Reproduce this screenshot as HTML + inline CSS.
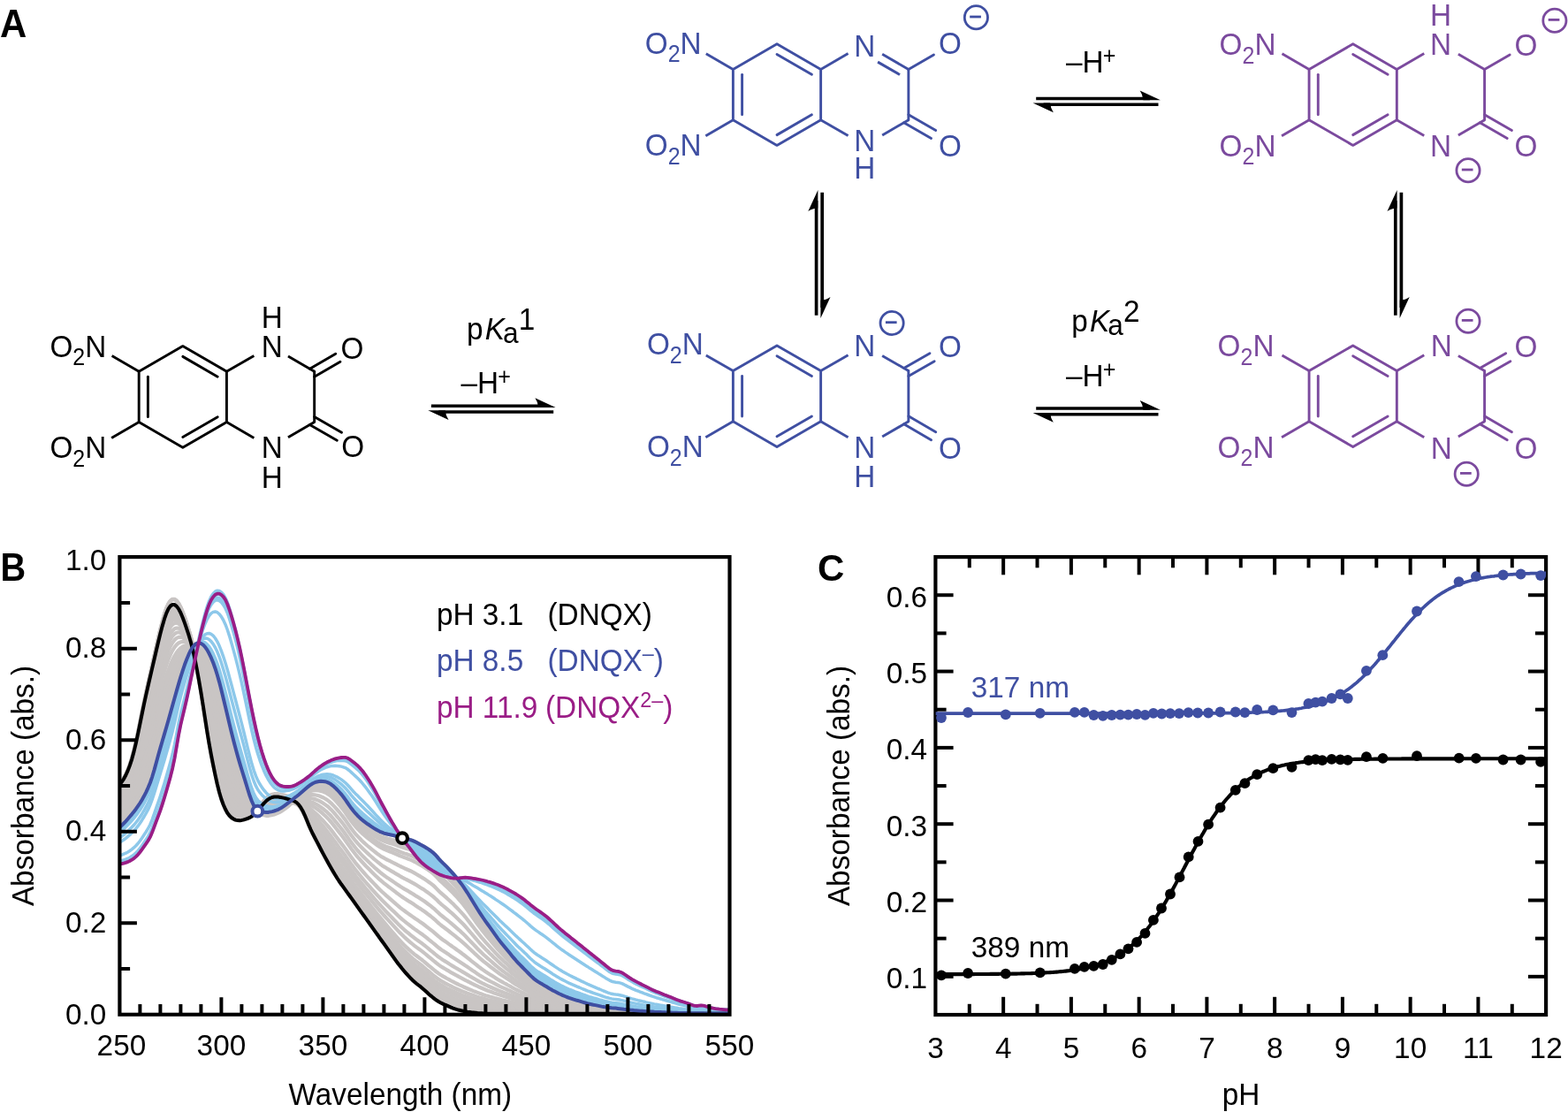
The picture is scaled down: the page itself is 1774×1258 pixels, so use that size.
<!DOCTYPE html>
<html lang="en"><head><meta charset="utf-8"><title>DNQX acid-base equilibria</title>
<style>
html,body{margin:0;padding:0;background:#fff;}
body{width:1774px;height:1258px;overflow:hidden;}
svg{display:block;font-family:"Liberation Sans",Arial,Helvetica,sans-serif;}
</style></head><body>
<svg width="1774" height="1258" viewBox="0 0 1774 1258">
<rect width="1774" height="1258" fill="#fff"/>
<g>
<polygon points="206.80,391.60 256.42,420.25 256.42,477.55 206.80,506.20 157.18,477.55 157.18,420.25" fill="none" stroke="#000000" stroke-width="2.9" stroke-linejoin="round"/>
<line x1="167.38" y1="426.14" x2="167.38" y2="471.66" stroke="#000000" stroke-width="2.9" stroke-linecap="round"/>
<line x1="206.80" y1="403.38" x2="246.22" y2="426.14" stroke="#000000" stroke-width="2.9" stroke-linecap="round"/>
<line x1="246.22" y1="471.66" x2="206.80" y2="494.42" stroke="#000000" stroke-width="2.9" stroke-linecap="round"/>
<line x1="157.18" y1="420.25" x2="126.61" y2="402.60" stroke="#000000" stroke-width="2.9" stroke-linecap="butt"/>
<line x1="157.18" y1="477.55" x2="126.17" y2="495.45" stroke="#000000" stroke-width="2.9" stroke-linecap="butt"/>
<text transform="translate(120.29,403.87) scale(1,1.07)" font-size="33.33" fill="#000000" text-anchor="end">O<tspan font-size="25.00" dy="8.97">2</tspan><tspan dy="-8.97">N</tspan></text>
<text transform="translate(120.29,518.47) scale(1,1.07)" font-size="33.33" fill="#000000" text-anchor="end">O<tspan font-size="25.00" dy="8.97">2</tspan><tspan dy="-8.97">N</tspan></text>
<line x1="256.42" y1="420.25" x2="287.34" y2="402.40" stroke="#000000" stroke-width="2.9" stroke-linecap="butt"/>
<line x1="256.42" y1="477.55" x2="287.34" y2="495.40" stroke="#000000" stroke-width="2.9" stroke-linecap="butt"/>
<line x1="325.97" y1="403.10" x2="355.67" y2="420.25" stroke="#000000" stroke-width="2.9" stroke-linecap="butt"/>
<line x1="325.97" y1="494.70" x2="355.67" y2="477.55" stroke="#000000" stroke-width="2.9" stroke-linecap="butt"/>
<line x1="355.67" y1="420.25" x2="355.67" y2="477.55" stroke="#000000" stroke-width="2.9" stroke-linecap="round"/>
<line x1="350.47" y1="417.25" x2="379.74" y2="400.35" stroke="#000000" stroke-width="2.9" stroke-linecap="round"/>
<line x1="355.67" y1="426.25" x2="384.94" y2="409.35" stroke="#000000" stroke-width="2.9" stroke-linecap="round"/>
<line x1="350.47" y1="480.55" x2="381.30" y2="498.35" stroke="#000000" stroke-width="2.9" stroke-linecap="round"/>
<line x1="355.67" y1="471.55" x2="386.50" y2="489.35" stroke="#000000" stroke-width="2.9" stroke-linecap="round"/>
<text transform="translate(398.50,405.57) scale(1,1.07)" font-size="33.33" fill="#000000" text-anchor="middle">O</text>
<text transform="translate(399.30,517.37) scale(1,1.07)" font-size="33.33" fill="#000000" text-anchor="middle">O</text>
<text transform="translate(307.85,403.87) scale(1,1.07)" font-size="33.33" fill="#000000" text-anchor="middle">N</text>
<text transform="translate(307.85,518.47) scale(1,1.07)" font-size="33.33" fill="#000000" text-anchor="middle">N</text>
<text transform="translate(307.85,370.87) scale(1,1.07)" font-size="33.33" fill="#000000" text-anchor="middle">H</text>
<text transform="translate(307.85,552.27) scale(1,1.07)" font-size="33.33" fill="#000000" text-anchor="middle">H</text>
</g>
<g>
<polygon points="879.00,49.80 928.62,78.45 928.62,135.75 879.00,164.40 829.38,135.75 829.38,78.45" fill="none" stroke="#3f4fa2" stroke-width="2.9" stroke-linejoin="round"/>
<line x1="839.58" y1="84.34" x2="839.58" y2="129.86" stroke="#3f4fa2" stroke-width="2.9" stroke-linecap="round"/>
<line x1="879.00" y1="61.58" x2="918.42" y2="84.34" stroke="#3f4fa2" stroke-width="2.9" stroke-linecap="round"/>
<line x1="918.42" y1="129.86" x2="879.00" y2="152.62" stroke="#3f4fa2" stroke-width="2.9" stroke-linecap="round"/>
<line x1="829.38" y1="78.45" x2="798.81" y2="60.80" stroke="#3f4fa2" stroke-width="2.9" stroke-linecap="butt"/>
<line x1="829.38" y1="135.75" x2="798.37" y2="153.65" stroke="#3f4fa2" stroke-width="2.9" stroke-linecap="butt"/>
<text transform="translate(793.59,60.67) scale(1,1.07)" font-size="33.33" fill="#3f4fa2" text-anchor="end">O<tspan font-size="25.00" dy="8.97">2</tspan><tspan dy="-8.97">N</tspan></text>
<text transform="translate(793.59,175.97) scale(1,1.07)" font-size="33.33" fill="#3f4fa2" text-anchor="end">O<tspan font-size="25.00" dy="8.97">2</tspan><tspan dy="-8.97">N</tspan></text>
<line x1="928.62" y1="78.45" x2="959.54" y2="60.60" stroke="#3f4fa2" stroke-width="2.9" stroke-linecap="butt"/>
<line x1="928.62" y1="135.75" x2="959.54" y2="153.60" stroke="#3f4fa2" stroke-width="2.9" stroke-linecap="butt"/>
<line x1="998.17" y1="61.30" x2="1027.87" y2="78.45" stroke="#3f4fa2" stroke-width="2.9" stroke-linecap="butt"/>
<line x1="998.17" y1="152.90" x2="1027.87" y2="135.75" stroke="#3f4fa2" stroke-width="2.9" stroke-linecap="butt"/>
<line x1="1027.87" y1="78.45" x2="1027.87" y2="135.75" stroke="#3f4fa2" stroke-width="2.9" stroke-linecap="round"/>
<line x1="993.07" y1="70.13" x2="1018.01" y2="84.53" stroke="#3f4fa2" stroke-width="2.9" stroke-linecap="butt"/>
<line x1="1027.87" y1="78.45" x2="1056.45" y2="61.95" stroke="#3f4fa2" stroke-width="2.9" stroke-linecap="round"/>
<line x1="1022.67" y1="138.75" x2="1053.50" y2="156.55" stroke="#3f4fa2" stroke-width="2.9" stroke-linecap="round"/>
<line x1="1027.87" y1="129.75" x2="1058.70" y2="147.55" stroke="#3f4fa2" stroke-width="2.9" stroke-linecap="round"/>
<text transform="translate(1075.00,61.37) scale(1,1.07)" font-size="33.33" fill="#3f4fa2" text-anchor="middle">O</text>
<text transform="translate(1075.00,176.87) scale(1,1.07)" font-size="33.33" fill="#3f4fa2" text-anchor="middle">O</text>
<text transform="translate(978.25,63.87) scale(1,1.07)" font-size="33.33" fill="#3f4fa2" text-anchor="middle">N</text>
<text transform="translate(978.25,171.27) scale(1,1.07)" font-size="33.33" fill="#3f4fa2" text-anchor="middle">N</text>
<text transform="translate(978.25,202.17) scale(1,1.07)" font-size="33.33" fill="#3f4fa2" text-anchor="middle">H</text>
<circle cx="1104.40" cy="19.80" r="13.1" fill="none" stroke="#3f4fa2" stroke-width="2.8"/>
<line x1="1097.20" y1="19.00" x2="1109.90" y2="19.00" stroke="#3f4fa2" stroke-width="2.8" stroke-linecap="butt"/>
</g>
<g>
<polygon points="879.00,390.90 928.62,419.55 928.62,476.85 879.00,505.50 829.38,476.85 829.38,419.55" fill="none" stroke="#3f4fa2" stroke-width="2.9" stroke-linejoin="round"/>
<line x1="839.58" y1="425.44" x2="839.58" y2="470.96" stroke="#3f4fa2" stroke-width="2.9" stroke-linecap="round"/>
<line x1="879.00" y1="402.68" x2="918.42" y2="425.44" stroke="#3f4fa2" stroke-width="2.9" stroke-linecap="round"/>
<line x1="918.42" y1="470.96" x2="879.00" y2="493.72" stroke="#3f4fa2" stroke-width="2.9" stroke-linecap="round"/>
<line x1="829.38" y1="419.55" x2="798.81" y2="401.90" stroke="#3f4fa2" stroke-width="2.9" stroke-linecap="butt"/>
<line x1="829.38" y1="476.85" x2="798.37" y2="494.75" stroke="#3f4fa2" stroke-width="2.9" stroke-linecap="butt"/>
<text transform="translate(795.79,401.17) scale(1,1.07)" font-size="33.33" fill="#3f4fa2" text-anchor="end">O<tspan font-size="25.00" dy="8.97">2</tspan><tspan dy="-8.97">N</tspan></text>
<text transform="translate(795.79,517.07) scale(1,1.07)" font-size="33.33" fill="#3f4fa2" text-anchor="end">O<tspan font-size="25.00" dy="8.97">2</tspan><tspan dy="-8.97">N</tspan></text>
<line x1="928.62" y1="419.55" x2="959.54" y2="401.70" stroke="#3f4fa2" stroke-width="2.9" stroke-linecap="butt"/>
<line x1="928.62" y1="476.85" x2="959.54" y2="494.70" stroke="#3f4fa2" stroke-width="2.9" stroke-linecap="butt"/>
<line x1="998.17" y1="402.40" x2="1027.87" y2="419.55" stroke="#3f4fa2" stroke-width="2.9" stroke-linecap="butt"/>
<line x1="998.17" y1="494.00" x2="1027.87" y2="476.85" stroke="#3f4fa2" stroke-width="2.9" stroke-linecap="butt"/>
<line x1="1027.87" y1="419.55" x2="1027.87" y2="476.85" stroke="#3f4fa2" stroke-width="2.9" stroke-linecap="round"/>
<line x1="1022.67" y1="416.55" x2="1051.94" y2="399.65" stroke="#3f4fa2" stroke-width="2.9" stroke-linecap="round"/>
<line x1="1027.87" y1="425.55" x2="1057.14" y2="408.65" stroke="#3f4fa2" stroke-width="2.9" stroke-linecap="round"/>
<line x1="1022.67" y1="479.85" x2="1053.50" y2="497.65" stroke="#3f4fa2" stroke-width="2.9" stroke-linecap="round"/>
<line x1="1027.87" y1="470.85" x2="1058.70" y2="488.65" stroke="#3f4fa2" stroke-width="2.9" stroke-linecap="round"/>
<text transform="translate(1075.00,404.17) scale(1,1.07)" font-size="33.33" fill="#3f4fa2" text-anchor="middle">O</text>
<text transform="translate(1075.00,518.77) scale(1,1.07)" font-size="33.33" fill="#3f4fa2" text-anchor="middle">O</text>
<text transform="translate(978.25,403.17) scale(1,1.07)" font-size="33.33" fill="#3f4fa2" text-anchor="middle">N</text>
<text transform="translate(978.25,517.77) scale(1,1.07)" font-size="33.33" fill="#3f4fa2" text-anchor="middle">N</text>
<text transform="translate(978.25,551.27) scale(1,1.07)" font-size="33.33" fill="#3f4fa2" text-anchor="middle">H</text>
<circle cx="1009.10" cy="365.50" r="13.1" fill="none" stroke="#3f4fa2" stroke-width="2.8"/>
<line x1="1001.90" y1="364.70" x2="1014.60" y2="364.70" stroke="#3f4fa2" stroke-width="2.8" stroke-linecap="butt"/>
</g>
<g>
<polygon points="1530.70,49.80 1580.32,78.45 1580.32,135.75 1530.70,164.40 1481.08,135.75 1481.08,78.45" fill="none" stroke="#7b4a9e" stroke-width="2.9" stroke-linejoin="round"/>
<line x1="1491.28" y1="84.34" x2="1491.28" y2="129.86" stroke="#7b4a9e" stroke-width="2.9" stroke-linecap="round"/>
<line x1="1530.70" y1="61.58" x2="1570.12" y2="84.34" stroke="#7b4a9e" stroke-width="2.9" stroke-linecap="round"/>
<line x1="1570.12" y1="129.86" x2="1530.70" y2="152.62" stroke="#7b4a9e" stroke-width="2.9" stroke-linecap="round"/>
<line x1="1481.08" y1="78.45" x2="1450.51" y2="60.80" stroke="#7b4a9e" stroke-width="2.9" stroke-linecap="butt"/>
<line x1="1481.08" y1="135.75" x2="1450.07" y2="153.65" stroke="#7b4a9e" stroke-width="2.9" stroke-linecap="butt"/>
<text transform="translate(1443.49,62.07) scale(1,1.07)" font-size="33.33" fill="#7b4a9e" text-anchor="end">O<tspan font-size="25.00" dy="8.97">2</tspan><tspan dy="-8.97">N</tspan></text>
<text transform="translate(1443.49,176.67) scale(1,1.07)" font-size="33.33" fill="#7b4a9e" text-anchor="end">O<tspan font-size="25.00" dy="8.97">2</tspan><tspan dy="-8.97">N</tspan></text>
<line x1="1580.32" y1="78.45" x2="1611.24" y2="60.60" stroke="#7b4a9e" stroke-width="2.9" stroke-linecap="butt"/>
<line x1="1580.32" y1="135.75" x2="1611.24" y2="153.60" stroke="#7b4a9e" stroke-width="2.9" stroke-linecap="butt"/>
<line x1="1649.87" y1="61.30" x2="1679.57" y2="78.45" stroke="#7b4a9e" stroke-width="2.9" stroke-linecap="butt"/>
<line x1="1649.87" y1="152.90" x2="1679.57" y2="135.75" stroke="#7b4a9e" stroke-width="2.9" stroke-linecap="butt"/>
<line x1="1679.57" y1="78.45" x2="1679.57" y2="135.75" stroke="#7b4a9e" stroke-width="2.9" stroke-linecap="round"/>
<line x1="1679.57" y1="78.45" x2="1708.15" y2="61.95" stroke="#7b4a9e" stroke-width="2.9" stroke-linecap="round"/>
<line x1="1674.37" y1="138.75" x2="1705.20" y2="156.55" stroke="#7b4a9e" stroke-width="2.9" stroke-linecap="round"/>
<line x1="1679.57" y1="129.75" x2="1710.40" y2="147.55" stroke="#7b4a9e" stroke-width="2.9" stroke-linecap="round"/>
<text transform="translate(1726.40,62.57) scale(1,1.07)" font-size="33.33" fill="#7b4a9e" text-anchor="middle">O</text>
<text transform="translate(1726.40,177.37) scale(1,1.07)" font-size="33.33" fill="#7b4a9e" text-anchor="middle">O</text>
<text transform="translate(1629.95,62.07) scale(1,1.07)" font-size="33.33" fill="#7b4a9e" text-anchor="middle">N</text>
<text transform="translate(1629.95,176.67) scale(1,1.07)" font-size="33.33" fill="#7b4a9e" text-anchor="middle">N</text>
<text transform="translate(1629.95,29.07) scale(1,1.07)" font-size="33.33" fill="#7b4a9e" text-anchor="middle">H</text>
<circle cx="1661.00" cy="192.80" r="13.1" fill="none" stroke="#7b4a9e" stroke-width="2.8"/>
<line x1="1653.80" y1="192.00" x2="1666.50" y2="192.00" stroke="#7b4a9e" stroke-width="2.8" stroke-linecap="butt"/>
<circle cx="1758.90" cy="23.20" r="13.1" fill="none" stroke="#7b4a9e" stroke-width="2.8"/>
<line x1="1751.70" y1="22.40" x2="1764.40" y2="22.40" stroke="#7b4a9e" stroke-width="2.8" stroke-linecap="butt"/>
</g>
<g>
<polygon points="1530.70,390.90 1580.32,419.55 1580.32,476.85 1530.70,505.50 1481.08,476.85 1481.08,419.55" fill="none" stroke="#7b4a9e" stroke-width="2.9" stroke-linejoin="round"/>
<line x1="1491.28" y1="425.44" x2="1491.28" y2="470.96" stroke="#7b4a9e" stroke-width="2.9" stroke-linecap="round"/>
<line x1="1530.70" y1="402.68" x2="1570.12" y2="425.44" stroke="#7b4a9e" stroke-width="2.9" stroke-linecap="round"/>
<line x1="1570.12" y1="470.96" x2="1530.70" y2="493.72" stroke="#7b4a9e" stroke-width="2.9" stroke-linecap="round"/>
<line x1="1481.08" y1="419.55" x2="1450.51" y2="401.90" stroke="#7b4a9e" stroke-width="2.9" stroke-linecap="butt"/>
<line x1="1481.08" y1="476.85" x2="1450.07" y2="494.75" stroke="#7b4a9e" stroke-width="2.9" stroke-linecap="butt"/>
<text transform="translate(1441.49,403.17) scale(1,1.07)" font-size="33.33" fill="#7b4a9e" text-anchor="end">O<tspan font-size="25.00" dy="8.97">2</tspan><tspan dy="-8.97">N</tspan></text>
<text transform="translate(1441.49,517.77) scale(1,1.07)" font-size="33.33" fill="#7b4a9e" text-anchor="end">O<tspan font-size="25.00" dy="8.97">2</tspan><tspan dy="-8.97">N</tspan></text>
<line x1="1580.32" y1="419.55" x2="1611.24" y2="401.70" stroke="#7b4a9e" stroke-width="2.9" stroke-linecap="butt"/>
<line x1="1580.32" y1="476.85" x2="1611.24" y2="494.70" stroke="#7b4a9e" stroke-width="2.9" stroke-linecap="butt"/>
<line x1="1649.87" y1="402.40" x2="1679.57" y2="419.55" stroke="#7b4a9e" stroke-width="2.9" stroke-linecap="butt"/>
<line x1="1649.87" y1="494.00" x2="1679.57" y2="476.85" stroke="#7b4a9e" stroke-width="2.9" stroke-linecap="butt"/>
<line x1="1679.57" y1="419.55" x2="1679.57" y2="476.85" stroke="#7b4a9e" stroke-width="2.9" stroke-linecap="round"/>
<line x1="1674.37" y1="416.55" x2="1703.64" y2="399.65" stroke="#7b4a9e" stroke-width="2.9" stroke-linecap="round"/>
<line x1="1679.57" y1="425.55" x2="1708.84" y2="408.65" stroke="#7b4a9e" stroke-width="2.9" stroke-linecap="round"/>
<line x1="1674.37" y1="479.85" x2="1705.20" y2="497.65" stroke="#7b4a9e" stroke-width="2.9" stroke-linecap="round"/>
<line x1="1679.57" y1="470.85" x2="1710.40" y2="488.65" stroke="#7b4a9e" stroke-width="2.9" stroke-linecap="round"/>
<text transform="translate(1726.40,403.67) scale(1,1.07)" font-size="33.33" fill="#7b4a9e" text-anchor="middle">O</text>
<text transform="translate(1726.40,519.27) scale(1,1.07)" font-size="33.33" fill="#7b4a9e" text-anchor="middle">O</text>
<text transform="translate(1630.85,403.17) scale(1,1.07)" font-size="33.33" fill="#7b4a9e" text-anchor="middle">N</text>
<text transform="translate(1630.75,518.77) scale(1,1.07)" font-size="33.33" fill="#7b4a9e" text-anchor="middle">N</text>
<circle cx="1661.00" cy="363.20" r="13.1" fill="none" stroke="#7b4a9e" stroke-width="2.8"/>
<line x1="1653.80" y1="362.40" x2="1666.50" y2="362.40" stroke="#7b4a9e" stroke-width="2.8" stroke-linecap="butt"/>
<circle cx="1659.20" cy="536.20" r="13.1" fill="none" stroke="#7b4a9e" stroke-width="2.8"/>
<line x1="1652.00" y1="535.40" x2="1664.70" y2="535.40" stroke="#7b4a9e" stroke-width="2.8" stroke-linecap="butt"/>
</g>
<path d="M487.90,459.25 L616.60,459.25" stroke="#000000" stroke-width="3.6" fill="none"/>
<path d="M628.60,461.05 L605.40,450.25 Q608.60,454.75 609.10,460.90 Z" fill="#000000"/>
<path d="M626.20,465.95 L496.30,465.95" stroke="#000000" stroke-width="3.6" fill="none"/>
<path d="M484.30,464.15 L507.50,474.95 Q504.30,470.45 503.80,464.30 Z" fill="#000000"/>
<path d="M1172.20,111.55 L1300.90,111.55" stroke="#000000" stroke-width="3.6" fill="none"/>
<path d="M1312.90,113.35 L1289.70,102.55 Q1292.90,107.05 1293.40,113.20 Z" fill="#000000"/>
<path d="M1310.50,118.25 L1180.60,118.25" stroke="#000000" stroke-width="3.6" fill="none"/>
<path d="M1168.60,116.45 L1191.80,127.25 Q1188.60,122.75 1188.10,116.60 Z" fill="#000000"/>
<path d="M1172.20,462.05 L1300.90,462.05" stroke="#000000" stroke-width="3.6" fill="none"/>
<path d="M1312.90,463.85 L1289.70,453.05 Q1292.90,457.55 1293.40,463.70 Z" fill="#000000"/>
<path d="M1310.50,468.75 L1180.60,468.75" stroke="#000000" stroke-width="3.6" fill="none"/>
<path d="M1168.60,466.95 L1191.80,477.75 Q1188.60,473.25 1188.10,467.10 Z" fill="#000000"/>
<path d="M923.60,356.70 L923.60,226.90" stroke="#000000" stroke-width="3.7" fill="none"/>
<path d="M925.40,214.90 L914.30,238.90 Q919.10,235.40 925.25,235.40 Z" fill="#000000"/>
<path d="M930.20,217.80 L930.20,348.10" stroke="#000000" stroke-width="3.7" fill="none"/>
<path d="M928.40,360.10 L939.50,336.10 Q934.70,339.60 928.55,339.60 Z" fill="#000000"/>
<path d="M1578.80,356.70 L1578.80,226.90" stroke="#000000" stroke-width="3.7" fill="none"/>
<path d="M1580.60,214.90 L1569.50,238.90 Q1574.30,235.40 1580.45,235.40 Z" fill="#000000"/>
<path d="M1585.40,217.80 L1585.40,348.10" stroke="#000000" stroke-width="3.7" fill="none"/>
<path d="M1583.60,360.10 L1594.70,336.10 Q1589.90,339.60 1583.75,339.60 Z" fill="#000000"/>
<text transform="translate(528.00,384.00) scale(1,1.07)" font-size="33.33" fill="#000">p<tspan font-style="italic" dx="2.3">K</tspan><tspan dy="3.55" dx="-2.0" font-size="31.66">a</tspan><tspan dy="-14.21" dx="0">1</tspan></text>
<text transform="translate(521.50,444.70) scale(1,1.07)" font-size="33.33" fill="#000">–H<tspan font-size="25.00" dy="-9.35" dx="-0.8">+</tspan></text>
<text transform="translate(1206.00,81.60) scale(1,1.07)" font-size="33.33" fill="#000">–H<tspan font-size="25.00" dy="-9.35" dx="-0.8">+</tspan></text>
<text transform="translate(1212.30,375.30) scale(1,1.07)" font-size="33.33" fill="#000">p<tspan font-style="italic" dx="2.3">K</tspan><tspan dy="3.55" dx="-2.0" font-size="31.66">a</tspan><tspan dy="-14.21" dx="0">2</tspan></text>
<text transform="translate(1206.00,436.50) scale(1,1.07)" font-size="33.33" fill="#000">–H<tspan font-size="25.00" dy="-9.35" dx="-0.8">+</tspan></text>
<text transform="translate(0.00,41.80) scale(1.005,1.078)" font-size="41.67" fill="#000" font-weight="bold">A</text>
<text transform="translate(0.55,656.60) scale(0.952,1.053)" font-size="41.67" fill="#000" font-weight="bold">B</text>
<text transform="translate(925.00,656.60) scale(1.009,1.034)" font-size="41.67" fill="#000" font-weight="bold">C</text>
<clipPath id="clipB"><rect x="135.4" y="630.1" width="690.1" height="517.65"/></clipPath>
<g clip-path="url(#clipB)" fill="none" stroke-linejoin="round" stroke-linecap="round">
<path d="M135.4,887.7L137.7,884.8L140.0,881.4L142.3,877.1L144.6,872.1L146.9,866.1L149.2,859.0L151.5,850.6L153.8,841.0L156.1,830.4L158.4,819.2L160.7,807.8L163.0,796.7L165.3,786.2L167.6,776.1L169.9,766.2L172.2,756.3L174.5,746.4L176.8,736.4L179.1,726.6L181.4,717.2L183.7,708.5L186.0,700.6L188.3,694.0L190.6,689.0L192.9,685.9L195.2,684.3L197.5,684.5L199.8,686.1L202.1,689.2L204.4,693.5L206.7,698.9L209.0,705.1L211.3,711.7L213.6,718.8L215.9,726.6L218.2,735.4L220.5,745.7L222.8,757.2L225.1,769.8L227.4,783.3L229.7,797.5L232.0,812.3L234.3,827.1L236.6,840.9L238.9,853.5L241.2,865.1L243.5,876.3L245.8,886.7L248.1,895.9L250.4,903.6L252.7,910.0L255.0,915.2L257.3,919.3L259.6,922.5L261.9,924.7L264.2,926.3L266.5,927.3L268.8,927.9L271.1,928.0L273.4,927.7L275.7,927.2L278.0,926.6L280.3,925.8L282.6,924.8L284.9,923.5L287.2,921.7L289.5,919.5L291.8,916.9L294.1,914.1L296.4,911.3L298.7,908.7L301.0,906.3L303.3,904.4L305.6,903.0L307.9,902.1L310.2,901.6L312.5,901.5L314.8,901.6L317.1,902.0L319.4,902.4L321.7,903.0L324.0,903.6L326.3,904.1L328.6,904.8L330.9,905.5L333.2,906.5L335.5,907.9L337.8,910.1L340.1,913.1L342.4,917.2L344.7,922.0L347.0,927.5L349.3,933.1L351.6,938.4L353.9,943.1L356.2,947.5L358.5,951.9L360.8,956.3L363.1,960.8L365.4,965.1L367.7,969.4L370.0,973.5L372.3,977.6L374.6,981.7L376.9,985.6L379.2,989.5L381.5,993.2L383.8,996.7L386.1,999.9L388.4,1003.1L390.7,1006.3L393.0,1009.4L395.3,1012.7L397.6,1015.9L399.9,1019.1L402.2,1022.3L404.5,1025.5L406.8,1028.7L409.1,1032.0L411.4,1035.2L413.7,1038.4L416.0,1041.6L418.3,1044.8L420.6,1048.0L422.9,1051.3L425.2,1054.5L427.5,1057.7L429.8,1060.9L432.1,1064.1L434.4,1067.3L436.7,1070.5L439.0,1073.8L441.3,1077.0L443.6,1080.2L445.9,1083.5L448.2,1086.7L450.5,1089.7L452.8,1092.7L455.1,1095.5L457.4,1098.2L459.7,1100.9L462.0,1103.4L464.3,1105.9L466.6,1108.2L468.9,1110.3L471.2,1112.2L473.5,1114.0L475.8,1115.7L478.1,1117.7L480.4,1119.7L482.7,1121.8L485.0,1123.9L487.3,1125.9L489.6,1127.8L491.9,1129.6L494.2,1131.3L496.5,1132.7L498.8,1134.0L501.1,1135.1L503.4,1136.2L505.7,1137.3L508.0,1138.3L510.3,1139.2L512.6,1140.1L514.9,1140.9L517.2,1141.6L519.5,1142.3L521.8,1142.9L524.1,1143.4L526.4,1143.9L528.7,1144.2L531.0,1144.6L533.3,1144.9L535.6,1145.1L537.9,1145.4L540.2,1145.6L542.5,1145.8L544.8,1146.0L547.1,1146.2L549.4,1146.3L551.7,1146.4L554.0,1146.4L556.3,1146.4L558.6,1146.4L560.9,1146.4L563.2,1146.5L565.5,1146.5L567.8,1146.5L570.1,1146.5L572.4,1146.5L574.7,1146.5L577.0,1146.5L579.3,1146.5L581.6,1146.5L583.9,1146.5L586.2,1146.5L588.5,1146.5L590.8,1146.6L593.1,1146.6L595.4,1146.6L597.7,1146.6L600.0,1146.6L602.3,1146.6L604.6,1146.6L606.9,1146.6L609.2,1146.6L611.5,1146.6L613.8,1146.6L616.1,1146.6L618.4,1146.6L620.7,1146.6L623.0,1146.6L625.3,1146.6L627.6,1146.6L629.9,1146.6L632.2,1146.6L634.5,1146.6L636.8,1146.7L639.1,1146.7L641.4,1146.7L643.7,1146.7L646.0,1146.7L648.3,1146.7L650.6,1146.7L652.9,1146.7L655.2,1146.7L657.5,1146.7L659.8,1146.7L662.1,1146.7L664.4,1146.7L666.7,1146.7L669.0,1146.7L671.3,1146.7L673.6,1146.7L675.9,1146.7L678.2,1146.7L680.5,1146.7L682.8,1146.7L685.1,1146.7L687.4,1146.7L689.7,1146.7L692.0,1146.7L694.3,1146.7L696.6,1146.7L698.9,1146.7L701.2,1146.7L703.5,1146.7L705.8,1146.7L708.1,1146.7L710.4,1146.7L712.7,1146.7L715.0,1146.7L717.3,1146.7L719.6,1146.7L721.9,1146.7L724.2,1146.7L726.5,1146.7L728.8,1146.7L731.1,1146.7L733.4,1146.7L735.7,1146.7L738.0,1146.7L740.3,1146.7L742.6,1146.7L744.9,1146.7L747.2,1146.7L749.5,1146.7L751.8,1146.7L754.1,1146.7L756.4,1146.7L758.7,1146.7L761.0,1146.7L763.3,1146.7L765.6,1146.7L767.9,1146.7L770.2,1146.7L772.5,1146.7L774.8,1146.7L777.1,1146.7L779.4,1146.7L781.7,1146.7L784.0,1146.7L786.3,1146.7L788.6,1146.7L790.9,1146.7L793.2,1146.7L795.5,1146.7L797.8,1146.7L800.1,1146.7L802.4,1146.7L804.7,1146.7L807.0,1146.7L809.3,1146.7L811.6,1146.7L813.9,1146.7L816.2,1146.7L818.5,1146.7L820.8,1146.7L823.1,1146.7L825.4,1146.7" stroke="#c9c5c4" stroke-width="4.2"/>
<path d="M135.4,887.1L137.7,884.2L140.0,880.6L142.3,876.3L144.6,871.0L146.9,864.9L149.2,857.6L151.5,849.1L153.8,839.3L156.1,828.5L158.4,817.1L160.7,805.4L163.0,794.2L165.3,783.4L167.6,773.0L169.9,762.7L172.2,752.6L174.5,742.3L176.8,732.0L179.1,721.9L181.4,712.2L183.7,703.2L186.0,695.1L188.3,688.2L190.6,683.1L192.9,679.7L195.2,678.1L197.5,678.1L199.8,679.7L202.1,682.7L204.4,687.0L206.7,692.5L209.0,698.8L211.3,705.5L213.6,712.8L215.9,720.7L218.2,729.8L220.5,740.2L222.8,752.0L225.1,764.8L227.4,778.5L229.7,793.0L232.0,808.1L234.3,823.1L236.6,837.1L238.9,849.9L241.2,861.8L243.5,873.1L245.8,883.7L248.1,893.1L250.4,901.0L252.7,907.6L255.0,912.9L257.3,917.3L259.6,920.6L261.9,923.0L264.2,924.7L266.5,925.9L268.8,926.6L271.1,926.9L273.4,926.7L275.7,926.4L278.0,925.9L280.3,925.2L282.6,924.3L284.9,923.1L287.2,921.4L289.5,919.3L291.8,916.7L294.1,914.0L296.4,911.3L298.7,908.7L301.0,906.4L303.3,904.5L305.6,903.1L307.9,902.2L310.2,901.7L312.5,901.6L314.8,901.7L317.1,902.1L319.4,902.5L321.7,903.0L324.0,903.6L326.3,904.2L328.6,904.8L330.9,905.5L333.2,906.4L335.5,907.8L337.8,910.0L340.1,913.0L342.4,916.9L344.7,921.7L347.0,927.1L349.3,932.7L351.6,937.9L353.9,942.6L356.2,946.9L358.5,951.2L360.8,955.6L363.1,960.0L365.4,964.3L367.7,968.5L370.0,972.6L372.3,976.7L374.6,980.7L376.9,984.7L379.2,988.6L381.5,992.3L383.8,995.7L386.1,999.0L388.4,1002.1L390.7,1005.3L393.0,1008.4L395.3,1011.7L397.6,1014.9L399.9,1018.1L402.2,1021.3L404.5,1024.5L406.8,1027.7L409.1,1030.9L411.4,1034.1L413.7,1037.3L416.0,1040.5L418.3,1043.7L420.6,1046.9L422.9,1050.1L425.2,1053.3L427.5,1056.5L429.8,1059.7L432.1,1062.9L434.4,1066.1L436.7,1069.3L439.0,1072.5L441.3,1075.7L443.6,1078.9L445.9,1082.1L448.2,1085.3L450.5,1088.3L452.8,1091.2L455.1,1094.1L457.4,1096.8L459.7,1099.4L462.0,1101.9L464.3,1104.3L466.6,1106.6L468.9,1108.7L471.2,1110.6L473.5,1112.4L475.8,1114.2L478.1,1116.1L480.4,1118.1L482.7,1120.2L485.0,1122.3L487.3,1124.3L489.6,1126.2L491.9,1128.0L494.2,1129.7L496.5,1131.1L498.8,1132.4L501.1,1133.6L503.4,1134.7L505.7,1135.7L508.0,1136.7L510.3,1137.7L512.6,1138.6L514.9,1139.4L517.2,1140.2L519.5,1140.9L521.8,1141.5L524.1,1142.0L526.4,1142.5L528.7,1142.9L531.0,1143.3L533.3,1143.6L535.6,1143.9L537.9,1144.2L540.2,1144.4L542.5,1144.7L544.8,1144.9L547.1,1145.1L549.4,1145.3L551.7,1145.4L554.0,1145.5L556.3,1145.5L558.6,1145.5L560.9,1145.6L563.2,1145.6L565.5,1145.7L567.8,1145.7L570.1,1145.7L572.4,1145.8L574.7,1145.8L577.0,1145.8L579.3,1145.9L581.6,1145.9L583.9,1145.9L586.2,1146.0L588.5,1146.0L590.8,1146.0L593.1,1146.1L595.4,1146.1L597.7,1146.1L600.0,1146.2L602.3,1146.2L604.6,1146.2L606.9,1146.2L609.2,1146.3L611.5,1146.3L613.8,1146.3L616.1,1146.3L618.4,1146.3L620.7,1146.3L623.0,1146.4L625.3,1146.4L627.6,1146.4L629.9,1146.4L632.2,1146.4L634.5,1146.4L636.8,1146.5L639.1,1146.5L641.4,1146.5L643.7,1146.5L646.0,1146.5L648.3,1146.5L650.6,1146.5L652.9,1146.5L655.2,1146.5L657.5,1146.5L659.8,1146.6L662.1,1146.6L664.4,1146.6L666.7,1146.6L669.0,1146.6L671.3,1146.6L673.6,1146.6L675.9,1146.6L678.2,1146.6L680.5,1146.6L682.8,1146.6L685.1,1146.6L687.4,1146.6L689.7,1146.6L692.0,1146.6L694.3,1146.6L696.6,1146.6L698.9,1146.6L701.2,1146.6L703.5,1146.6L705.8,1146.7L708.1,1146.7L710.4,1146.7L712.7,1146.7L715.0,1146.7L717.3,1146.7L719.6,1146.7L721.9,1146.7L724.2,1146.7L726.5,1146.7L728.8,1146.7L731.1,1146.7L733.4,1146.7L735.7,1146.7L738.0,1146.7L740.3,1146.7L742.6,1146.7L744.9,1146.7L747.2,1146.7L749.5,1146.7L751.8,1146.7L754.1,1146.7L756.4,1146.7L758.7,1146.7L761.0,1146.7L763.3,1146.7L765.6,1146.7L767.9,1146.7L770.2,1146.7L772.5,1146.7L774.8,1146.7L777.1,1146.7L779.4,1146.7L781.7,1146.7L784.0,1146.7L786.3,1146.7L788.6,1146.7L790.9,1146.7L793.2,1146.7L795.5,1146.7L797.8,1146.7L800.1,1146.7L802.4,1146.7L804.7,1146.7L807.0,1146.7L809.3,1146.7L811.6,1146.7L813.9,1146.7L816.2,1146.7L818.5,1146.7L820.8,1146.7L823.1,1146.7L825.4,1146.7" stroke="#c9c5c4" stroke-width="4.2"/>
<path d="M135.4,887.0L137.7,884.1L140.0,880.5L142.3,876.1L144.6,870.9L146.9,864.8L149.2,857.5L151.5,848.9L153.8,839.1L156.1,828.3L158.4,816.8L160.7,805.2L163.0,793.9L165.3,783.1L167.6,772.7L169.9,762.5L172.2,752.3L174.5,742.0L176.8,731.7L179.1,721.6L181.4,711.9L183.7,702.9L186.0,694.7L188.3,687.9L190.6,682.8L192.9,679.4L195.2,677.8L197.5,677.8L199.8,679.5L202.1,682.5L204.4,686.9L206.7,692.4L209.0,698.7L211.3,705.5L213.6,712.7L215.9,720.7L218.2,729.8L220.5,740.3L222.8,752.1L225.1,764.9L227.4,778.7L229.7,793.2L232.0,808.3L234.3,823.3L236.6,837.4L238.9,850.2L241.2,862.0L243.5,873.4L245.8,884.0L248.1,893.4L250.4,901.3L252.7,907.9L255.0,913.2L257.3,917.5L259.6,920.8L261.9,923.2L264.2,924.9L266.5,926.1L268.8,926.8L271.1,927.0L273.4,926.9L275.7,926.5L278.0,926.0L280.3,925.3L282.6,924.4L284.9,923.1L287.2,921.5L289.5,919.3L291.8,916.7L294.1,914.0L296.4,911.2L298.7,908.6L301.0,906.3L303.3,904.5L305.6,903.1L307.9,902.2L310.2,901.7L312.5,901.6L314.8,901.7L317.1,902.0L319.4,902.5L321.7,903.0L324.0,903.6L326.3,904.2L328.6,904.8L330.9,905.5L333.2,906.4L335.5,907.9L337.8,910.0L340.1,913.0L342.4,917.0L344.7,921.8L347.0,927.2L349.3,932.8L351.6,938.0L353.9,942.7L356.2,947.1L358.5,951.4L360.8,955.8L363.1,960.2L365.4,964.5L367.7,968.7L370.0,972.9L372.3,976.9L374.6,981.0L376.9,984.9L379.2,988.8L381.5,992.5L383.8,996.0L386.1,999.2L388.4,1002.4L390.7,1005.5L393.0,1008.7L395.3,1011.9L397.6,1015.1L399.9,1018.3L402.2,1021.6L404.5,1024.8L406.8,1028.0L409.1,1031.2L411.4,1034.4L413.7,1037.6L416.0,1040.8L418.3,1044.0L420.6,1047.2L422.9,1050.4L425.2,1053.6L427.5,1056.8L429.8,1060.0L432.1,1063.2L434.4,1066.4L436.7,1069.6L439.0,1072.8L441.3,1076.0L443.6,1079.2L445.9,1082.5L448.2,1085.6L450.5,1088.7L452.8,1091.6L455.1,1094.4L457.4,1097.1L459.7,1099.8L462.0,1102.3L464.3,1104.7L466.6,1107.0L468.9,1109.1L471.2,1111.0L473.5,1112.8L475.8,1114.6L478.1,1116.5L480.4,1118.5L482.7,1120.6L485.0,1122.7L487.3,1124.7L489.6,1126.6L491.9,1128.4L494.2,1130.1L496.5,1131.5L498.8,1132.8L501.1,1134.0L503.4,1135.1L505.7,1136.1L508.0,1137.1L510.3,1138.1L512.6,1139.0L514.9,1139.8L517.2,1140.6L519.5,1141.2L521.8,1141.8L524.1,1142.4L526.4,1142.8L528.7,1143.3L531.0,1143.6L533.3,1143.9L535.6,1144.2L537.9,1144.5L540.2,1144.7L542.5,1145.0L544.8,1145.2L547.1,1145.4L549.4,1145.5L551.7,1145.7L554.0,1145.7L556.3,1145.7L558.6,1145.8L560.9,1145.8L563.2,1145.8L565.5,1145.9L567.8,1145.9L570.1,1145.9L572.4,1146.0L574.7,1146.0L577.0,1146.0L579.3,1146.0L581.6,1146.1L583.9,1146.1L586.2,1146.1L588.5,1146.1L590.8,1146.2L593.1,1146.2L595.4,1146.2L597.7,1146.2L600.0,1146.3L602.3,1146.3L604.6,1146.3L606.9,1146.3L609.2,1146.3L611.5,1146.4L613.8,1146.4L616.1,1146.4L618.4,1146.4L620.7,1146.4L623.0,1146.4L625.3,1146.4L627.6,1146.5L629.9,1146.5L632.2,1146.5L634.5,1146.5L636.8,1146.5L639.1,1146.5L641.4,1146.5L643.7,1146.5L646.0,1146.5L648.3,1146.5L650.6,1146.6L652.9,1146.6L655.2,1146.6L657.5,1146.6L659.8,1146.6L662.1,1146.6L664.4,1146.6L666.7,1146.6L669.0,1146.6L671.3,1146.6L673.6,1146.6L675.9,1146.6L678.2,1146.6L680.5,1146.6L682.8,1146.6L685.1,1146.6L687.4,1146.6L689.7,1146.6L692.0,1146.6L694.3,1146.6L696.6,1146.7L698.9,1146.7L701.2,1146.7L703.5,1146.7L705.8,1146.7L708.1,1146.7L710.4,1146.7L712.7,1146.7L715.0,1146.7L717.3,1146.7L719.6,1146.7L721.9,1146.7L724.2,1146.7L726.5,1146.7L728.8,1146.7L731.1,1146.7L733.4,1146.7L735.7,1146.7L738.0,1146.7L740.3,1146.7L742.6,1146.7L744.9,1146.7L747.2,1146.7L749.5,1146.7L751.8,1146.7L754.1,1146.7L756.4,1146.7L758.7,1146.7L761.0,1146.7L763.3,1146.7L765.6,1146.7L767.9,1146.7L770.2,1146.7L772.5,1146.7L774.8,1146.7L777.1,1146.7L779.4,1146.7L781.7,1146.7L784.0,1146.7L786.3,1146.7L788.6,1146.7L790.9,1146.7L793.2,1146.7L795.5,1146.7L797.8,1146.7L800.1,1146.7L802.4,1146.7L804.7,1146.7L807.0,1146.7L809.3,1146.7L811.6,1146.7L813.9,1146.7L816.2,1146.7L818.5,1146.7L820.8,1146.7L823.1,1146.7L825.4,1146.7" stroke="#c9c5c4" stroke-width="4.2"/>
<path d="M135.4,887.2L137.7,884.3L140.0,880.8L142.3,876.4L144.6,871.2L146.9,865.0L149.2,857.8L151.5,849.2L153.8,839.5L156.1,828.7L158.4,817.3L160.7,805.7L163.0,794.4L165.3,783.6L167.6,773.2L169.9,763.0L172.2,752.9L174.5,742.6L176.8,732.3L179.1,722.2L181.4,712.5L183.7,703.5L186.0,695.4L188.3,688.5L190.6,683.4L192.9,680.0L195.2,678.3L197.5,678.4L199.8,680.0L202.1,683.0L204.4,687.2L206.7,692.7L209.0,698.9L211.3,705.6L213.6,712.8L215.9,720.7L218.2,729.8L220.5,740.2L222.8,751.9L225.1,764.7L227.4,778.4L229.7,792.9L232.0,807.9L234.3,822.9L236.6,836.9L238.9,849.6L241.2,861.5L243.5,872.8L245.8,883.4L248.1,892.8L250.4,900.7L252.7,907.3L255.0,912.7L257.3,917.0L259.6,920.3L261.9,922.7L264.2,924.5L266.5,925.7L268.8,926.5L271.1,926.7L273.4,926.6L275.7,926.3L278.0,925.8L280.3,925.1L282.6,924.3L284.9,923.1L287.2,921.4L289.5,919.3L291.8,916.7L294.1,914.0L296.4,911.3L298.7,908.7L301.0,906.4L303.3,904.5L305.6,903.2L307.9,902.2L310.2,901.8L312.5,901.6L314.8,901.8L317.1,902.1L319.4,902.5L321.7,903.1L324.0,903.6L326.3,904.2L328.6,904.8L330.9,905.5L333.2,906.4L335.5,907.8L337.8,909.9L340.1,913.0L342.4,916.9L344.7,921.7L347.0,927.0L349.3,932.5L351.6,937.8L353.9,942.4L356.2,946.8L358.5,951.0L360.8,955.4L363.1,959.8L365.4,964.1L367.7,968.3L370.0,972.4L372.3,976.5L374.6,980.5L376.9,984.4L379.2,988.3L381.5,992.0L383.8,995.5L386.1,998.7L388.4,1001.9L390.7,1005.0L393.0,1008.2L395.3,1011.4L397.6,1014.6L399.9,1017.8L402.2,1021.1L404.5,1024.3L406.8,1027.5L409.1,1030.7L411.4,1033.9L413.7,1037.1L416.0,1040.3L418.3,1043.5L420.6,1046.7L422.9,1049.9L425.2,1053.0L427.5,1056.2L429.8,1059.4L432.1,1062.6L434.4,1065.8L436.7,1069.0L439.0,1072.2L441.3,1075.4L443.6,1078.6L445.9,1081.8L448.2,1084.9L450.5,1088.0L452.8,1090.9L455.1,1093.7L457.4,1096.4L459.7,1099.0L462.0,1101.5L464.3,1103.9L466.6,1106.2L468.9,1108.4L471.2,1110.3L473.5,1112.0L475.8,1113.8L478.1,1115.7L480.4,1117.7L482.7,1119.8L485.0,1121.9L487.3,1123.9L489.6,1125.8L491.9,1127.6L494.2,1129.3L496.5,1130.7L498.8,1132.0L501.1,1133.2L503.4,1134.3L505.7,1135.3L508.0,1136.4L510.3,1137.3L512.6,1138.2L514.9,1139.1L517.2,1139.8L519.5,1140.5L521.8,1141.1L524.1,1141.7L526.4,1142.2L528.7,1142.6L531.0,1143.0L533.3,1143.3L535.6,1143.6L537.9,1143.9L540.2,1144.2L542.5,1144.4L544.8,1144.6L547.1,1144.9L549.4,1145.0L551.7,1145.2L554.0,1145.2L556.3,1145.3L558.6,1145.3L560.9,1145.4L563.2,1145.4L565.5,1145.5L567.8,1145.5L570.1,1145.5L572.4,1145.6L574.7,1145.6L577.0,1145.7L579.3,1145.7L581.6,1145.8L583.9,1145.8L586.2,1145.8L588.5,1145.9L590.8,1145.9L593.1,1145.9L595.4,1146.0L597.7,1146.0L600.0,1146.1L602.3,1146.1L604.6,1146.1L606.9,1146.1L609.2,1146.2L611.5,1146.2L613.8,1146.2L616.1,1146.2L618.4,1146.3L620.7,1146.3L623.0,1146.3L625.3,1146.3L627.6,1146.3L629.9,1146.4L632.2,1146.4L634.5,1146.4L636.8,1146.4L639.1,1146.4L641.4,1146.4L643.7,1146.4L646.0,1146.5L648.3,1146.5L650.6,1146.5L652.9,1146.5L655.2,1146.5L657.5,1146.5L659.8,1146.5L662.1,1146.5L664.4,1146.5L666.7,1146.5L669.0,1146.6L671.3,1146.6L673.6,1146.6L675.9,1146.6L678.2,1146.6L680.5,1146.6L682.8,1146.6L685.1,1146.6L687.4,1146.6L689.7,1146.6L692.0,1146.6L694.3,1146.6L696.6,1146.6L698.9,1146.6L701.2,1146.6L703.5,1146.6L705.8,1146.6L708.1,1146.6L710.4,1146.6L712.7,1146.7L715.0,1146.7L717.3,1146.7L719.6,1146.7L721.9,1146.7L724.2,1146.7L726.5,1146.7L728.8,1146.7L731.1,1146.7L733.4,1146.7L735.7,1146.7L738.0,1146.7L740.3,1146.7L742.6,1146.7L744.9,1146.7L747.2,1146.7L749.5,1146.7L751.8,1146.7L754.1,1146.7L756.4,1146.7L758.7,1146.7L761.0,1146.7L763.3,1146.7L765.6,1146.7L767.9,1146.7L770.2,1146.7L772.5,1146.7L774.8,1146.7L777.1,1146.7L779.4,1146.7L781.7,1146.7L784.0,1146.7L786.3,1146.7L788.6,1146.7L790.9,1146.7L793.2,1146.7L795.5,1146.7L797.8,1146.7L800.1,1146.7L802.4,1146.7L804.7,1146.7L807.0,1146.7L809.3,1146.7L811.6,1146.7L813.9,1146.7L816.2,1146.7L818.5,1146.7L820.8,1146.7L823.1,1146.7L825.4,1146.7" stroke="#c9c5c4" stroke-width="4.2"/>
<path d="M135.4,889.2L137.7,886.4L140.0,883.0L142.3,878.8L144.6,873.8L146.9,867.9L149.2,860.9L151.5,852.7L153.8,843.3L156.1,832.9L158.4,821.9L160.7,810.8L163.0,800.0L165.3,789.6L167.6,779.7L169.9,769.9L172.2,760.1L174.5,750.2L176.8,740.3L179.1,730.5L181.4,721.2L183.7,712.5L186.0,704.6L188.3,698.0L190.6,692.9L192.9,689.6L195.2,687.9L197.5,687.7L199.8,689.1L202.1,691.8L204.4,695.7L206.7,700.7L209.0,706.5L211.3,712.8L213.6,719.4L215.9,726.8L218.2,735.3L220.5,745.2L222.8,756.3L225.1,768.5L227.4,781.6L229.7,795.4L232.0,809.8L234.3,824.2L236.6,837.8L238.9,850.1L241.2,861.6L243.5,872.5L245.8,882.8L248.1,892.0L250.4,899.8L252.7,906.3L255.0,911.6L257.3,915.9L259.6,919.2L261.9,921.7L264.2,923.5L266.5,924.8L268.8,925.6L271.1,926.0L273.4,925.9L275.7,925.7L278.0,925.3L280.3,924.8L282.6,924.0L284.9,923.0L287.2,921.4L289.5,919.3L291.8,916.9L294.1,914.2L296.4,911.5L298.7,909.0L301.0,906.7L303.3,904.9L305.6,903.5L307.9,902.6L310.2,902.1L312.5,902.0L314.8,902.1L317.1,902.3L319.4,902.8L321.7,903.2L324.0,903.8L326.3,904.3L328.6,904.8L330.9,905.5L333.2,906.4L335.5,907.7L337.8,909.7L340.1,912.7L342.4,916.5L344.7,921.1L347.0,926.3L349.3,931.7L351.6,936.8L353.9,941.4L356.2,945.6L358.5,949.8L360.8,954.1L363.1,958.4L365.4,962.6L367.7,966.7L370.0,970.8L372.3,974.8L374.6,978.7L376.9,982.6L379.2,986.5L381.5,990.1L383.8,993.6L386.1,996.8L388.4,999.9L390.7,1003.1L393.0,1006.3L395.3,1009.5L397.6,1012.7L399.9,1015.9L402.2,1019.1L404.5,1022.3L406.8,1025.5L409.1,1028.7L411.4,1031.9L413.7,1035.1L416.0,1038.2L418.3,1041.4L420.6,1044.5L422.9,1047.7L425.2,1050.9L427.5,1054.0L429.8,1057.2L432.1,1060.3L434.4,1063.5L436.7,1066.6L439.0,1069.7L441.3,1072.9L443.6,1076.0L445.9,1079.2L448.2,1082.3L450.5,1085.3L452.8,1088.2L455.1,1090.9L457.4,1093.6L459.7,1096.2L462.0,1098.6L464.3,1101.0L466.6,1103.3L468.9,1105.4L471.2,1107.3L473.5,1109.0L475.8,1110.8L478.1,1112.7L480.4,1114.7L482.7,1116.8L485.0,1118.8L487.3,1120.8L489.6,1122.7L491.9,1124.6L494.2,1126.2L496.5,1127.7L498.8,1129.0L501.1,1130.2L503.4,1131.3L505.7,1132.4L508.0,1133.5L510.3,1134.5L512.6,1135.4L514.9,1136.3L517.2,1137.1L519.5,1137.8L521.8,1138.5L524.1,1139.1L526.4,1139.6L528.7,1140.1L531.0,1140.5L533.3,1140.9L535.6,1141.3L537.9,1141.6L540.2,1142.0L542.5,1142.3L544.8,1142.6L547.1,1142.8L549.4,1143.1L551.7,1143.3L554.0,1143.4L556.3,1143.5L558.6,1143.6L560.9,1143.7L563.2,1143.8L565.5,1143.9L567.8,1144.0L570.1,1144.1L572.4,1144.2L574.7,1144.3L577.0,1144.4L579.3,1144.5L581.6,1144.6L583.9,1144.7L586.2,1144.8L588.5,1144.8L590.8,1144.9L593.1,1145.0L595.4,1145.1L597.7,1145.2L600.0,1145.2L602.3,1145.3L604.6,1145.4L606.9,1145.4L609.2,1145.5L611.5,1145.5L613.8,1145.6L616.1,1145.6L618.4,1145.7L620.7,1145.7L623.0,1145.8L625.3,1145.8L627.6,1145.9L629.9,1145.9L632.2,1145.9L634.5,1146.0L636.8,1146.0L639.1,1146.0L641.4,1146.1L643.7,1146.1L646.0,1146.1L648.3,1146.2L650.6,1146.2L652.9,1146.2L655.2,1146.2L657.5,1146.3L659.8,1146.3L662.1,1146.3L664.4,1146.3L666.7,1146.3L669.0,1146.4L671.3,1146.4L673.6,1146.4L675.9,1146.4L678.2,1146.4L680.5,1146.4L682.8,1146.5L685.1,1146.5L687.4,1146.5L689.7,1146.5L692.0,1146.5L694.3,1146.5L696.6,1146.5L698.9,1146.5L701.2,1146.5L703.5,1146.5L705.8,1146.5L708.1,1146.6L710.4,1146.6L712.7,1146.6L715.0,1146.6L717.3,1146.6L719.6,1146.6L721.9,1146.6L724.2,1146.6L726.5,1146.6L728.8,1146.6L731.1,1146.6L733.4,1146.6L735.7,1146.6L738.0,1146.6L740.3,1146.6L742.6,1146.7L744.9,1146.7L747.2,1146.7L749.5,1146.7L751.8,1146.7L754.1,1146.7L756.4,1146.7L758.7,1146.7L761.0,1146.7L763.3,1146.7L765.6,1146.7L767.9,1146.7L770.2,1146.7L772.5,1146.7L774.8,1146.7L777.1,1146.7L779.4,1146.7L781.7,1146.7L784.0,1146.7L786.3,1146.7L788.6,1146.7L790.9,1146.7L793.2,1146.7L795.5,1146.7L797.8,1146.7L800.1,1146.7L802.4,1146.7L804.7,1146.7L807.0,1146.7L809.3,1146.7L811.6,1146.7L813.9,1146.7L816.2,1146.7L818.5,1146.7L820.8,1146.7L823.1,1146.7L825.4,1146.7" stroke="#c9c5c4" stroke-width="4.2"/>
<path d="M135.4,889.6L137.7,886.8L140.0,883.4L142.3,879.2L144.6,874.2L146.9,868.3L149.2,861.4L151.5,853.2L153.8,843.9L156.1,833.6L158.4,822.7L160.7,811.6L163.0,800.8L165.3,790.5L167.6,780.6L169.9,770.9L172.2,761.1L174.5,751.3L176.8,741.3L179.1,731.6L181.4,722.3L183.7,713.5L186.0,705.7L188.3,699.0L190.6,694.0L192.9,690.6L195.2,688.8L197.5,688.6L199.8,689.9L202.1,692.5L204.4,696.3L206.7,701.2L209.0,706.9L211.3,713.0L213.6,719.6L215.9,726.9L218.2,735.3L220.5,745.0L222.8,756.1L225.1,768.2L227.4,781.1L229.7,794.9L232.0,809.2L234.3,823.5L236.6,837.0L238.9,849.2L241.2,860.6L243.5,871.6L245.8,881.8L248.1,891.0L250.4,898.8L252.7,905.3L255.0,910.6L257.3,915.0L259.6,918.4L261.9,920.9L264.2,922.8L266.5,924.2L268.8,925.0L271.1,925.4L273.4,925.5L275.7,925.3L278.0,925.0L280.3,924.5L282.6,923.8L284.9,922.8L287.2,921.3L289.5,919.3L291.8,916.9L294.1,914.2L296.4,911.6L298.7,909.1L301.0,906.8L303.3,905.0L305.6,903.6L307.9,902.7L310.2,902.2L312.5,902.1L314.8,902.2L317.1,902.5L319.4,902.8L321.7,903.3L324.0,903.8L326.3,904.3L328.6,904.8L330.9,905.5L333.2,906.3L335.5,907.6L337.8,909.7L340.1,912.5L342.4,916.3L344.7,920.9L347.0,926.0L349.3,931.4L351.6,936.4L353.9,940.9L356.2,945.1L358.5,949.2L360.8,953.5L363.1,957.8L365.4,962.0L367.7,966.0L370.0,970.0L372.3,974.0L374.6,978.0L376.9,981.8L379.2,985.7L381.5,989.3L383.8,992.8L386.1,996.0L388.4,999.1L390.7,1002.3L393.0,1005.5L395.3,1008.7L397.6,1011.9L399.9,1015.1L402.2,1018.3L404.5,1021.5L406.8,1024.7L409.1,1027.8L411.4,1031.0L413.7,1034.2L416.0,1037.3L418.3,1040.5L420.6,1043.6L422.9,1046.8L425.2,1049.9L427.5,1053.1L429.8,1056.2L432.1,1059.3L434.4,1062.4L436.7,1065.5L439.0,1068.7L441.3,1071.8L443.6,1074.9L445.9,1078.1L448.2,1081.1L450.5,1084.1L452.8,1087.0L455.1,1089.7L457.4,1092.4L459.7,1094.9L462.0,1097.4L464.3,1099.7L466.6,1102.0L468.9,1104.1L471.2,1106.0L473.5,1107.7L475.8,1109.5L478.1,1111.4L480.4,1113.4L482.7,1115.5L485.0,1117.5L487.3,1119.5L489.6,1121.4L491.9,1123.2L494.2,1124.9L496.5,1126.4L498.8,1127.7L501.1,1128.9L503.4,1130.1L505.7,1131.1L508.0,1132.2L510.3,1133.2L512.6,1134.2L514.9,1135.0L517.2,1135.8L519.5,1136.6L521.8,1137.3L524.1,1137.9L526.4,1138.5L528.7,1139.0L531.0,1139.4L533.3,1139.9L535.6,1140.3L537.9,1140.7L540.2,1141.0L542.5,1141.3L544.8,1141.7L547.1,1142.0L549.4,1142.2L551.7,1142.5L554.0,1142.6L556.3,1142.7L558.6,1142.9L560.9,1143.0L563.2,1143.1L565.5,1143.3L567.8,1143.4L570.1,1143.5L572.4,1143.6L574.7,1143.7L577.0,1143.8L579.3,1144.0L581.6,1144.1L583.9,1144.2L586.2,1144.3L588.5,1144.4L590.8,1144.5L593.1,1144.6L595.4,1144.7L597.7,1144.8L600.0,1144.9L602.3,1145.0L604.6,1145.1L606.9,1145.1L609.2,1145.2L611.5,1145.3L613.8,1145.3L616.1,1145.4L618.4,1145.4L620.7,1145.5L623.0,1145.6L625.3,1145.6L627.6,1145.7L629.9,1145.7L632.2,1145.8L634.5,1145.8L636.8,1145.8L639.1,1145.9L641.4,1145.9L643.7,1146.0L646.0,1146.0L648.3,1146.0L650.6,1146.1L652.9,1146.1L655.2,1146.1L657.5,1146.1L659.8,1146.2L662.1,1146.2L664.4,1146.2L666.7,1146.3L669.0,1146.3L671.3,1146.3L673.6,1146.3L675.9,1146.3L678.2,1146.4L680.5,1146.4L682.8,1146.4L685.1,1146.4L687.4,1146.4L689.7,1146.4L692.0,1146.4L694.3,1146.4L696.6,1146.5L698.9,1146.5L701.2,1146.5L703.5,1146.5L705.8,1146.5L708.1,1146.5L710.4,1146.5L712.7,1146.5L715.0,1146.6L717.3,1146.6L719.6,1146.6L721.9,1146.6L724.2,1146.6L726.5,1146.6L728.8,1146.6L731.1,1146.6L733.4,1146.6L735.7,1146.6L738.0,1146.6L740.3,1146.6L742.6,1146.6L744.9,1146.6L747.2,1146.6L749.5,1146.7L751.8,1146.7L754.1,1146.7L756.4,1146.7L758.7,1146.7L761.0,1146.7L763.3,1146.7L765.6,1146.7L767.9,1146.7L770.2,1146.7L772.5,1146.7L774.8,1146.7L777.1,1146.7L779.4,1146.7L781.7,1146.7L784.0,1146.7L786.3,1146.7L788.6,1146.7L790.9,1146.7L793.2,1146.7L795.5,1146.7L797.8,1146.7L800.1,1146.7L802.4,1146.7L804.7,1146.7L807.0,1146.7L809.3,1146.7L811.6,1146.7L813.9,1146.7L816.2,1146.7L818.5,1146.7L820.8,1146.7L823.1,1146.7L825.4,1146.7" stroke="#c9c5c4" stroke-width="4.2"/>
<path d="M135.4,889.7L137.7,887.0L140.0,883.6L142.3,879.4L144.6,874.4L146.9,868.6L149.2,861.7L151.5,853.5L153.8,844.2L156.1,833.9L158.4,823.0L160.7,812.0L163.0,801.2L165.3,791.0L167.6,781.1L169.9,771.3L172.2,761.6L174.5,751.8L176.8,741.9L179.1,732.1L181.4,722.8L183.7,714.1L186.0,706.2L188.3,699.5L190.6,694.5L192.9,691.1L195.2,689.3L197.5,689.0L199.8,690.3L202.1,692.8L204.4,696.6L206.7,701.5L209.0,707.1L211.3,713.2L213.6,719.7L215.9,726.9L218.2,735.3L220.5,745.0L222.8,755.9L225.1,768.0L227.4,780.9L229.7,794.6L232.0,808.9L234.3,823.1L236.6,836.5L238.9,848.8L241.2,860.1L243.5,871.1L245.8,881.3L248.1,890.5L250.4,898.3L252.7,904.8L255.0,910.2L257.3,914.6L259.6,918.0L261.9,920.5L264.2,922.4L266.5,923.8L268.8,924.7L271.1,925.2L273.4,925.2L275.7,925.1L278.0,924.8L280.3,924.4L282.6,923.7L284.9,922.8L287.2,921.3L289.5,919.3L291.8,916.9L294.1,914.3L296.4,911.6L298.7,909.1L301.0,906.9L303.3,905.0L305.6,903.7L307.9,902.8L310.2,902.3L312.5,902.1L314.8,902.2L317.1,902.5L319.4,902.9L321.7,903.3L324.0,903.8L326.3,904.3L328.6,904.8L330.9,905.5L333.2,906.3L335.5,907.6L337.8,909.6L340.1,912.5L342.4,916.2L344.7,920.8L347.0,925.9L349.3,931.2L351.6,936.2L353.9,940.7L356.2,944.8L358.5,948.9L360.8,953.2L363.1,957.4L365.4,961.6L367.7,965.7L370.0,969.7L372.3,973.6L374.6,977.6L376.9,981.5L379.2,985.3L381.5,988.9L383.8,992.3L386.1,995.6L388.4,998.7L390.7,1001.9L393.0,1005.1L395.3,1008.3L397.6,1011.5L399.9,1014.7L402.2,1017.9L404.5,1021.1L406.8,1024.3L409.1,1027.4L411.4,1030.6L413.7,1033.7L416.0,1036.9L418.3,1040.0L420.6,1043.2L422.9,1046.3L425.2,1049.4L427.5,1052.6L429.8,1055.7L432.1,1058.8L434.4,1061.9L436.7,1065.0L439.0,1068.1L441.3,1071.2L443.6,1074.4L445.9,1077.5L448.2,1080.6L450.5,1083.5L452.8,1086.4L455.1,1089.1L457.4,1091.8L459.7,1094.3L462.0,1096.7L464.3,1099.1L466.6,1101.4L468.9,1103.4L471.2,1105.3L473.5,1107.1L475.8,1108.8L478.1,1110.7L480.4,1112.7L482.7,1114.8L485.0,1116.8L487.3,1118.8L489.6,1120.7L491.9,1122.6L494.2,1124.2L496.5,1125.7L498.8,1127.1L501.1,1128.3L503.4,1129.4L505.7,1130.5L508.0,1131.6L510.3,1132.6L512.6,1133.5L514.9,1134.4L517.2,1135.2L519.5,1136.0L521.8,1136.7L524.1,1137.3L526.4,1137.9L528.7,1138.4L531.0,1138.9L533.3,1139.4L535.6,1139.8L537.9,1140.2L540.2,1140.5L542.5,1140.9L544.8,1141.2L547.1,1141.5L549.4,1141.8L551.7,1142.0L554.0,1142.2L556.3,1142.3L558.6,1142.5L560.9,1142.6L563.2,1142.8L565.5,1142.9L567.8,1143.1L570.1,1143.2L572.4,1143.3L574.7,1143.4L577.0,1143.6L579.3,1143.7L581.6,1143.8L583.9,1143.9L586.2,1144.1L588.5,1144.2L590.8,1144.3L593.1,1144.4L595.4,1144.5L597.7,1144.6L600.0,1144.7L602.3,1144.8L604.6,1144.9L606.9,1145.0L609.2,1145.1L611.5,1145.1L613.8,1145.2L616.1,1145.2L618.4,1145.3L620.7,1145.4L623.0,1145.4L625.3,1145.5L627.6,1145.6L629.9,1145.6L632.2,1145.7L634.5,1145.7L636.8,1145.8L639.1,1145.8L641.4,1145.8L643.7,1145.9L646.0,1145.9L648.3,1146.0L650.6,1146.0L652.9,1146.0L655.2,1146.1L657.5,1146.1L659.8,1146.1L662.1,1146.2L664.4,1146.2L666.7,1146.2L669.0,1146.2L671.3,1146.3L673.6,1146.3L675.9,1146.3L678.2,1146.3L680.5,1146.3L682.8,1146.4L685.1,1146.4L687.4,1146.4L689.7,1146.4L692.0,1146.4L694.3,1146.4L696.6,1146.4L698.9,1146.4L701.2,1146.5L703.5,1146.5L705.8,1146.5L708.1,1146.5L710.4,1146.5L712.7,1146.5L715.0,1146.5L717.3,1146.5L719.6,1146.6L721.9,1146.6L724.2,1146.6L726.5,1146.6L728.8,1146.6L731.1,1146.6L733.4,1146.6L735.7,1146.6L738.0,1146.6L740.3,1146.6L742.6,1146.6L744.9,1146.6L747.2,1146.6L749.5,1146.6L751.8,1146.7L754.1,1146.7L756.4,1146.7L758.7,1146.7L761.0,1146.7L763.3,1146.7L765.6,1146.7L767.9,1146.7L770.2,1146.7L772.5,1146.7L774.8,1146.7L777.1,1146.7L779.4,1146.7L781.7,1146.7L784.0,1146.7L786.3,1146.7L788.6,1146.7L790.9,1146.7L793.2,1146.7L795.5,1146.7L797.8,1146.7L800.1,1146.7L802.4,1146.7L804.7,1146.7L807.0,1146.7L809.3,1146.7L811.6,1146.7L813.9,1146.7L816.2,1146.7L818.5,1146.7L820.8,1146.7L823.1,1146.7L825.4,1146.7" stroke="#c9c5c4" stroke-width="4.2"/>
<path d="M135.4,890.1L137.7,887.3L140.0,883.9L142.3,879.8L144.6,874.8L146.9,869.0L149.2,862.1L151.5,854.0L153.8,844.7L156.1,834.5L158.4,823.7L160.7,812.7L163.0,802.0L165.3,791.8L167.6,781.9L169.9,772.2L172.2,762.5L174.5,752.7L176.8,742.8L179.1,733.1L181.4,723.7L183.7,715.0L186.0,707.2L188.3,700.5L190.6,695.4L192.9,692.0L195.2,690.1L197.5,689.8L199.8,691.0L202.1,693.5L204.4,697.1L206.7,701.9L209.0,707.4L211.3,713.4L213.6,719.9L215.9,727.0L218.2,735.3L220.5,744.8L222.8,755.7L225.1,767.7L227.4,780.5L229.7,794.1L232.0,808.3L234.3,822.4L236.6,835.8L238.9,848.0L241.2,859.3L243.5,870.2L245.8,880.4L248.1,889.6L250.4,897.4L252.7,903.9L255.0,909.3L257.3,913.8L259.6,917.2L261.9,919.8L264.2,921.8L266.5,923.2L268.8,924.2L271.1,924.7L273.4,924.8L275.7,924.7L278.0,924.5L280.3,924.1L282.6,923.6L284.9,922.6L287.2,921.2L289.5,919.2L291.8,916.9L294.1,914.3L296.4,911.7L298.7,909.2L301.0,907.0L303.3,905.2L305.6,903.8L307.9,902.9L310.2,902.4L312.5,902.3L314.8,902.3L317.1,902.6L319.4,903.0L321.7,903.4L324.0,903.9L326.3,904.3L328.6,904.8L330.9,905.5L333.2,906.3L335.5,907.6L337.8,909.5L340.1,912.3L342.4,916.1L344.7,920.6L347.0,925.6L349.3,930.9L351.6,935.8L353.9,940.3L356.2,944.4L358.5,948.4L360.8,952.6L363.1,956.9L365.4,961.0L367.7,965.1L370.0,969.0L372.3,973.0L374.6,976.9L376.9,980.7L379.2,984.5L381.5,988.2L383.8,991.6L386.1,994.8L388.4,998.0L390.7,1001.1L393.0,1004.3L395.3,1007.5L397.6,1010.7L399.9,1014.0L402.2,1017.1L404.5,1020.3L406.8,1023.5L409.1,1026.6L411.4,1029.8L413.7,1032.9L416.0,1036.1L418.3,1039.2L420.6,1042.3L422.9,1045.5L425.2,1048.6L427.5,1051.7L429.8,1054.8L432.1,1057.9L434.4,1061.0L436.7,1064.1L439.0,1067.2L441.3,1070.3L443.6,1073.4L445.9,1076.5L448.2,1079.5L450.5,1082.5L452.8,1085.3L455.1,1088.0L457.4,1090.7L459.7,1093.2L462.0,1095.6L464.3,1098.0L466.6,1100.2L468.9,1102.3L471.2,1104.1L473.5,1105.9L475.8,1107.6L478.1,1109.5L480.4,1111.5L482.7,1113.6L485.0,1115.6L487.3,1117.6L489.6,1119.5L491.9,1121.4L494.2,1123.0L496.5,1124.6L498.8,1125.9L501.1,1127.1L503.4,1128.3L505.7,1129.4L508.0,1130.4L510.3,1131.5L512.6,1132.4L514.9,1133.3L517.2,1134.2L519.5,1134.9L521.8,1135.6L524.1,1136.3L526.4,1136.9L528.7,1137.4L531.0,1138.0L533.3,1138.4L535.6,1138.9L537.9,1139.3L540.2,1139.7L542.5,1140.0L544.8,1140.4L547.1,1140.7L549.4,1141.1L551.7,1141.3L554.0,1141.5L556.3,1141.6L558.6,1141.8L560.9,1142.0L563.2,1142.2L565.5,1142.3L567.8,1142.5L570.1,1142.6L572.4,1142.8L574.7,1142.9L577.0,1143.1L579.3,1143.2L581.6,1143.4L583.9,1143.5L586.2,1143.6L588.5,1143.8L590.8,1143.9L593.1,1144.0L595.4,1144.1L597.7,1144.3L600.0,1144.4L602.3,1144.5L604.6,1144.6L606.9,1144.7L609.2,1144.8L611.5,1144.9L613.8,1144.9L616.1,1145.0L618.4,1145.1L620.7,1145.2L623.0,1145.2L625.3,1145.3L627.6,1145.4L629.9,1145.4L632.2,1145.5L634.5,1145.6L636.8,1145.6L639.1,1145.7L641.4,1145.7L643.7,1145.8L646.0,1145.8L648.3,1145.8L650.6,1145.9L652.9,1145.9L655.2,1146.0L657.5,1146.0L659.8,1146.0L662.1,1146.1L664.4,1146.1L666.7,1146.1L669.0,1146.2L671.3,1146.2L673.6,1146.2L675.9,1146.2L678.2,1146.3L680.5,1146.3L682.8,1146.3L685.1,1146.3L687.4,1146.3L689.7,1146.4L692.0,1146.4L694.3,1146.4L696.6,1146.4L698.9,1146.4L701.2,1146.4L703.5,1146.4L705.8,1146.4L708.1,1146.5L710.4,1146.5L712.7,1146.5L715.0,1146.5L717.3,1146.5L719.6,1146.5L721.9,1146.5L724.2,1146.6L726.5,1146.6L728.8,1146.6L731.1,1146.6L733.4,1146.6L735.7,1146.6L738.0,1146.6L740.3,1146.6L742.6,1146.6L744.9,1146.6L747.2,1146.6L749.5,1146.6L751.8,1146.6L754.1,1146.6L756.4,1146.7L758.7,1146.7L761.0,1146.7L763.3,1146.7L765.6,1146.7L767.9,1146.7L770.2,1146.7L772.5,1146.7L774.8,1146.7L777.1,1146.7L779.4,1146.7L781.7,1146.7L784.0,1146.7L786.3,1146.7L788.6,1146.7L790.9,1146.7L793.2,1146.7L795.5,1146.7L797.8,1146.7L800.1,1146.7L802.4,1146.7L804.7,1146.7L807.0,1146.7L809.3,1146.7L811.6,1146.7L813.9,1146.7L816.2,1146.7L818.5,1146.7L820.8,1146.7L823.1,1146.7L825.4,1146.7" stroke="#c9c5c4" stroke-width="4.2"/>
<path d="M135.4,891.1L137.7,888.4L140.0,885.0L142.3,880.9L144.6,876.0L146.9,870.2L149.2,863.4L151.5,855.4L153.8,846.3L156.1,836.3L158.4,825.6L160.7,814.7L163.0,804.2L165.3,794.1L167.6,784.4L169.9,774.7L172.2,765.1L174.5,755.3L176.8,745.5L179.1,735.8L181.4,726.5L183.7,717.8L186.0,709.9L188.3,703.2L190.6,698.1L192.9,694.5L195.2,692.5L197.5,692.0L199.8,693.0L202.1,695.2L204.4,698.7L206.7,703.2L209.0,708.4L211.3,714.1L213.6,720.3L215.9,727.2L218.2,735.2L220.5,744.5L222.8,755.1L225.1,766.8L227.4,779.3L229.7,792.6L232.0,806.6L234.3,820.5L236.6,833.6L238.9,845.6L241.2,856.8L243.5,867.6L245.8,877.8L248.1,886.9L250.4,894.8L252.7,901.4L255.0,906.9L257.3,911.4L259.6,915.0L261.9,917.8L264.2,919.9L266.5,921.5L268.8,922.6L271.1,923.3L273.4,923.6L275.7,923.7L278.0,923.6L280.3,923.4L282.6,923.0L284.9,922.3L287.2,921.0L289.5,919.2L291.8,916.9L294.1,914.4L296.4,911.8L298.7,909.4L301.0,907.2L303.3,905.5L305.6,904.1L307.9,903.2L310.2,902.7L312.5,902.6L314.8,902.6L317.1,902.9L319.4,903.2L321.7,903.6L324.0,904.0L326.3,904.4L328.6,904.9L330.9,905.4L333.2,906.2L335.5,907.4L337.8,909.3L340.1,912.0L342.4,915.6L344.7,919.9L347.0,924.9L349.3,929.9L351.6,934.7L353.9,939.1L356.2,943.0L358.5,947.0L360.8,951.1L363.1,955.2L365.4,959.3L367.7,963.3L370.0,967.1L372.3,971.0L374.6,974.9L376.9,978.7L379.2,982.5L381.5,986.1L383.8,989.5L386.1,992.7L388.4,995.8L390.7,999.0L393.0,1002.2L395.3,1005.4L397.6,1008.6L399.9,1011.8L402.2,1015.0L404.5,1018.1L406.8,1021.3L409.1,1024.4L411.4,1027.5L413.7,1030.7L416.0,1033.8L418.3,1036.9L420.6,1039.9L422.9,1043.0L425.2,1046.1L427.5,1049.2L429.8,1052.3L432.1,1055.3L434.4,1058.4L436.7,1061.4L439.0,1064.4L441.3,1067.5L443.6,1070.5L445.9,1073.5L448.2,1076.5L450.5,1079.4L452.8,1082.2L455.1,1084.9L457.4,1087.5L459.7,1090.0L462.0,1092.3L464.3,1094.7L466.6,1096.9L468.9,1098.9L471.2,1100.8L473.5,1102.5L475.8,1104.2L478.1,1106.1L480.4,1108.1L482.7,1110.2L485.0,1112.2L487.3,1114.1L489.6,1116.1L491.9,1117.9L494.2,1119.6L496.5,1121.1L498.8,1122.5L501.1,1123.7L503.4,1124.9L505.7,1126.0L508.0,1127.1L510.3,1128.2L512.6,1129.2L514.9,1130.1L517.2,1131.0L519.5,1131.8L521.8,1132.6L524.1,1133.3L526.4,1134.0L528.7,1134.6L531.0,1135.2L533.3,1135.7L535.6,1136.2L537.9,1136.7L540.2,1137.2L542.5,1137.6L544.8,1138.1L547.1,1138.5L549.4,1138.8L551.7,1139.2L554.0,1139.4L556.3,1139.6L558.6,1139.9L560.9,1140.1L563.2,1140.4L565.5,1140.6L567.8,1140.8L570.1,1141.0L572.4,1141.2L574.7,1141.4L577.0,1141.6L579.3,1141.8L581.6,1142.0L583.9,1142.2L586.2,1142.4L588.5,1142.6L590.8,1142.8L593.1,1143.0L595.4,1143.1L597.7,1143.3L600.0,1143.5L602.3,1143.6L604.6,1143.8L606.9,1143.9L609.2,1144.0L611.5,1144.1L613.8,1144.2L616.1,1144.3L618.4,1144.4L620.7,1144.6L623.0,1144.7L625.3,1144.7L627.6,1144.8L629.9,1144.9L632.2,1145.0L634.5,1145.1L636.8,1145.2L639.1,1145.2L641.4,1145.3L643.7,1145.4L646.0,1145.4L648.3,1145.5L650.6,1145.5L652.9,1145.6L655.2,1145.6L657.5,1145.7L659.8,1145.8L662.1,1145.8L664.4,1145.9L666.7,1145.9L669.0,1145.9L671.3,1146.0L673.6,1146.0L675.9,1146.0L678.2,1146.1L680.5,1146.1L682.8,1146.1L685.1,1146.2L687.4,1146.2L689.7,1146.2L692.0,1146.2L694.3,1146.2L696.6,1146.3L698.9,1146.3L701.2,1146.3L703.5,1146.3L705.8,1146.3L708.1,1146.4L710.4,1146.4L712.7,1146.4L715.0,1146.4L717.3,1146.4L719.6,1146.5L721.9,1146.5L724.2,1146.5L726.5,1146.5L728.8,1146.5L731.1,1146.5L733.4,1146.5L735.7,1146.5L738.0,1146.6L740.3,1146.6L742.6,1146.6L744.9,1146.6L747.2,1146.6L749.5,1146.6L751.8,1146.6L754.1,1146.6L756.4,1146.6L758.7,1146.6L761.0,1146.6L763.3,1146.6L765.6,1146.7L767.9,1146.7L770.2,1146.7L772.5,1146.7L774.8,1146.7L777.1,1146.7L779.4,1146.7L781.7,1146.7L784.0,1146.7L786.3,1146.7L788.6,1146.7L790.9,1146.7L793.2,1146.7L795.5,1146.7L797.8,1146.7L800.1,1146.7L802.4,1146.7L804.7,1146.7L807.0,1146.7L809.3,1146.7L811.6,1146.7L813.9,1146.7L816.2,1146.7L818.5,1146.7L820.8,1146.7L823.1,1146.7L825.4,1146.7" stroke="#c9c5c4" stroke-width="4.2"/>
<path d="M135.4,892.4L137.7,889.6L140.0,886.3L142.3,882.2L144.6,877.4L146.9,871.7L149.2,865.0L151.5,857.2L153.8,848.2L156.1,838.4L158.4,827.9L160.7,817.3L163.0,806.9L165.3,797.0L167.6,787.4L169.9,777.9L172.2,768.3L174.5,758.6L176.8,748.8L179.1,739.1L181.4,729.8L183.7,721.2L186.0,713.3L188.3,706.6L190.6,701.3L192.9,697.7L195.2,695.5L197.5,694.8L199.8,695.5L202.1,697.5L204.4,700.6L206.7,704.7L209.0,709.6L211.3,715.0L213.6,720.9L215.9,727.4L218.2,735.1L220.5,744.1L222.8,754.3L225.1,765.7L227.4,777.9L229.7,790.9L232.0,804.5L234.3,818.1L236.6,831.0L238.9,842.8L241.2,853.8L243.5,864.5L245.8,874.6L248.1,883.7L250.4,891.5L252.7,898.2L255.0,903.9L257.3,908.6L259.6,912.3L261.9,915.3L264.2,917.6L266.5,919.4L268.8,920.7L271.1,921.6L273.4,922.1L275.7,922.4L278.0,922.6L280.3,922.6L282.6,922.4L284.9,921.8L287.2,920.7L289.5,919.0L291.8,916.9L294.1,914.5L296.4,912.0L298.7,909.7L301.0,907.6L303.3,905.8L305.6,904.5L307.9,903.7L310.2,903.2L312.5,903.0L314.8,903.0L317.1,903.2L319.4,903.5L321.7,903.8L324.0,904.2L326.3,904.5L328.6,904.9L330.9,905.4L333.2,906.1L335.5,907.2L337.8,909.0L340.1,911.6L342.4,915.0L344.7,919.2L347.0,923.9L349.3,928.8L351.6,933.4L353.9,937.6L356.2,941.4L358.5,945.3L360.8,949.2L363.1,953.2L365.4,957.2L367.7,961.0L370.0,964.8L372.3,968.6L374.6,972.4L376.9,976.2L379.2,979.9L381.5,983.5L383.8,986.8L386.1,990.0L388.4,993.1L390.7,996.3L393.0,999.5L395.3,1002.7L397.6,1005.9L399.9,1009.1L402.2,1012.3L404.5,1015.5L406.8,1018.6L409.1,1021.7L411.4,1024.8L413.7,1027.8L416.0,1030.9L418.3,1034.0L420.6,1037.0L422.9,1040.0L425.2,1043.1L427.5,1046.1L429.8,1049.1L432.1,1052.1L434.4,1055.1L436.7,1058.1L439.0,1061.0L441.3,1064.0L443.6,1067.0L445.9,1069.9L448.2,1072.9L450.5,1075.7L452.8,1078.4L455.1,1081.0L457.4,1083.6L459.7,1086.0L462.0,1088.3L464.3,1090.6L466.6,1092.8L468.9,1094.8L471.2,1096.6L473.5,1098.3L475.8,1100.1L478.1,1101.9L480.4,1103.9L482.7,1105.9L485.0,1107.9L487.3,1109.9L489.6,1111.8L491.9,1113.6L494.2,1115.4L496.5,1116.9L498.8,1118.3L501.1,1119.6L503.4,1120.8L505.7,1121.9L508.0,1123.1L510.3,1124.2L512.6,1125.2L514.9,1126.2L517.2,1127.2L519.5,1128.0L521.8,1128.9L524.1,1129.6L526.4,1130.4L528.7,1131.1L531.0,1131.7L533.3,1132.4L535.6,1133.0L537.9,1133.6L540.2,1134.1L542.5,1134.7L544.8,1135.2L547.1,1135.7L549.4,1136.1L551.7,1136.5L554.0,1136.8L556.3,1137.2L558.6,1137.5L560.9,1137.8L563.2,1138.1L565.5,1138.4L567.8,1138.7L570.1,1139.0L572.4,1139.3L574.7,1139.6L577.0,1139.9L579.3,1140.1L581.6,1140.4L583.9,1140.7L586.2,1140.9L588.5,1141.2L590.8,1141.4L593.1,1141.6L595.4,1141.9L597.7,1142.1L600.0,1142.3L602.3,1142.6L604.6,1142.8L606.9,1143.0L609.2,1143.1L611.5,1143.2L613.8,1143.4L616.1,1143.5L618.4,1143.7L620.7,1143.8L623.0,1143.9L625.3,1144.1L627.6,1144.2L629.9,1144.3L632.2,1144.4L634.5,1144.5L636.8,1144.6L639.1,1144.7L641.4,1144.8L643.7,1144.9L646.0,1145.0L648.3,1145.1L650.6,1145.1L652.9,1145.2L655.2,1145.3L657.5,1145.3L659.8,1145.4L662.1,1145.5L664.4,1145.6L666.7,1145.6L669.0,1145.7L671.3,1145.7L673.6,1145.8L675.9,1145.8L678.2,1145.8L680.5,1145.9L682.8,1145.9L685.1,1146.0L687.4,1146.0L689.7,1146.0L692.0,1146.1L694.3,1146.1L696.6,1146.1L698.9,1146.1L701.2,1146.2L703.5,1146.2L705.8,1146.2L708.1,1146.2L710.4,1146.3L712.7,1146.3L715.0,1146.3L717.3,1146.3L719.6,1146.4L721.9,1146.4L724.2,1146.4L726.5,1146.4L728.8,1146.4L731.1,1146.5L733.4,1146.5L735.7,1146.5L738.0,1146.5L740.3,1146.5L742.6,1146.5L744.9,1146.5L747.2,1146.6L749.5,1146.6L751.8,1146.6L754.1,1146.6L756.4,1146.6L758.7,1146.6L761.0,1146.6L763.3,1146.6L765.6,1146.6L767.9,1146.6L770.2,1146.6L772.5,1146.6L774.8,1146.7L777.1,1146.7L779.4,1146.7L781.7,1146.7L784.0,1146.7L786.3,1146.7L788.6,1146.7L790.9,1146.7L793.2,1146.7L795.5,1146.7L797.8,1146.7L800.1,1146.7L802.4,1146.7L804.7,1146.7L807.0,1146.7L809.3,1146.7L811.6,1146.7L813.9,1146.7L816.2,1146.7L818.5,1146.7L820.8,1146.7L823.1,1146.7L825.4,1146.7" stroke="#c9c5c4" stroke-width="4.2"/>
<path d="M135.4,893.6L137.7,890.9L140.0,887.6L142.3,883.5L144.6,878.8L146.9,873.2L149.2,866.6L151.5,858.9L153.8,850.1L156.1,840.4L158.4,830.1L160.7,819.7L163.0,809.5L165.3,799.7L167.6,790.2L169.9,780.8L172.2,771.4L174.5,761.7L176.8,751.9L179.1,742.3L181.4,733.0L183.7,724.4L186.0,716.5L188.3,709.8L190.6,704.5L192.9,700.7L195.2,698.3L197.5,697.4L199.8,697.9L202.1,699.6L204.4,702.4L206.7,706.2L209.0,710.8L211.3,715.9L213.6,721.4L215.9,727.7L218.2,735.0L220.5,743.7L222.8,753.6L225.1,764.6L227.4,776.5L229.7,789.2L232.0,802.5L234.3,815.8L236.6,828.4L238.9,840.1L241.2,851.0L243.5,861.5L245.8,871.5L248.1,880.6L250.4,888.5L252.7,895.2L255.0,901.0L257.3,905.8L259.6,909.8L261.9,912.9L264.2,915.4L266.5,917.4L268.8,918.9L271.1,920.0L273.4,920.7L275.7,921.2L278.0,921.5L280.3,921.8L282.6,921.8L284.9,921.4L287.2,920.5L289.5,918.9L291.8,916.9L294.1,914.6L296.4,912.2L298.7,909.9L301.0,907.9L303.3,906.2L305.6,904.9L307.9,904.1L310.2,903.5L312.5,903.4L314.8,903.4L317.1,903.5L319.4,903.7L321.7,904.0L324.0,904.3L326.3,904.6L328.6,905.0L330.9,905.4L333.2,906.0L335.5,907.1L337.8,908.7L340.1,911.2L342.4,914.5L344.7,918.5L347.0,923.0L349.3,927.7L351.6,932.2L353.9,936.2L356.2,939.9L358.5,943.6L360.8,947.4L363.1,951.3L365.4,955.2L367.7,958.9L370.0,962.6L372.3,966.3L374.6,970.1L376.9,973.8L379.2,977.4L381.5,981.0L383.8,984.3L386.1,987.5L388.4,990.6L390.7,993.8L393.0,997.0L395.3,1000.2L397.6,1003.4L399.9,1006.6L402.2,1009.8L404.5,1012.9L406.8,1016.0L409.1,1019.1L411.4,1022.1L413.7,1025.2L416.0,1028.2L418.3,1031.2L420.6,1034.2L422.9,1037.2L425.2,1040.2L427.5,1043.2L429.8,1046.1L432.1,1049.1L434.4,1052.0L436.7,1054.9L439.0,1057.8L441.3,1060.7L443.6,1063.6L445.9,1066.5L448.2,1069.4L450.5,1072.1L452.8,1074.8L455.1,1077.4L457.4,1079.8L459.7,1082.2L462.0,1084.5L464.3,1086.7L466.6,1088.8L468.9,1090.8L471.2,1092.7L473.5,1094.4L475.8,1096.1L478.1,1097.9L480.4,1099.9L482.7,1101.9L485.0,1103.9L487.3,1105.8L489.6,1107.7L491.9,1109.6L494.2,1111.3L496.5,1112.9L498.8,1114.3L501.1,1115.6L503.4,1116.9L505.7,1118.1L508.0,1119.2L510.3,1120.4L512.6,1121.5L514.9,1122.5L517.2,1123.5L519.5,1124.4L521.8,1125.3L524.1,1126.2L526.4,1127.0L528.7,1127.7L531.0,1128.5L533.3,1129.2L535.6,1129.9L537.9,1130.6L540.2,1131.2L542.5,1131.8L544.8,1132.4L547.1,1133.0L549.4,1133.5L551.7,1134.0L554.0,1134.4L556.3,1134.8L558.6,1135.2L560.9,1135.6L563.2,1136.0L565.5,1136.4L567.8,1136.8L570.1,1137.1L572.4,1137.5L574.7,1137.8L577.0,1138.2L579.3,1138.5L581.6,1138.9L583.9,1139.2L586.2,1139.5L588.5,1139.8L590.8,1140.1L593.1,1140.4L595.4,1140.7L597.7,1141.0L600.0,1141.3L602.3,1141.6L604.6,1141.8L606.9,1142.0L609.2,1142.2L611.5,1142.4L613.8,1142.6L616.1,1142.7L618.4,1142.9L620.7,1143.1L623.0,1143.2L625.3,1143.4L627.6,1143.6L629.9,1143.7L632.2,1143.9L634.5,1144.0L636.8,1144.1L639.1,1144.2L641.4,1144.4L643.7,1144.5L646.0,1144.6L648.3,1144.7L650.6,1144.8L652.9,1144.8L655.2,1144.9L657.5,1145.0L659.8,1145.1L662.1,1145.2L664.4,1145.3L666.7,1145.3L669.0,1145.4L671.3,1145.5L673.6,1145.5L675.9,1145.6L678.2,1145.6L680.5,1145.7L682.8,1145.7L685.1,1145.8L687.4,1145.8L689.7,1145.9L692.0,1145.9L694.3,1145.9L696.6,1146.0L698.9,1146.0L701.2,1146.0L703.5,1146.1L705.8,1146.1L708.1,1146.1L710.4,1146.2L712.7,1146.2L715.0,1146.2L717.3,1146.3L719.6,1146.3L721.9,1146.3L724.2,1146.3L726.5,1146.4L728.8,1146.4L731.1,1146.4L733.4,1146.4L735.7,1146.4L738.0,1146.5L740.3,1146.5L742.6,1146.5L744.9,1146.5L747.2,1146.5L749.5,1146.5L751.8,1146.5L754.1,1146.6L756.4,1146.6L758.7,1146.6L761.0,1146.6L763.3,1146.6L765.6,1146.6L767.9,1146.6L770.2,1146.6L772.5,1146.6L774.8,1146.6L777.1,1146.6L779.4,1146.6L781.7,1146.6L784.0,1146.7L786.3,1146.7L788.6,1146.7L790.9,1146.7L793.2,1146.7L795.5,1146.7L797.8,1146.7L800.1,1146.7L802.4,1146.7L804.7,1146.7L807.0,1146.7L809.3,1146.7L811.6,1146.7L813.9,1146.7L816.2,1146.7L818.5,1146.7L820.8,1146.7L823.1,1146.7L825.4,1146.7" stroke="#c9c5c4" stroke-width="4.2"/>
<path d="M135.4,895.1L137.7,892.3L140.0,889.1L142.3,885.1L144.6,880.4L146.9,874.9L149.2,868.5L151.5,860.9L153.8,852.3L156.1,842.9L158.4,832.8L160.7,822.6L163.0,812.6L165.3,803.0L167.6,793.7L169.9,784.4L172.2,775.1L174.5,765.5L176.8,755.7L179.1,746.1L181.4,736.9L183.7,728.3L186.0,720.4L188.3,713.6L190.6,708.2L192.9,704.3L195.2,701.7L197.5,700.6L199.8,700.8L202.1,702.1L204.4,704.6L206.7,708.0L209.0,712.2L211.3,716.9L213.6,722.1L215.9,727.9L218.2,734.9L220.5,743.2L222.8,752.7L225.1,763.3L227.4,774.8L229.7,787.1L232.0,800.0L234.3,813.0L236.6,825.4L238.9,836.8L241.2,847.5L243.5,857.9L245.8,867.8L248.1,876.8L250.4,884.8L252.7,891.6L255.0,897.5L257.3,902.5L259.6,906.6L261.9,910.0L264.2,912.7L266.5,915.0L268.8,916.7L271.1,918.0L273.4,919.0L275.7,919.7L278.0,920.3L280.3,920.8L282.6,921.0L284.9,920.9L287.2,920.1L289.5,918.8L291.8,916.9L294.1,914.7L296.4,912.4L298.7,910.2L301.0,908.3L303.3,906.6L305.6,905.4L307.9,904.5L310.2,904.0L312.5,903.8L314.8,903.8L317.1,903.9L319.4,904.1L321.7,904.3L324.0,904.5L326.3,904.7L328.6,905.0L330.9,905.3L333.2,905.9L335.5,906.9L337.8,908.4L340.1,910.7L342.4,913.8L344.7,917.6L347.0,921.9L349.3,926.4L351.6,930.6L353.9,934.4L356.2,938.0L358.5,941.5L360.8,945.2L363.1,949.0L365.4,952.7L367.7,956.3L370.0,959.9L372.3,963.6L374.6,967.2L376.9,970.9L379.2,974.5L381.5,978.0L383.8,981.3L386.1,984.4L388.4,987.6L390.7,990.7L393.0,993.9L395.3,997.1L397.6,1000.4L399.9,1003.5L402.2,1006.7L404.5,1009.8L406.8,1012.8L409.1,1015.9L411.4,1018.9L413.7,1021.9L416.0,1024.9L418.3,1027.8L420.6,1030.8L422.9,1033.7L425.2,1036.7L427.5,1039.6L429.8,1042.5L432.1,1045.4L434.4,1048.2L436.7,1051.0L439.0,1053.9L441.3,1056.7L443.6,1059.5L445.9,1062.3L448.2,1065.1L450.5,1067.8L452.8,1070.4L455.1,1072.9L457.4,1075.3L459.7,1077.6L462.0,1079.8L464.3,1082.0L466.6,1084.1L468.9,1086.0L471.2,1087.8L473.5,1089.5L475.8,1091.2L478.1,1093.0L480.4,1095.0L482.7,1097.0L485.0,1098.9L487.3,1100.9L489.6,1102.8L491.9,1104.6L494.2,1106.4L496.5,1108.0L498.8,1109.5L501.1,1110.8L503.4,1112.1L505.7,1113.3L508.0,1114.5L510.3,1115.7L512.6,1116.9L514.9,1118.0L517.2,1119.0L519.5,1120.0L521.8,1121.0L524.1,1121.9L526.4,1122.8L528.7,1123.7L531.0,1124.5L533.3,1125.3L535.6,1126.1L537.9,1126.9L540.2,1127.7L542.5,1128.4L544.8,1129.1L547.1,1129.8L549.4,1130.4L551.7,1131.0L554.0,1131.5L556.3,1132.0L558.6,1132.5L560.9,1133.0L563.2,1133.5L565.5,1133.9L567.8,1134.4L570.1,1134.8L572.4,1135.3L574.7,1135.7L577.0,1136.1L579.3,1136.5L581.6,1137.0L583.9,1137.4L586.2,1137.8L588.5,1138.2L590.8,1138.5L593.1,1138.9L595.4,1139.2L597.7,1139.6L600.0,1140.0L602.3,1140.3L604.6,1140.6L606.9,1140.9L609.2,1141.1L611.5,1141.4L613.8,1141.6L616.1,1141.8L618.4,1142.0L620.7,1142.2L623.0,1142.4L625.3,1142.6L627.6,1142.8L629.9,1143.0L632.2,1143.2L634.5,1143.3L636.8,1143.5L639.1,1143.7L641.4,1143.8L643.7,1143.9L646.0,1144.1L648.3,1144.2L650.6,1144.3L652.9,1144.4L655.2,1144.5L657.5,1144.6L659.8,1144.7L662.1,1144.8L664.4,1144.9L666.7,1145.0L669.0,1145.1L671.3,1145.2L673.6,1145.2L675.9,1145.3L678.2,1145.4L680.5,1145.4L682.8,1145.5L685.1,1145.6L687.4,1145.6L689.7,1145.7L692.0,1145.7L694.3,1145.7L696.6,1145.8L698.9,1145.8L701.2,1145.9L703.5,1145.9L705.8,1145.9L708.1,1146.0L710.4,1146.0L712.7,1146.1L715.0,1146.1L717.3,1146.1L719.6,1146.2L721.9,1146.2L724.2,1146.2L726.5,1146.3L728.8,1146.3L731.1,1146.3L733.4,1146.3L735.7,1146.4L738.0,1146.4L740.3,1146.4L742.6,1146.4L744.9,1146.5L747.2,1146.5L749.5,1146.5L751.8,1146.5L754.1,1146.5L756.4,1146.5L758.7,1146.5L761.0,1146.6L763.3,1146.6L765.6,1146.6L767.9,1146.6L770.2,1146.6L772.5,1146.6L774.8,1146.6L777.1,1146.6L779.4,1146.6L781.7,1146.6L784.0,1146.6L786.3,1146.6L788.6,1146.6L790.9,1146.6L793.2,1146.7L795.5,1146.7L797.8,1146.7L800.1,1146.7L802.4,1146.7L804.7,1146.7L807.0,1146.7L809.3,1146.7L811.6,1146.7L813.9,1146.7L816.2,1146.7L818.5,1146.7L820.8,1146.7L823.1,1146.7L825.4,1146.7" stroke="#c9c5c4" stroke-width="4.2"/>
<path d="M135.4,897.1L137.7,894.3L140.0,891.1L142.3,887.2L144.6,882.6L146.9,877.3L149.2,871.0L151.5,863.7L153.8,855.4L156.1,846.2L158.4,836.5L160.7,826.6L163.0,816.9L165.3,807.5L167.6,798.4L169.9,789.3L172.2,780.1L174.5,770.5L176.8,760.9L179.1,751.4L181.4,742.2L183.7,733.6L186.0,725.7L188.3,718.9L190.6,713.4L192.9,709.2L195.2,706.4L197.5,704.9L199.8,704.6L202.1,705.6L204.4,707.5L206.7,710.5L209.0,714.1L211.3,718.3L213.6,722.9L215.9,728.3L218.2,734.7L220.5,742.5L222.8,751.5L225.1,761.6L227.4,772.6L229.7,784.3L232.0,796.7L234.3,809.3L236.6,821.2L238.9,832.3L241.2,842.8L243.5,853.0L245.8,862.8L248.1,871.8L250.4,879.7L252.7,886.7L255.0,892.8L257.3,898.0L259.6,902.4L261.9,906.1L264.2,909.1L266.5,911.7L268.8,913.7L271.1,915.4L273.4,916.6L275.7,917.7L278.0,918.6L280.3,919.4L282.6,920.0L284.9,920.2L287.2,919.7L289.5,918.6L291.8,916.9L294.1,914.9L296.4,912.7L298.7,910.6L301.0,908.8L303.3,907.2L305.6,906.0L307.9,905.2L310.2,904.7L312.5,904.4L314.8,904.4L317.1,904.4L319.4,904.5L321.7,904.6L324.0,904.8L326.3,904.9L328.6,905.1L330.9,905.3L333.2,905.8L335.5,906.6L337.8,908.0L340.1,910.1L342.4,912.9L344.7,916.4L347.0,920.4L349.3,924.6L351.6,928.6L353.9,932.1L356.2,935.4L358.5,938.8L360.8,942.3L363.1,945.8L365.4,949.4L367.7,952.9L370.0,956.3L372.3,959.8L374.6,963.4L376.9,966.9L379.2,970.5L381.5,973.9L383.8,977.2L386.1,980.3L388.4,983.4L390.7,986.6L393.0,989.8L395.3,993.0L397.6,996.2L399.9,999.4L402.2,1002.5L404.5,1005.6L406.8,1008.6L409.1,1011.6L411.4,1014.6L413.7,1017.5L416.0,1020.4L418.3,1023.3L420.6,1026.2L422.9,1029.1L425.2,1032.0L427.5,1034.8L429.8,1037.6L432.1,1040.4L434.4,1043.1L436.7,1045.9L439.0,1048.6L441.3,1051.3L443.6,1054.0L445.9,1056.7L448.2,1059.4L450.5,1062.0L452.8,1064.5L455.1,1066.9L457.4,1069.2L459.7,1071.4L462.0,1073.6L464.3,1075.6L466.6,1077.7L468.9,1079.6L471.2,1081.3L473.5,1083.0L475.8,1084.7L478.1,1086.5L480.4,1088.4L482.7,1090.3L485.0,1092.3L487.3,1094.2L489.6,1096.1L491.9,1098.0L494.2,1099.8L496.5,1101.5L498.8,1103.0L501.1,1104.4L503.4,1105.7L505.7,1107.0L508.0,1108.2L510.3,1109.5L512.6,1110.7L514.9,1111.9L517.2,1113.0L519.5,1114.1L521.8,1115.1L524.1,1116.2L526.4,1117.2L528.7,1118.2L531.0,1119.2L533.3,1120.1L535.6,1121.1L537.9,1122.0L540.2,1122.9L542.5,1123.8L544.8,1124.6L547.1,1125.4L549.4,1126.2L551.7,1126.8L554.0,1127.5L556.3,1128.1L558.6,1128.7L560.9,1129.4L563.2,1130.0L565.5,1130.6L567.8,1131.2L570.1,1131.7L572.4,1132.3L574.7,1132.8L577.0,1133.3L579.3,1133.9L581.6,1134.4L583.9,1134.9L586.2,1135.4L588.5,1135.9L590.8,1136.4L593.1,1136.8L595.4,1137.3L597.7,1137.7L600.0,1138.2L602.3,1138.6L604.6,1139.0L606.9,1139.4L609.2,1139.7L611.5,1140.0L613.8,1140.2L616.1,1140.5L618.4,1140.8L620.7,1141.0L623.0,1141.3L625.3,1141.5L627.6,1141.8L629.9,1142.0L632.2,1142.2L634.5,1142.5L636.8,1142.7L639.1,1142.9L641.4,1143.0L643.7,1143.2L646.0,1143.4L648.3,1143.5L650.6,1143.6L652.9,1143.8L655.2,1143.9L657.5,1144.0L659.8,1144.2L662.1,1144.3L664.4,1144.4L666.7,1144.6L669.0,1144.7L671.3,1144.7L673.6,1144.8L675.9,1144.9L678.2,1145.0L680.5,1145.1L682.8,1145.2L685.1,1145.3L687.4,1145.3L689.7,1145.4L692.0,1145.4L694.3,1145.5L696.6,1145.5L698.9,1145.6L701.2,1145.6L703.5,1145.7L705.8,1145.7L708.1,1145.8L710.4,1145.9L712.7,1145.9L715.0,1146.0L717.3,1146.0L719.6,1146.0L721.9,1146.1L724.2,1146.1L726.5,1146.2L728.8,1146.2L731.1,1146.2L733.4,1146.3L735.7,1146.3L738.0,1146.3L740.3,1146.3L742.6,1146.4L744.9,1146.4L747.2,1146.4L749.5,1146.4L751.8,1146.4L754.1,1146.5L756.4,1146.5L758.7,1146.5L761.0,1146.5L763.3,1146.5L765.6,1146.5L767.9,1146.6L770.2,1146.6L772.5,1146.6L774.8,1146.6L777.1,1146.6L779.4,1146.6L781.7,1146.6L784.0,1146.6L786.3,1146.6L788.6,1146.6L790.9,1146.6L793.2,1146.6L795.5,1146.6L797.8,1146.6L800.1,1146.6L802.4,1146.7L804.7,1146.7L807.0,1146.7L809.3,1146.7L811.6,1146.7L813.9,1146.7L816.2,1146.7L818.5,1146.7L820.8,1146.7L823.1,1146.7L825.4,1146.7" stroke="#c9c5c4" stroke-width="4.2"/>
<path d="M135.4,900.0L137.7,897.3L140.0,894.2L142.3,890.4L144.6,886.0L146.9,880.8L149.2,874.8L151.5,867.8L153.8,859.9L156.1,851.2L158.4,841.9L160.7,832.5L163.0,823.2L165.3,814.2L167.6,805.4L169.9,796.6L172.2,787.6L174.5,778.2L176.8,768.6L179.1,759.2L181.4,750.1L183.7,741.6L186.0,733.7L188.3,726.8L190.6,721.0L192.9,716.6L195.2,713.3L197.5,711.3L199.8,710.5L202.1,710.7L204.4,712.0L206.7,714.1L209.0,717.0L211.3,720.4L213.6,724.2L215.9,728.8L218.2,734.5L220.5,741.5L222.8,749.7L225.1,759.0L227.4,769.2L229.7,780.2L232.0,791.8L234.3,803.6L236.6,815.0L238.9,825.6L241.2,835.7L243.5,845.6L245.8,855.2L248.1,864.2L250.4,872.2L252.7,879.3L255.0,885.7L257.3,891.3L259.6,896.1L261.9,900.2L264.2,903.7L266.5,906.7L268.8,909.3L271.1,911.4L273.4,913.1L275.7,914.6L278.0,916.1L280.3,917.4L282.6,918.5L284.9,919.2L287.2,919.1L289.5,918.3L291.8,916.9L294.1,915.1L296.4,913.1L298.7,911.3L301.0,909.5L303.3,908.1L305.6,907.0L307.9,906.2L310.2,905.6L312.5,905.4L314.8,905.2L317.1,905.2L319.4,905.2L321.7,905.2L324.0,905.2L326.3,905.2L328.6,905.2L330.9,905.2L333.2,905.5L335.5,906.1L337.8,907.3L340.1,909.1L342.4,911.6L344.7,914.7L347.0,918.2L349.3,921.9L351.6,925.5L353.9,928.6L356.2,931.6L358.5,934.7L360.8,937.8L363.1,941.1L365.4,944.4L367.7,947.7L370.0,950.9L372.3,954.2L374.6,957.6L376.9,961.0L379.2,964.4L381.5,967.8L383.8,971.0L386.1,974.1L388.4,977.2L390.7,980.3L393.0,983.6L395.3,986.8L397.6,990.0L399.9,993.2L402.2,996.3L404.5,999.3L406.8,1002.3L409.1,1005.2L411.4,1008.1L413.7,1010.9L416.0,1013.7L418.3,1016.5L420.6,1019.3L422.9,1022.1L425.2,1024.8L427.5,1027.6L429.8,1030.3L432.1,1032.9L434.4,1035.5L436.7,1038.1L439.0,1040.6L441.3,1043.1L443.6,1045.7L445.9,1048.2L448.2,1050.7L450.5,1053.2L452.8,1055.6L455.1,1057.8L457.4,1060.0L459.7,1062.1L462.0,1064.1L464.3,1066.1L466.6,1068.0L468.9,1069.9L471.2,1071.6L473.5,1073.2L475.8,1074.9L478.1,1076.6L480.4,1078.5L482.7,1080.4L485.0,1082.3L487.3,1084.2L489.6,1086.1L491.9,1088.0L494.2,1089.8L496.5,1091.6L498.8,1093.2L501.1,1094.6L503.4,1096.0L505.7,1097.4L508.0,1098.7L510.3,1100.1L512.6,1101.4L514.9,1102.7L517.2,1103.9L519.5,1105.2L521.8,1106.4L524.1,1107.6L526.4,1108.8L528.7,1110.0L531.0,1111.1L533.3,1112.3L535.6,1113.5L537.9,1114.6L540.2,1115.7L542.5,1116.8L544.8,1117.8L547.1,1118.8L549.4,1119.8L551.7,1120.7L554.0,1121.5L556.3,1122.3L558.6,1123.2L560.9,1124.0L563.2,1124.8L565.5,1125.6L567.8,1126.3L570.1,1127.1L572.4,1127.8L574.7,1128.5L577.0,1129.2L579.3,1129.9L581.6,1130.6L583.9,1131.3L586.2,1131.9L588.5,1132.6L590.8,1133.2L593.1,1133.7L595.4,1134.3L597.7,1134.9L600.0,1135.6L602.3,1136.1L604.6,1136.7L606.9,1137.1L609.2,1137.5L611.5,1137.9L613.8,1138.2L616.1,1138.5L618.4,1138.9L620.7,1139.3L623.0,1139.6L625.3,1139.9L627.6,1140.3L629.9,1140.6L632.2,1140.9L634.5,1141.1L636.8,1141.4L639.1,1141.7L641.4,1141.9L643.7,1142.1L646.0,1142.3L648.3,1142.5L650.6,1142.7L652.9,1142.9L655.2,1143.0L657.5,1143.2L659.8,1143.4L662.1,1143.6L664.4,1143.7L666.7,1143.9L669.0,1144.0L671.3,1144.1L673.6,1144.3L675.9,1144.4L678.2,1144.5L680.5,1144.6L682.8,1144.7L685.1,1144.8L687.4,1144.9L689.7,1145.0L692.0,1145.0L694.3,1145.1L696.6,1145.1L698.9,1145.2L701.2,1145.3L703.5,1145.4L705.8,1145.4L708.1,1145.5L710.4,1145.6L712.7,1145.7L715.0,1145.7L717.3,1145.8L719.6,1145.8L721.9,1145.9L724.2,1145.9L726.5,1146.0L728.8,1146.0L731.1,1146.1L733.4,1146.1L735.7,1146.1L738.0,1146.2L740.3,1146.2L742.6,1146.2L744.9,1146.3L747.2,1146.3L749.5,1146.3L751.8,1146.4L754.1,1146.4L756.4,1146.4L758.7,1146.4L761.0,1146.5L763.3,1146.5L765.6,1146.5L767.9,1146.5L770.2,1146.5L772.5,1146.5L774.8,1146.6L777.1,1146.6L779.4,1146.6L781.7,1146.6L784.0,1146.6L786.3,1146.6L788.6,1146.6L790.9,1146.6L793.2,1146.6L795.5,1146.6L797.8,1146.6L800.1,1146.6L802.4,1146.6L804.7,1146.6L807.0,1146.6L809.3,1146.6L811.6,1146.6L813.9,1146.7L816.2,1146.7L818.5,1146.7L820.8,1146.7L823.1,1146.7L825.4,1146.7" stroke="#c9c5c4" stroke-width="4.2"/>
<path d="M135.4,902.7L137.7,900.0L140.0,896.9L142.3,893.2L144.6,888.9L146.9,884.0L149.2,878.2L151.5,871.5L153.8,864.0L156.1,855.7L158.4,846.8L160.7,837.8L163.0,828.9L165.3,820.3L167.6,811.7L169.9,803.1L172.2,794.3L174.5,785.0L176.8,775.5L179.1,766.2L181.4,757.1L183.7,748.7L186.0,740.8L188.3,733.8L190.6,727.9L192.9,723.2L195.2,719.5L197.5,717.1L199.8,715.7L202.1,715.3L204.4,715.9L206.7,717.4L209.0,719.5L211.3,722.2L213.6,725.4L215.9,729.3L218.2,734.3L220.5,740.6L222.8,748.1L225.1,756.7L227.4,766.1L229.7,776.4L232.0,787.4L234.3,798.6L236.6,809.4L238.9,819.6L241.2,829.4L243.5,839.1L245.8,848.5L248.1,857.4L250.4,865.5L252.7,872.8L255.0,879.4L257.3,885.3L259.6,890.4L261.9,894.9L264.2,898.9L266.5,902.3L268.8,905.3L271.1,907.8L273.4,910.0L275.7,911.9L278.0,913.8L280.3,915.6L282.6,917.2L284.9,918.2L287.2,918.5L289.5,918.1L291.8,916.9L294.1,915.3L296.4,913.5L298.7,911.8L301.0,910.2L303.3,908.9L305.6,907.8L307.9,907.1L310.2,906.5L312.5,906.2L314.8,906.0L317.1,905.9L319.4,905.8L321.7,905.6L324.0,905.5L326.3,905.4L328.6,905.2L330.9,905.2L333.2,905.3L335.5,905.8L337.8,906.7L340.1,908.2L342.4,910.4L344.7,913.1L347.0,916.3L349.3,919.6L351.6,922.7L353.9,925.5L356.2,928.2L358.5,931.0L360.8,933.9L363.1,936.9L365.4,940.0L367.7,943.0L370.0,946.1L372.3,949.2L374.6,952.4L376.9,955.7L379.2,959.1L381.5,962.3L383.8,965.5L386.1,968.6L388.4,971.6L390.7,974.8L393.0,978.0L395.3,981.3L397.6,984.5L399.9,987.6L402.2,990.7L404.5,993.7L406.8,996.6L409.1,999.4L411.4,1002.2L413.7,1005.0L416.0,1007.7L418.3,1010.4L420.6,1013.1L422.9,1015.8L425.2,1018.5L427.5,1021.1L429.8,1023.7L432.1,1026.2L434.4,1028.7L436.7,1031.1L439.0,1033.5L441.3,1035.9L443.6,1038.3L445.9,1040.7L448.2,1043.0L450.5,1045.4L452.8,1047.6L455.1,1049.7L457.4,1051.8L459.7,1053.8L462.0,1055.7L464.3,1057.6L466.6,1059.4L468.9,1061.2L471.2,1062.9L473.5,1064.5L475.8,1066.1L478.1,1067.8L480.4,1069.6L482.7,1071.5L485.0,1073.4L487.3,1075.3L489.6,1077.1L491.9,1079.1L494.2,1081.0L496.5,1082.8L498.8,1084.4L501.1,1086.0L503.4,1087.4L505.7,1088.8L508.0,1090.3L510.3,1091.7L512.6,1093.1L514.9,1094.5L517.2,1095.8L519.5,1097.2L521.8,1098.5L524.1,1099.9L526.4,1101.2L528.7,1102.6L531.0,1104.0L533.3,1105.3L535.6,1106.7L537.9,1108.0L540.2,1109.3L542.5,1110.6L544.8,1111.8L547.1,1113.0L549.4,1114.1L551.7,1115.2L554.0,1116.2L556.3,1117.2L558.6,1118.2L560.9,1119.2L563.2,1120.2L565.5,1121.1L567.8,1122.0L570.1,1122.9L572.4,1123.7L574.7,1124.6L577.0,1125.5L579.3,1126.3L581.6,1127.2L583.9,1128.0L586.2,1128.8L588.5,1129.6L590.8,1130.3L593.1,1131.0L595.4,1131.7L597.7,1132.5L600.0,1133.2L602.3,1133.9L604.6,1134.5L606.9,1135.1L609.2,1135.5L611.5,1136.0L613.8,1136.4L616.1,1136.8L618.4,1137.2L620.7,1137.7L623.0,1138.1L625.3,1138.5L627.6,1138.9L629.9,1139.3L632.2,1139.6L634.5,1140.0L636.8,1140.3L639.1,1140.6L641.4,1140.9L643.7,1141.1L646.0,1141.4L648.3,1141.6L650.6,1141.8L652.9,1142.0L655.2,1142.3L657.5,1142.5L659.8,1142.7L662.1,1142.9L664.4,1143.1L666.7,1143.3L669.0,1143.4L671.3,1143.6L673.6,1143.7L675.9,1143.9L678.2,1144.0L680.5,1144.2L682.8,1144.3L685.1,1144.4L687.4,1144.5L689.7,1144.6L692.0,1144.7L694.3,1144.7L696.6,1144.8L698.9,1144.9L701.2,1145.0L703.5,1145.1L705.8,1145.2L708.1,1145.3L710.4,1145.3L712.7,1145.4L715.0,1145.5L717.3,1145.6L719.6,1145.6L721.9,1145.7L724.2,1145.8L726.5,1145.8L728.8,1145.9L731.1,1145.9L733.4,1146.0L735.7,1146.0L738.0,1146.1L740.3,1146.1L742.6,1146.1L744.9,1146.2L747.2,1146.2L749.5,1146.3L751.8,1146.3L754.1,1146.3L756.4,1146.3L758.7,1146.4L761.0,1146.4L763.3,1146.4L765.6,1146.4L767.9,1146.5L770.2,1146.5L772.5,1146.5L774.8,1146.5L777.1,1146.5L779.4,1146.5L781.7,1146.5L784.0,1146.6L786.3,1146.6L788.6,1146.6L790.9,1146.6L793.2,1146.6L795.5,1146.6L797.8,1146.6L800.1,1146.6L802.4,1146.6L804.7,1146.6L807.0,1146.6L809.3,1146.6L811.6,1146.6L813.9,1146.6L816.2,1146.6L818.5,1146.6L820.8,1146.6L823.1,1146.6L825.4,1146.6" stroke="#c9c5c4" stroke-width="4.2"/>
<path d="M135.4,905.8L137.7,903.2L140.0,900.2L142.3,896.6L144.6,892.5L146.9,887.8L149.2,882.3L151.5,875.9L153.8,868.8L156.1,861.0L158.4,852.7L160.7,844.1L163.0,835.7L165.3,827.4L167.6,819.2L169.9,810.9L172.2,802.3L174.5,793.1L176.8,783.8L179.1,774.5L181.4,765.6L183.7,757.1L186.0,749.3L188.3,742.2L190.6,736.1L192.9,731.0L195.2,727.0L197.5,723.9L199.8,721.9L202.1,720.9L204.4,720.6L206.7,721.3L209.0,722.6L211.3,724.4L213.6,726.8L215.9,729.9L218.2,734.1L220.5,739.5L222.8,746.2L225.1,753.9L227.4,762.5L229.7,772.0L232.0,782.1L234.3,792.6L236.6,802.8L238.9,812.5L241.2,821.9L243.5,831.2L245.8,840.5L248.1,849.2L250.4,857.4L252.7,864.9L255.0,871.8L257.3,878.1L259.6,883.7L261.9,888.6L264.2,893.1L266.5,897.0L268.8,900.5L271.1,903.6L273.4,906.2L275.7,908.7L278.0,911.1L280.3,913.5L282.6,915.6L284.9,917.1L287.2,917.9L289.5,917.8L291.8,916.9L294.1,915.6L296.4,914.0L298.7,912.5L301.0,911.1L303.3,909.9L305.6,908.9L307.9,908.1L310.2,907.6L312.5,907.2L314.8,906.9L317.1,906.7L319.4,906.5L321.7,906.2L324.0,905.9L326.3,905.6L328.6,905.3L330.9,905.1L333.2,905.1L335.5,905.3L337.8,906.0L340.1,907.2L342.4,909.0L344.7,911.2L347.0,913.9L349.3,916.7L351.6,919.4L353.9,921.8L356.2,924.2L358.5,926.6L360.8,929.2L363.1,931.9L365.4,934.7L367.7,937.4L370.0,940.3L372.3,943.2L374.6,946.3L376.9,949.4L379.2,952.6L381.5,955.8L383.8,958.9L386.1,961.9L388.4,965.0L390.7,968.1L393.0,971.4L395.3,974.7L397.6,977.9L399.9,981.0L402.2,984.0L404.5,986.9L406.8,989.8L409.1,992.6L411.4,995.3L413.7,998.0L416.0,1000.6L418.3,1003.2L420.6,1005.8L422.9,1008.4L425.2,1010.9L427.5,1013.4L429.8,1015.8L432.1,1018.2L434.4,1020.5L436.7,1022.8L439.0,1025.0L441.3,1027.2L443.6,1029.4L445.9,1031.6L448.2,1033.8L450.5,1036.0L452.8,1038.1L455.1,1040.1L457.4,1042.0L459.7,1043.9L462.0,1045.6L464.3,1047.4L466.6,1049.2L468.9,1050.9L471.2,1052.5L473.5,1054.1L475.8,1055.7L478.1,1057.3L480.4,1059.1L482.7,1060.9L485.0,1062.8L487.3,1064.6L489.6,1066.5L491.9,1068.4L494.2,1070.4L496.5,1072.3L498.8,1074.0L501.1,1075.6L503.4,1077.1L505.7,1078.6L508.0,1080.1L510.3,1081.7L512.6,1083.2L514.9,1084.7L517.2,1086.2L519.5,1087.7L521.8,1089.2L524.1,1090.7L526.4,1092.3L528.7,1093.8L531.0,1095.4L533.3,1097.0L535.6,1098.6L537.9,1100.1L540.2,1101.7L542.5,1103.2L544.8,1104.6L547.1,1106.0L549.4,1107.3L551.7,1108.6L554.0,1109.8L556.3,1111.0L558.6,1112.2L560.9,1113.4L563.2,1114.6L565.5,1115.8L567.8,1116.9L570.1,1117.9L572.4,1118.9L574.7,1120.0L577.0,1121.0L579.3,1122.1L581.6,1123.1L583.9,1124.1L586.2,1125.1L588.5,1126.0L590.8,1126.9L593.1,1127.7L595.4,1128.6L597.7,1129.5L600.0,1130.4L602.3,1131.2L604.6,1132.0L606.9,1132.6L609.2,1133.2L611.5,1133.7L613.8,1134.2L616.1,1134.7L618.4,1135.3L620.7,1135.8L623.0,1136.3L625.3,1136.8L627.6,1137.3L629.9,1137.7L632.2,1138.1L634.5,1138.5L636.8,1138.9L639.1,1139.3L641.4,1139.6L643.7,1140.0L646.0,1140.3L648.3,1140.6L650.6,1140.8L652.9,1141.1L655.2,1141.3L657.5,1141.6L659.8,1141.9L662.1,1142.1L664.4,1142.4L666.7,1142.6L669.0,1142.8L671.3,1142.9L673.6,1143.1L675.9,1143.3L678.2,1143.5L680.5,1143.6L682.8,1143.8L685.1,1143.9L687.4,1144.1L689.7,1144.2L692.0,1144.2L694.3,1144.3L696.6,1144.4L698.9,1144.5L701.2,1144.6L703.5,1144.7L705.8,1144.8L708.1,1145.0L710.4,1145.1L712.7,1145.2L715.0,1145.2L717.3,1145.3L719.6,1145.4L721.9,1145.5L724.2,1145.6L726.5,1145.6L728.8,1145.7L731.1,1145.8L733.4,1145.8L735.7,1145.9L738.0,1145.9L740.3,1146.0L742.6,1146.0L744.9,1146.1L747.2,1146.1L749.5,1146.2L751.8,1146.2L754.1,1146.2L756.4,1146.3L758.7,1146.3L761.0,1146.3L763.3,1146.4L765.6,1146.4L767.9,1146.4L770.2,1146.4L772.5,1146.5L774.8,1146.5L777.1,1146.5L779.4,1146.5L781.7,1146.5L784.0,1146.5L786.3,1146.5L788.6,1146.5L790.9,1146.6L793.2,1146.6L795.5,1146.6L797.8,1146.6L800.1,1146.6L802.4,1146.6L804.7,1146.6L807.0,1146.6L809.3,1146.6L811.6,1146.6L813.9,1146.6L816.2,1146.6L818.5,1146.6L820.8,1146.6L823.1,1146.6L825.4,1146.6" stroke="#c9c5c4" stroke-width="4.2"/>
<path d="M135.4,909.6L137.7,907.1L140.0,904.1L142.3,900.7L144.6,896.7L146.9,892.3L149.2,887.1L151.5,881.2L153.8,874.6L156.1,867.3L158.4,859.6L160.7,851.7L163.0,843.8L165.3,836.0L167.6,828.2L169.9,820.2L172.2,811.8L174.5,802.9L176.8,793.6L179.1,784.5L181.4,775.6L183.7,767.2L186.0,759.4L188.3,752.2L190.6,745.9L192.9,740.4L195.2,735.8L197.5,732.1L199.8,729.4L202.1,727.4L204.4,726.3L206.7,725.9L209.0,726.2L211.3,727.1L213.6,728.5L215.9,730.6L218.2,733.8L220.5,738.3L222.8,743.9L225.1,750.6L227.4,758.2L229.7,766.7L232.0,775.9L234.3,785.4L236.6,794.9L238.9,804.0L241.2,812.9L243.5,821.9L245.8,830.9L248.1,839.5L250.4,847.8L252.7,855.6L255.0,862.8L257.3,869.5L259.6,875.6L261.9,881.2L264.2,886.2L266.5,890.7L268.8,894.8L271.1,898.5L273.4,901.8L275.7,904.9L278.0,907.9L280.3,910.9L282.6,913.7L284.9,915.8L287.2,917.1L289.5,917.4L291.8,916.9L294.1,915.9L296.4,914.6L298.7,913.3L301.0,912.0L303.3,911.0L305.6,910.1L307.9,909.4L310.2,908.8L312.5,908.4L314.8,908.0L317.1,907.7L319.4,907.3L321.7,906.9L324.0,906.4L326.3,905.9L328.6,905.5L330.9,905.0L333.2,904.8L335.5,904.8L337.8,905.1L340.1,906.0L342.4,907.2L344.7,909.0L347.0,911.1L349.3,913.3L351.6,915.4L353.9,917.4L356.2,919.3L358.5,921.3L360.8,923.5L363.1,925.9L365.4,928.3L367.7,930.8L370.0,933.4L372.3,936.0L374.6,938.9L376.9,941.9L379.2,945.0L381.5,948.1L383.8,951.1L386.1,954.1L388.4,957.1L390.7,960.2L393.0,963.5L395.3,966.8L397.6,970.0L399.9,973.1L402.2,976.1L404.5,978.9L406.8,981.7L409.1,984.4L411.4,987.0L413.7,989.6L416.0,992.1L418.3,994.5L420.6,997.0L422.9,999.4L425.2,1001.8L427.5,1004.2L429.8,1006.5L432.1,1008.7L434.4,1010.8L436.7,1012.9L439.0,1014.9L441.3,1016.9L443.6,1018.9L445.9,1020.9L448.2,1022.9L450.5,1024.8L452.8,1026.8L455.1,1028.6L457.4,1030.3L459.7,1032.0L462.0,1033.6L464.3,1035.3L466.6,1036.9L468.9,1038.5L471.2,1040.1L473.5,1041.6L475.8,1043.2L478.1,1044.8L480.4,1046.5L482.7,1048.3L485.0,1050.1L487.3,1051.9L489.6,1053.7L491.9,1055.7L494.2,1057.7L496.5,1059.7L498.8,1061.5L501.1,1063.2L503.4,1064.8L505.7,1066.4L508.0,1068.1L510.3,1069.7L512.6,1071.4L514.9,1073.0L517.2,1074.7L519.5,1076.3L521.8,1078.0L524.1,1079.8L526.4,1081.5L528.7,1083.3L531.0,1085.2L533.3,1087.1L535.6,1088.9L537.9,1090.7L540.2,1092.5L542.5,1094.3L544.8,1096.0L547.1,1097.6L549.4,1099.2L551.7,1100.7L554.0,1102.2L556.3,1103.6L558.6,1105.1L560.9,1106.6L563.2,1108.0L565.5,1109.4L567.8,1110.7L570.1,1112.0L572.4,1113.2L574.7,1114.5L577.0,1115.7L579.3,1117.0L581.6,1118.3L583.9,1119.5L586.2,1120.6L588.5,1121.7L590.8,1122.8L593.1,1123.8L595.4,1124.9L597.7,1125.9L600.0,1127.0L602.3,1128.0L604.6,1129.0L606.9,1129.7L609.2,1130.4L611.5,1131.1L613.8,1131.7L616.1,1132.3L618.4,1132.9L620.7,1133.5L623.0,1134.2L625.3,1134.7L627.6,1135.3L629.9,1135.9L632.2,1136.4L634.5,1136.9L636.8,1137.3L639.1,1137.8L641.4,1138.2L643.7,1138.6L646.0,1138.9L648.3,1139.3L650.6,1139.6L652.9,1139.9L655.2,1140.2L657.5,1140.5L659.8,1140.9L662.1,1141.2L664.4,1141.5L666.7,1141.7L669.0,1141.9L671.3,1142.2L673.6,1142.4L675.9,1142.6L678.2,1142.8L680.5,1143.0L682.8,1143.2L685.1,1143.4L687.4,1143.5L689.7,1143.6L692.0,1143.7L694.3,1143.8L696.6,1143.9L698.9,1144.1L701.2,1144.2L703.5,1144.3L705.8,1144.5L708.1,1144.6L710.4,1144.7L712.7,1144.8L715.0,1144.9L717.3,1145.0L719.6,1145.1L721.9,1145.2L724.2,1145.3L726.5,1145.4L728.8,1145.5L731.1,1145.6L733.4,1145.6L735.7,1145.7L738.0,1145.8L740.3,1145.8L742.6,1145.9L744.9,1145.9L747.2,1146.0L749.5,1146.0L751.8,1146.1L754.1,1146.1L756.4,1146.2L758.7,1146.2L761.0,1146.2L763.3,1146.3L765.6,1146.3L767.9,1146.4L770.2,1146.4L772.5,1146.4L774.8,1146.4L777.1,1146.4L779.4,1146.5L781.7,1146.5L784.0,1146.5L786.3,1146.5L788.6,1146.5L790.9,1146.5L793.2,1146.5L795.5,1146.5L797.8,1146.6L800.1,1146.6L802.4,1146.6L804.7,1146.6L807.0,1146.6L809.3,1146.6L811.6,1146.6L813.9,1146.6L816.2,1146.6L818.5,1146.6L820.8,1146.6L823.1,1146.6L825.4,1146.6" stroke="#c9c5c4" stroke-width="4.2"/>
<path d="M135.4,914.2L137.7,911.7L140.0,908.8L142.3,905.6L144.6,901.8L146.9,897.7L149.2,892.9L151.5,887.5L153.8,881.5L156.1,875.0L158.4,868.0L160.7,860.8L163.0,853.5L165.3,846.3L167.6,839.0L169.9,831.4L172.2,823.3L174.5,814.6L176.8,805.5L179.1,796.5L181.4,787.7L183.7,779.4L186.0,771.6L188.3,764.3L190.6,757.7L192.9,751.7L195.2,746.5L197.5,742.0L199.8,738.3L202.1,735.4L204.4,733.1L206.7,731.5L209.0,730.6L211.3,730.3L213.6,730.5L215.9,731.5L218.2,733.5L220.5,736.7L222.8,741.1L225.1,746.6L227.4,753.0L229.7,760.3L232.0,768.3L234.3,776.8L236.6,785.3L238.9,793.7L241.2,802.1L243.5,810.6L245.8,819.3L248.1,827.9L250.4,836.3L252.7,844.3L255.0,851.9L257.3,859.2L259.6,865.9L261.9,872.1L264.2,877.9L266.5,883.1L268.8,888.0L271.1,892.4L273.4,896.4L275.7,900.2L278.0,904.1L280.3,907.9L282.6,911.4L284.9,914.2L287.2,916.1L289.5,917.0L291.8,917.0L294.1,916.3L296.4,915.3L298.7,914.2L301.0,913.2L303.3,912.3L305.6,911.6L307.9,910.9L310.2,910.3L312.5,909.8L314.8,909.4L317.1,908.9L319.4,908.3L321.7,907.7L324.0,907.0L326.3,906.3L328.6,905.6L330.9,904.9L333.2,904.4L335.5,904.1L337.8,904.1L340.1,904.5L342.4,905.2L344.7,906.3L347.0,907.7L349.3,909.2L351.6,910.7L353.9,912.1L356.2,913.5L358.5,915.0L360.8,916.7L363.1,918.7L365.4,920.7L367.7,922.8L370.0,925.0L372.3,927.4L374.6,930.0L376.9,932.8L379.2,935.7L381.5,938.7L383.8,941.6L386.1,944.5L388.4,947.5L390.7,950.7L393.0,954.0L395.3,957.2L397.6,960.5L399.9,963.5L402.2,966.5L404.5,969.3L406.8,971.9L409.1,974.5L411.4,977.0L413.7,979.5L416.0,981.8L418.3,984.1L420.6,986.4L422.9,988.7L425.2,990.9L427.5,993.1L429.8,995.2L432.1,997.2L434.4,999.1L436.7,1000.9L439.0,1002.7L441.3,1004.4L443.6,1006.1L445.9,1007.9L448.2,1009.7L450.5,1011.4L452.8,1013.1L455.1,1014.7L457.4,1016.3L459.7,1017.7L462.0,1019.2L464.3,1020.6L466.6,1022.1L468.9,1023.6L471.2,1025.2L473.5,1026.7L475.8,1028.1L478.1,1029.7L480.4,1031.3L482.7,1033.0L485.0,1034.8L487.3,1036.5L489.6,1038.4L491.9,1040.3L494.2,1042.5L496.5,1044.6L498.8,1046.5L501.1,1048.3L503.4,1050.0L505.7,1051.7L508.0,1053.5L510.3,1055.3L512.6,1057.1L514.9,1058.9L517.2,1060.8L519.5,1062.7L521.8,1064.6L524.1,1066.6L526.4,1068.6L528.7,1070.7L531.0,1072.9L533.3,1075.1L535.6,1077.2L537.9,1079.4L540.2,1081.5L542.5,1083.6L544.8,1085.6L547.1,1087.6L549.4,1089.4L551.7,1091.2L554.0,1093.0L556.3,1094.8L558.6,1096.5L560.9,1098.3L563.2,1100.0L565.5,1101.7L567.8,1103.3L570.1,1104.8L572.4,1106.3L574.7,1107.8L577.0,1109.3L579.3,1110.9L581.6,1112.4L583.9,1113.9L586.2,1115.2L588.5,1116.6L590.8,1117.8L593.1,1119.1L595.4,1120.4L597.7,1121.6L600.0,1122.9L602.3,1124.2L604.6,1125.3L606.9,1126.3L609.2,1127.1L611.5,1127.8L613.8,1128.6L616.1,1129.3L618.4,1130.1L620.7,1130.8L623.0,1131.6L625.3,1132.3L627.6,1133.0L629.9,1133.6L632.2,1134.2L634.5,1134.8L636.8,1135.4L639.1,1135.9L641.4,1136.4L643.7,1136.9L646.0,1137.3L648.3,1137.8L650.6,1138.1L652.9,1138.5L655.2,1138.9L657.5,1139.3L659.8,1139.7L662.1,1140.0L664.4,1140.4L666.7,1140.7L669.0,1141.0L671.3,1141.2L673.6,1141.5L675.9,1141.7L678.2,1142.0L680.5,1142.2L682.8,1142.5L685.1,1142.7L687.4,1142.9L689.7,1143.0L692.0,1143.1L694.3,1143.2L696.6,1143.4L698.9,1143.5L701.2,1143.7L703.5,1143.8L705.8,1144.0L708.1,1144.2L710.4,1144.3L712.7,1144.4L715.0,1144.6L717.3,1144.7L719.6,1144.8L721.9,1144.9L724.2,1145.0L726.5,1145.1L728.8,1145.2L731.1,1145.3L733.4,1145.4L735.7,1145.5L738.0,1145.6L740.3,1145.6L742.6,1145.7L744.9,1145.8L747.2,1145.8L749.5,1145.9L751.8,1146.0L754.1,1146.0L756.4,1146.1L758.7,1146.1L761.0,1146.2L763.3,1146.2L765.6,1146.2L767.9,1146.3L770.2,1146.3L772.5,1146.3L774.8,1146.4L777.1,1146.4L779.4,1146.4L781.7,1146.4L784.0,1146.4L786.3,1146.4L788.6,1146.5L790.9,1146.5L793.2,1146.5L795.5,1146.5L797.8,1146.5L800.1,1146.5L802.4,1146.5L804.7,1146.5L807.0,1146.6L809.3,1146.6L811.6,1146.6L813.9,1146.6L816.2,1146.6L818.5,1146.6L820.8,1146.6L823.1,1146.6L825.4,1146.6" stroke="#c9c5c4" stroke-width="4.2"/>
<path d="M135.4,917.6L137.7,915.1L140.0,912.4L142.3,909.2L144.6,905.7L146.9,901.8L149.2,897.3L151.5,892.3L153.8,886.8L156.1,880.8L158.4,874.4L160.7,867.7L163.0,860.9L165.3,854.1L167.6,847.2L169.9,839.9L172.2,832.0L174.5,823.4L176.8,814.5L179.1,805.5L181.4,796.9L183.7,788.6L186.0,780.8L188.3,773.4L190.6,766.6L192.9,760.3L195.2,754.6L197.5,749.5L199.8,745.1L202.1,741.4L204.4,738.3L206.7,735.8L209.0,734.0L211.3,732.7L213.6,732.0L215.9,732.1L218.2,733.3L220.5,735.6L222.8,739.1L225.1,743.6L227.4,749.1L229.7,755.5L232.0,762.6L234.3,770.3L236.6,778.1L238.9,785.9L241.2,793.9L243.5,802.1L245.8,810.5L248.1,819.1L250.4,827.5L252.7,835.8L255.0,843.7L257.3,851.4L259.6,858.6L261.9,865.3L264.2,871.6L266.5,877.4L268.8,882.8L271.1,887.8L273.4,892.3L275.7,896.7L278.0,901.1L280.3,905.5L282.6,909.6L284.9,913.0L287.2,915.4L289.5,916.7L291.8,917.0L294.1,916.6L296.4,915.8L298.7,915.0L301.0,914.1L303.3,913.4L305.6,912.7L307.9,912.0L310.2,911.4L312.5,910.9L314.8,910.4L317.1,909.8L319.4,909.1L321.7,908.3L324.0,907.5L326.3,906.6L328.6,905.7L330.9,904.9L333.2,904.2L335.5,903.6L337.8,903.3L340.1,903.3L342.4,903.6L344.7,904.3L347.0,905.1L349.3,906.1L351.6,907.1L353.9,908.0L356.2,909.0L358.5,910.2L360.8,911.6L363.1,913.2L365.4,914.9L367.7,916.8L370.0,918.7L372.3,920.9L374.6,923.3L376.9,926.0L379.2,928.8L381.5,931.6L383.8,934.5L386.1,937.3L388.4,940.3L390.7,943.5L393.0,946.8L395.3,950.1L397.6,953.3L399.9,956.3L402.2,959.2L404.5,962.0L406.8,964.6L409.1,967.1L411.4,969.5L413.7,971.8L416.0,974.0L418.3,976.2L420.6,978.4L422.9,980.6L425.2,982.7L427.5,984.7L429.8,986.7L432.1,988.5L434.4,990.2L436.7,991.9L439.0,993.4L441.3,995.0L443.6,996.5L445.9,998.1L448.2,999.7L450.5,1001.2L452.8,1002.8L455.1,1004.2L457.4,1005.6L459.7,1006.9L462.0,1008.2L464.3,1009.6L466.6,1011.0L468.9,1012.4L471.2,1013.9L473.5,1015.3L475.8,1016.8L478.1,1018.3L480.4,1019.8L482.7,1021.5L485.0,1023.2L487.3,1024.9L489.6,1026.8L491.9,1028.7L494.2,1030.9L496.5,1033.1L498.8,1035.2L501.1,1037.0L503.4,1038.8L505.7,1040.6L508.0,1042.5L510.3,1044.4L512.6,1046.3L514.9,1048.3L517.2,1050.3L519.5,1052.3L521.8,1054.4L524.1,1056.6L526.4,1058.8L528.7,1061.2L531.0,1063.6L533.3,1066.0L535.6,1068.4L537.9,1070.8L540.2,1073.2L542.5,1075.5L544.8,1077.8L547.1,1080.0L549.4,1082.0L551.7,1084.1L554.0,1086.0L556.3,1088.0L558.6,1090.1L560.9,1092.1L563.2,1094.0L565.5,1095.9L567.8,1097.7L570.1,1099.4L572.4,1101.1L574.7,1102.8L577.0,1104.5L579.3,1106.3L581.6,1108.0L583.9,1109.6L586.2,1111.2L588.5,1112.7L590.8,1114.1L593.1,1115.5L595.4,1116.9L597.7,1118.4L600.0,1119.9L602.3,1121.3L604.6,1122.5L606.9,1123.6L609.2,1124.5L611.5,1125.4L613.8,1126.2L616.1,1127.1L618.4,1127.9L620.7,1128.8L623.0,1129.6L625.3,1130.4L627.6,1131.2L629.9,1131.9L632.2,1132.6L634.5,1133.3L636.8,1133.9L639.1,1134.5L641.4,1135.1L643.7,1135.6L646.0,1136.1L648.3,1136.6L650.6,1137.0L652.9,1137.5L655.2,1137.9L657.5,1138.3L659.8,1138.7L662.1,1139.2L664.4,1139.6L666.7,1139.9L669.0,1140.2L671.3,1140.5L673.6,1140.8L675.9,1141.1L678.2,1141.4L680.5,1141.7L682.8,1141.9L685.1,1142.2L687.4,1142.4L689.7,1142.5L692.0,1142.7L694.3,1142.8L696.6,1142.9L698.9,1143.1L701.2,1143.3L703.5,1143.5L705.8,1143.6L708.1,1143.8L710.4,1144.0L712.7,1144.2L715.0,1144.3L717.3,1144.4L719.6,1144.6L721.9,1144.7L724.2,1144.8L726.5,1144.9L728.8,1145.0L731.1,1145.2L733.4,1145.2L735.7,1145.3L738.0,1145.4L740.3,1145.5L742.6,1145.6L744.9,1145.7L747.2,1145.7L749.5,1145.8L751.8,1145.9L754.1,1145.9L756.4,1146.0L758.7,1146.0L761.0,1146.1L763.3,1146.1L765.6,1146.2L767.9,1146.2L770.2,1146.3L772.5,1146.3L774.8,1146.3L777.1,1146.3L779.4,1146.4L781.7,1146.4L784.0,1146.4L786.3,1146.4L788.6,1146.4L790.9,1146.4L793.2,1146.5L795.5,1146.5L797.8,1146.5L800.1,1146.5L802.4,1146.5L804.7,1146.5L807.0,1146.5L809.3,1146.5L811.6,1146.6L813.9,1146.6L816.2,1146.6L818.5,1146.6L820.8,1146.6L823.1,1146.6L825.4,1146.6" stroke="#c9c5c4" stroke-width="4.2"/>
<path d="M135.4,921.4L137.7,919.0L140.0,916.3L142.3,913.3L144.6,910.0L146.9,906.3L149.2,902.2L151.5,897.7L153.8,892.7L156.1,887.2L158.4,881.4L160.7,875.3L163.0,869.1L165.3,862.8L167.6,856.2L169.9,849.3L172.2,841.7L174.5,833.3L176.8,824.4L179.1,815.6L181.4,807.0L183.7,798.9L186.0,791.0L188.3,783.5L190.6,776.4L192.9,769.8L195.2,763.5L197.5,757.8L199.8,752.6L202.1,748.0L204.4,744.0L206.7,740.5L209.0,737.6L211.3,735.4L213.6,733.7L215.9,732.8L218.2,733.0L220.5,734.3L222.8,736.7L225.1,740.3L227.4,744.8L229.7,750.1L232.0,756.2L234.3,763.0L236.6,770.1L238.9,777.3L241.2,784.8L243.5,792.6L245.8,800.8L248.1,809.3L250.4,817.8L252.7,826.3L255.0,834.6L257.3,842.7L259.6,850.4L261.9,857.7L264.2,864.6L266.5,871.0L268.8,877.0L271.1,882.6L273.4,887.8L275.7,892.9L278.0,897.9L280.3,903.0L282.6,907.7L284.9,911.7L287.2,914.6L289.5,916.3L291.8,917.0L294.1,916.9L296.4,916.4L298.7,915.8L301.0,915.1L303.3,914.5L305.6,913.9L307.9,913.3L310.2,912.7L312.5,912.1L314.8,911.5L317.1,910.8L319.4,909.9L321.7,909.0L324.0,908.0L326.3,906.9L328.6,905.8L330.9,904.8L333.2,903.9L335.5,903.1L337.8,902.5L340.1,902.1L342.4,901.9L344.7,902.0L347.0,902.3L349.3,902.7L351.6,903.1L353.9,903.5L356.2,904.1L358.5,904.9L360.8,905.9L363.1,907.1L365.4,908.5L367.7,910.1L370.0,911.7L372.3,913.7L374.6,915.9L376.9,918.4L379.2,921.0L381.5,923.8L383.8,926.5L386.1,929.4L388.4,932.3L390.7,935.5L393.0,938.8L395.3,942.1L397.6,945.3L399.9,948.3L402.2,951.2L404.5,953.9L406.8,956.4L409.1,958.8L411.4,961.1L413.7,963.3L416.0,965.4L418.3,967.5L420.6,969.5L422.9,971.6L425.2,973.5L427.5,975.4L429.8,977.2L432.1,978.9L434.4,980.4L436.7,981.8L439.0,983.2L441.3,984.5L443.6,985.9L445.9,987.2L448.2,988.6L450.5,989.9L452.8,991.3L455.1,992.6L457.4,993.8L459.7,995.0L462.0,996.1L464.3,997.3L466.6,998.6L468.9,999.9L471.2,1001.3L473.5,1002.7L475.8,1004.2L478.1,1005.6L480.4,1007.1L482.7,1008.7L485.0,1010.4L487.3,1012.1L489.6,1013.9L491.9,1015.9L494.2,1018.1L496.5,1020.4L498.8,1022.6L501.1,1024.5L503.4,1026.4L505.7,1028.3L508.0,1030.3L510.3,1032.3L512.6,1034.4L514.9,1036.5L517.2,1038.7L519.5,1040.9L521.8,1043.2L524.1,1045.5L526.4,1048.0L528.7,1050.6L531.0,1053.3L533.3,1056.0L535.6,1058.7L537.9,1061.3L540.2,1064.0L542.5,1066.6L544.8,1069.1L547.1,1071.5L549.4,1073.9L551.7,1076.1L554.0,1078.4L556.3,1080.6L558.6,1082.9L560.9,1085.1L563.2,1087.3L565.5,1089.4L567.8,1091.5L570.1,1093.4L572.4,1095.3L574.7,1097.2L577.0,1099.2L579.3,1101.1L581.6,1103.0L583.9,1104.9L586.2,1106.7L588.5,1108.3L590.8,1110.0L593.1,1111.6L595.4,1113.2L597.7,1114.8L600.0,1116.5L602.3,1118.1L604.6,1119.5L606.9,1120.7L609.2,1121.7L611.5,1122.7L613.8,1123.6L616.1,1124.6L618.4,1125.5L620.7,1126.5L623.0,1127.4L625.3,1128.4L627.6,1129.2L629.9,1130.0L632.2,1130.8L634.5,1131.6L636.8,1132.3L639.1,1133.0L641.4,1133.6L643.7,1134.2L646.0,1134.8L648.3,1135.3L650.6,1135.8L652.9,1136.3L655.2,1136.8L657.5,1137.2L659.8,1137.7L662.1,1138.2L664.4,1138.7L666.7,1139.0L669.0,1139.4L671.3,1139.7L673.6,1140.0L675.9,1140.4L678.2,1140.7L680.5,1141.0L682.8,1141.3L685.1,1141.6L687.4,1141.8L689.7,1142.0L692.0,1142.1L694.3,1142.3L696.6,1142.5L698.9,1142.7L701.2,1142.8L703.5,1143.1L705.8,1143.3L708.1,1143.5L710.4,1143.6L712.7,1143.8L715.0,1144.0L717.3,1144.2L719.6,1144.3L721.9,1144.4L724.2,1144.6L726.5,1144.7L728.8,1144.8L731.1,1145.0L733.4,1145.1L735.7,1145.2L738.0,1145.3L740.3,1145.4L742.6,1145.4L744.9,1145.5L747.2,1145.6L749.5,1145.7L751.8,1145.8L754.1,1145.8L756.4,1145.9L758.7,1145.9L761.0,1146.0L763.3,1146.1L765.6,1146.1L767.9,1146.2L770.2,1146.2L772.5,1146.2L774.8,1146.3L777.1,1146.3L779.4,1146.3L781.7,1146.3L784.0,1146.4L786.3,1146.4L788.6,1146.4L790.9,1146.4L793.2,1146.4L795.5,1146.4L797.8,1146.5L800.1,1146.5L802.4,1146.5L804.7,1146.5L807.0,1146.5L809.3,1146.5L811.6,1146.5L813.9,1146.5L816.2,1146.5L818.5,1146.6L820.8,1146.6L823.1,1146.6L825.4,1146.6" stroke="#c9c5c4" stroke-width="4.2"/>
<path d="M135.4,925.2L137.7,922.8L140.0,920.2L142.3,917.4L144.6,914.2L146.9,910.8L149.2,907.0L151.5,902.9L153.8,898.4L156.1,893.5L158.4,888.3L160.7,882.8L163.0,877.1L165.3,871.3L167.6,865.2L169.9,858.6L172.2,851.2L174.5,842.9L176.8,834.2L179.1,825.5L181.4,817.0L183.7,808.9L186.0,801.1L188.3,793.5L190.6,786.2L192.9,779.1L195.2,772.3L197.5,765.9L199.8,760.0L202.1,754.6L204.4,749.6L206.7,745.1L209.0,741.3L211.3,738.0L213.6,735.3L215.9,733.5L218.2,732.7L220.5,733.0L222.8,734.5L225.1,737.0L227.4,740.5L229.7,744.8L232.0,750.0L234.3,755.9L236.6,762.2L238.9,768.9L241.2,775.9L243.5,783.3L245.8,791.3L248.1,799.6L250.4,808.3L252.7,817.0L255.0,825.7L257.3,834.2L259.6,842.4L261.9,850.3L264.2,857.7L266.5,864.8L268.8,871.4L271.1,877.6L273.4,883.4L275.7,889.0L278.0,894.7L280.3,900.4L282.6,905.8L284.9,910.3L287.2,913.8L289.5,916.0L291.8,917.0L294.1,917.2L296.4,916.9L298.7,916.5L301.0,916.1L303.3,915.6L305.6,915.1L307.9,914.5L310.2,913.9L312.5,913.3L314.8,912.6L317.1,911.7L319.4,910.8L321.7,909.7L324.0,908.5L326.3,907.2L328.6,905.9L330.9,904.7L333.2,903.6L335.5,902.6L337.8,901.6L340.1,900.9L342.4,900.2L344.7,899.8L347.0,899.5L349.3,899.3L351.6,899.2L353.9,899.1L356.2,899.3L358.5,899.7L360.8,900.3L363.1,901.2L365.4,902.2L367.7,903.5L370.0,904.9L372.3,906.6L374.6,908.6L376.9,910.9L379.2,913.4L381.5,916.0L383.8,918.7L386.1,921.5L388.4,924.4L390.7,927.6L393.0,930.9L395.3,934.2L397.6,937.4L399.9,940.5L402.2,943.3L404.5,945.9L406.8,948.3L409.1,950.7L411.4,952.9L413.7,955.0L416.0,957.0L418.3,958.9L420.6,960.8L422.9,962.7L425.2,964.5L427.5,966.3L429.8,967.9L432.1,969.4L434.4,970.7L436.7,972.0L439.0,973.1L441.3,974.2L443.6,975.3L445.9,976.5L448.2,977.6L450.5,978.8L452.8,980.0L455.1,981.1L457.4,982.2L459.7,983.2L462.0,984.2L464.3,985.2L466.6,986.4L468.9,987.6L471.2,989.0L473.5,990.4L475.8,991.7L478.1,993.1L480.4,994.5L482.7,996.1L485.0,997.7L487.3,999.4L489.6,1001.2L491.9,1003.2L494.2,1005.6L496.5,1007.9L498.8,1010.2L501.1,1012.2L503.4,1014.2L505.7,1016.2L508.0,1018.3L510.3,1020.4L512.6,1022.6L514.9,1024.9L517.2,1027.2L519.5,1029.6L521.8,1032.1L524.1,1034.6L526.4,1037.3L528.7,1040.2L531.0,1043.1L533.3,1046.1L535.6,1049.0L537.9,1052.0L540.2,1054.9L542.5,1057.8L544.8,1060.6L547.1,1063.2L549.4,1065.8L551.7,1068.3L554.0,1070.8L556.3,1073.3L558.6,1075.8L560.9,1078.3L563.2,1080.7L565.5,1083.1L567.8,1085.3L570.1,1087.5L572.4,1089.6L574.7,1091.8L577.0,1093.9L579.3,1096.1L581.6,1098.2L583.9,1100.3L586.2,1102.2L588.5,1104.1L590.8,1105.9L593.1,1107.7L595.4,1109.5L597.7,1111.3L600.0,1113.1L602.3,1114.9L604.6,1116.4L606.9,1117.8L609.2,1119.0L611.5,1120.0L613.8,1121.1L616.1,1122.1L618.4,1123.2L620.7,1124.3L623.0,1125.3L625.3,1126.3L627.6,1127.3L629.9,1128.2L632.2,1129.1L634.5,1129.9L636.8,1130.7L639.1,1131.5L641.4,1132.2L643.7,1132.9L646.0,1133.5L648.3,1134.1L650.6,1134.6L652.9,1135.1L655.2,1135.7L657.5,1136.2L659.8,1136.7L662.1,1137.3L664.4,1137.8L666.7,1138.2L669.0,1138.6L671.3,1138.9L673.6,1139.3L675.9,1139.7L678.2,1140.0L680.5,1140.4L682.8,1140.7L685.1,1141.0L687.4,1141.3L689.7,1141.5L692.0,1141.6L694.3,1141.8L696.6,1142.0L698.9,1142.2L701.2,1142.4L703.5,1142.6L705.8,1142.9L708.1,1143.1L710.4,1143.3L712.7,1143.5L715.0,1143.7L717.3,1143.9L719.6,1144.0L721.9,1144.2L724.2,1144.3L726.5,1144.5L728.8,1144.6L731.1,1144.8L733.4,1144.9L735.7,1145.0L738.0,1145.1L740.3,1145.2L742.6,1145.3L744.9,1145.4L747.2,1145.5L749.5,1145.6L751.8,1145.6L754.1,1145.7L756.4,1145.8L758.7,1145.9L761.0,1145.9L763.3,1146.0L765.6,1146.0L767.9,1146.1L770.2,1146.1L772.5,1146.2L774.8,1146.2L777.1,1146.2L779.4,1146.3L781.7,1146.3L784.0,1146.3L786.3,1146.3L788.6,1146.4L790.9,1146.4L793.2,1146.4L795.5,1146.4L797.8,1146.4L800.1,1146.4L802.4,1146.5L804.7,1146.5L807.0,1146.5L809.3,1146.5L811.6,1146.5L813.9,1146.5L816.2,1146.5L818.5,1146.5L820.8,1146.5L823.1,1146.5L825.4,1146.5" stroke="#c9c5c4" stroke-width="4.2"/>
<path d="M135.4,929.1L137.7,926.8L140.0,924.3L142.3,921.6L144.6,918.7L146.9,915.5L149.2,912.1L151.5,908.4L153.8,904.4L156.1,900.2L158.4,895.6L160.7,890.7L163.0,885.6L165.3,880.2L167.6,874.5L169.9,868.3L172.2,861.1L174.5,853.1L176.8,844.5L179.1,835.9L181.4,827.5L183.7,819.5L186.0,811.6L188.3,803.9L190.6,796.4L192.9,788.9L195.2,781.5L197.5,774.5L199.8,767.8L202.1,761.4L204.4,755.5L206.7,750.0L209.0,745.1L211.3,740.8L213.6,737.1L215.9,734.2L218.2,732.4L220.5,731.7L222.8,732.1L225.1,733.5L227.4,736.0L229.7,739.3L232.0,743.4L234.3,748.4L236.6,754.0L238.9,760.0L241.2,766.5L243.5,773.6L245.8,781.3L248.1,789.5L250.4,798.3L252.7,807.2L255.0,816.3L257.3,825.2L259.6,834.0L261.9,842.5L264.2,850.5L266.5,858.2L268.8,865.5L271.1,872.3L273.4,878.7L275.7,885.0L278.0,891.4L280.3,897.8L282.6,903.8L284.9,909.0L287.2,912.9L289.5,915.6L291.8,917.0L294.1,917.5L296.4,917.5L298.7,917.4L301.0,917.1L303.3,916.8L305.6,916.4L307.9,915.8L310.2,915.2L312.5,914.5L314.8,913.7L317.1,912.8L319.4,911.6L321.7,910.4L324.0,909.0L326.3,907.5L328.6,906.1L330.9,904.6L333.2,903.3L335.5,902.0L337.8,900.8L340.1,899.6L342.4,898.4L344.7,897.4L347.0,896.5L349.3,895.7L351.6,895.0L353.9,894.5L356.2,894.2L358.5,894.2L360.8,894.4L363.1,894.9L365.4,895.6L367.7,896.5L370.0,897.7L372.3,899.1L374.6,900.9L376.9,903.0L379.2,905.4L381.5,907.9L383.8,910.5L386.1,913.3L388.4,916.2L390.7,919.3L393.0,922.7L395.3,926.0L397.6,929.2L399.9,932.2L402.2,935.0L404.5,937.5L406.8,939.9L409.1,942.1L411.4,944.2L413.7,946.2L416.0,948.1L418.3,949.9L420.6,951.6L422.9,953.4L425.2,955.1L427.5,956.7L429.8,958.1L432.1,959.4L434.4,960.6L436.7,961.6L439.0,962.6L441.3,963.5L443.6,964.3L445.9,965.3L448.2,966.2L450.5,967.2L452.8,968.2L455.1,969.1L457.4,970.0L459.7,970.8L462.0,971.7L464.3,972.6L466.6,973.6L468.9,974.8L471.2,976.0L473.5,977.4L475.8,978.7L478.1,980.0L480.4,981.4L482.7,982.9L485.0,984.5L487.3,986.1L489.6,987.9L491.9,990.0L494.2,992.4L496.5,994.9L498.8,997.2L501.1,999.3L503.4,1001.4L505.7,1003.5L508.0,1005.7L510.3,1008.0L512.6,1010.3L514.9,1012.7L517.2,1015.2L519.5,1017.8L521.8,1020.4L524.1,1023.2L526.4,1026.2L528.7,1029.3L531.0,1032.5L533.3,1035.7L535.6,1038.9L537.9,1042.2L540.2,1045.4L542.5,1048.5L544.8,1051.6L547.1,1054.5L549.4,1057.3L551.7,1060.1L554.0,1062.8L556.3,1065.6L558.6,1068.4L560.9,1071.1L563.2,1073.9L565.5,1076.4L567.8,1078.9L570.1,1081.3L572.4,1083.7L574.7,1086.0L577.0,1088.4L579.3,1090.8L581.6,1093.1L583.9,1095.4L586.2,1097.6L588.5,1099.6L590.8,1101.6L593.1,1103.6L595.4,1105.6L597.7,1107.6L600.0,1109.6L602.3,1111.5L604.6,1113.3L606.9,1114.8L609.2,1116.1L611.5,1117.2L613.8,1118.4L616.1,1119.5L618.4,1120.7L620.7,1121.9L623.0,1123.1L625.3,1124.2L627.6,1125.3L629.9,1126.3L632.2,1127.2L634.5,1128.2L636.8,1129.0L639.1,1129.9L641.4,1130.7L643.7,1131.4L646.0,1132.1L648.3,1132.7L650.6,1133.3L652.9,1133.9L655.2,1134.5L657.5,1135.1L659.8,1135.7L662.1,1136.3L664.4,1136.8L666.7,1137.3L669.0,1137.7L671.3,1138.1L673.6,1138.5L675.9,1138.9L678.2,1139.3L680.5,1139.7L682.8,1140.1L685.1,1140.4L687.4,1140.7L689.7,1140.9L692.0,1141.1L694.3,1141.3L696.6,1141.5L698.9,1141.7L701.2,1142.0L703.5,1142.2L705.8,1142.5L708.1,1142.7L710.4,1143.0L712.7,1143.2L715.0,1143.4L717.3,1143.6L719.6,1143.8L721.9,1143.9L724.2,1144.1L726.5,1144.3L728.8,1144.4L731.1,1144.6L733.4,1144.7L735.7,1144.8L738.0,1144.9L740.3,1145.0L742.6,1145.2L744.9,1145.3L747.2,1145.4L749.5,1145.4L751.8,1145.5L754.1,1145.6L756.4,1145.7L758.7,1145.8L761.0,1145.8L763.3,1145.9L765.6,1146.0L767.9,1146.0L770.2,1146.1L772.5,1146.1L774.8,1146.2L777.1,1146.2L779.4,1146.2L781.7,1146.3L784.0,1146.3L786.3,1146.3L788.6,1146.3L790.9,1146.3L793.2,1146.4L795.5,1146.4L797.8,1146.4L800.1,1146.4L802.4,1146.4L804.7,1146.5L807.0,1146.5L809.3,1146.5L811.6,1146.5L813.9,1146.5L816.2,1146.5L818.5,1146.5L820.8,1146.5L823.1,1146.5L825.4,1146.5" stroke="#c9c5c4" stroke-width="4.2"/>
<path d="M135.4,930.6L137.7,928.3L140.0,925.9L142.3,923.2L144.6,920.3L146.9,917.3L149.2,914.0L151.5,910.5L153.8,906.7L156.1,902.7L158.4,898.3L160.7,893.7L163.0,888.8L165.3,883.6L167.6,878.1L169.9,872.0L172.2,864.9L174.5,856.9L176.8,848.4L179.1,839.8L181.4,831.5L183.7,823.5L186.0,815.7L188.3,807.9L190.6,800.2L192.9,792.6L195.2,785.1L197.5,777.8L199.8,770.8L202.1,764.1L204.4,757.7L206.7,751.8L209.0,746.5L211.3,741.8L213.6,737.7L215.9,734.5L218.2,732.3L220.5,731.2L222.8,731.2L225.1,732.2L227.4,734.3L229.7,737.2L232.0,740.9L234.3,745.5L236.6,750.8L238.9,756.6L241.2,762.9L243.5,769.9L245.8,777.5L248.1,785.7L250.4,794.4L252.7,803.5L255.0,812.7L257.3,821.8L259.6,830.8L261.9,839.5L264.2,847.8L266.5,855.7L268.8,863.2L271.1,870.3L273.4,877.0L275.7,883.5L278.0,890.1L280.3,896.7L282.6,903.0L284.9,908.4L287.2,912.6L289.5,915.5L291.8,917.0L294.1,917.6L296.4,917.8L298.7,917.7L301.0,917.5L303.3,917.3L305.6,916.9L307.9,916.3L310.2,915.7L312.5,915.0L314.8,914.2L317.1,913.2L319.4,912.0L321.7,910.6L324.0,909.2L326.3,907.7L328.6,906.1L330.9,904.6L333.2,903.2L335.5,901.8L337.8,900.4L340.1,899.1L342.4,897.8L344.7,896.5L347.0,895.4L349.3,894.4L351.6,893.5L353.9,892.8L356.2,892.3L358.5,892.1L360.8,892.2L363.1,892.5L365.4,893.1L367.7,893.9L370.0,894.9L372.3,896.3L374.6,898.0L376.9,900.1L379.2,902.4L381.5,904.8L383.8,907.4L386.1,910.1L388.4,913.0L390.7,916.2L393.0,919.5L395.3,922.8L397.6,926.1L399.9,929.1L402.2,931.8L404.5,934.3L406.8,936.7L409.1,938.9L411.4,940.9L413.7,942.9L416.0,944.7L418.3,946.4L420.6,948.2L422.9,949.9L425.2,951.5L427.5,953.0L429.8,954.4L432.1,955.6L434.4,956.7L436.7,957.7L439.0,958.5L441.3,959.3L443.6,960.1L445.9,961.0L448.2,961.8L450.5,962.8L452.8,963.7L455.1,964.6L457.4,965.4L459.7,966.1L462.0,966.9L464.3,967.7L466.6,968.7L468.9,969.8L471.2,971.1L473.5,972.4L475.8,973.8L478.1,975.0L480.4,976.4L482.7,977.9L485.0,979.4L487.3,981.1L489.6,982.8L491.9,984.9L494.2,987.3L496.5,989.9L498.8,992.2L501.1,994.4L503.4,996.5L505.7,998.7L508.0,1000.9L510.3,1003.2L512.6,1005.6L514.9,1008.1L517.2,1010.6L519.5,1013.2L521.8,1016.0L524.1,1018.9L526.4,1021.9L528.7,1025.1L531.0,1028.4L533.3,1031.7L535.6,1035.1L537.9,1038.4L540.2,1041.8L542.5,1045.0L544.8,1048.2L547.1,1051.2L549.4,1054.1L551.7,1057.0L554.0,1059.8L556.3,1062.7L558.6,1065.5L560.9,1068.4L563.2,1071.2L565.5,1073.9L567.8,1076.5L570.1,1079.0L572.4,1081.4L574.7,1083.8L577.0,1086.3L579.3,1088.8L581.6,1091.2L583.9,1093.6L586.2,1095.8L588.5,1097.9L590.8,1100.0L593.1,1102.0L595.4,1104.1L597.7,1106.2L600.0,1108.3L602.3,1110.3L604.6,1112.1L606.9,1113.6L609.2,1115.0L611.5,1116.2L613.8,1117.4L616.1,1118.6L618.4,1119.8L620.7,1121.0L623.0,1122.2L625.3,1123.4L627.6,1124.5L629.9,1125.5L632.2,1126.5L634.5,1127.5L636.8,1128.4L639.1,1129.3L641.4,1130.1L643.7,1130.9L646.0,1131.6L648.3,1132.2L650.6,1132.8L652.9,1133.4L655.2,1134.1L657.5,1134.7L659.8,1135.3L662.1,1135.9L664.4,1136.5L666.7,1137.0L669.0,1137.4L671.3,1137.8L673.6,1138.2L675.9,1138.6L678.2,1139.1L680.5,1139.5L682.8,1139.9L685.1,1140.2L687.4,1140.5L689.7,1140.7L692.0,1140.9L694.3,1141.1L696.6,1141.3L698.9,1141.5L701.2,1141.8L703.5,1142.1L705.8,1142.3L708.1,1142.6L710.4,1142.8L712.7,1143.0L715.0,1143.3L717.3,1143.5L719.6,1143.7L721.9,1143.8L724.2,1144.0L726.5,1144.2L728.8,1144.3L731.1,1144.5L733.4,1144.6L735.7,1144.7L738.0,1144.9L740.3,1145.0L742.6,1145.1L744.9,1145.2L747.2,1145.3L749.5,1145.4L751.8,1145.5L754.1,1145.6L756.4,1145.7L758.7,1145.7L761.0,1145.8L763.3,1145.9L765.6,1145.9L767.9,1146.0L770.2,1146.1L772.5,1146.1L774.8,1146.1L777.1,1146.2L779.4,1146.2L781.7,1146.2L784.0,1146.3L786.3,1146.3L788.6,1146.3L790.9,1146.3L793.2,1146.4L795.5,1146.4L797.8,1146.4L800.1,1146.4L802.4,1146.4L804.7,1146.4L807.0,1146.5L809.3,1146.5L811.6,1146.5L813.9,1146.5L816.2,1146.5L818.5,1146.5L820.8,1146.5L823.1,1146.5L825.4,1146.5" stroke="#c9c5c4" stroke-width="4.2"/>
<path d="M135.4,932.6L137.7,930.3L140.0,927.9L142.3,925.3L144.6,922.6L146.9,919.6L149.2,916.6L151.5,913.3L153.8,909.8L156.1,906.0L158.4,902.0L160.7,897.7L163.0,893.0L165.3,888.1L167.6,882.8L169.9,876.8L172.2,869.9L174.5,862.0L176.8,853.6L179.1,845.0L181.4,836.8L183.7,828.8L186.0,821.0L188.3,813.2L190.6,805.4L192.9,797.5L195.2,789.7L197.5,782.1L199.8,774.6L202.1,767.5L204.4,760.7L206.7,754.3L209.0,748.4L211.3,743.2L213.6,738.6L215.9,734.9L218.2,732.2L220.5,730.5L222.8,730.0L225.1,730.5L227.4,732.0L229.7,734.4L232.0,737.6L234.3,741.8L236.6,746.7L238.9,752.1L241.2,758.2L243.5,765.0L245.8,772.4L248.1,780.6L250.4,789.4L252.7,798.6L255.0,808.0L257.3,817.3L259.6,826.6L261.9,835.6L264.2,844.2L266.5,852.4L268.8,860.2L271.1,867.6L273.4,874.6L275.7,881.5L278.0,888.4L280.3,895.4L282.6,902.0L284.9,907.7L287.2,912.2L289.5,915.3L291.8,917.0L294.1,917.8L296.4,918.0L298.7,918.1L301.0,918.0L303.3,917.8L305.6,917.5L307.9,917.0L310.2,916.3L312.5,915.6L314.8,914.7L317.1,913.7L319.4,912.4L321.7,911.0L324.0,909.4L326.3,907.8L328.6,906.2L330.9,904.6L333.2,903.0L335.5,901.5L337.8,900.0L340.1,898.4L342.4,896.9L344.7,895.4L347.0,893.9L349.3,892.6L351.6,891.4L353.9,890.4L356.2,889.8L358.5,889.3L360.8,889.2L363.1,889.4L365.4,889.8L367.7,890.4L370.0,891.3L372.3,892.5L374.6,894.1L376.9,896.1L379.2,898.3L381.5,900.8L383.8,903.3L386.1,906.0L388.4,908.9L390.7,912.0L393.0,915.4L395.3,918.7L397.6,921.9L399.9,924.9L402.2,927.7L404.5,930.1L406.8,932.4L409.1,934.6L411.4,936.6L413.7,938.5L416.0,940.2L418.3,941.9L420.6,943.6L422.9,945.2L425.2,946.8L427.5,948.2L429.8,949.5L432.1,950.6L434.4,951.6L436.7,952.5L439.0,953.2L441.3,953.9L443.6,954.6L445.9,955.3L448.2,956.1L450.5,956.9L452.8,957.7L455.1,958.5L457.4,959.2L459.7,959.9L462.0,960.6L464.3,961.4L466.6,962.3L468.9,963.4L471.2,964.6L473.5,965.9L475.8,967.2L478.1,968.5L480.4,969.8L482.7,971.2L485.0,972.8L487.3,974.4L489.6,976.2L491.9,978.2L494.2,980.7L496.5,983.3L498.8,985.7L501.1,987.9L503.4,990.1L505.7,992.3L508.0,994.6L510.3,996.9L512.6,999.4L514.9,1001.9L517.2,1004.6L519.5,1007.3L521.8,1010.1L524.1,1013.1L526.4,1016.3L528.7,1019.6L531.0,1023.0L533.3,1026.5L535.6,1030.0L537.9,1033.5L540.2,1037.0L542.5,1040.4L544.8,1043.7L547.1,1046.8L549.4,1049.9L551.7,1052.9L554.0,1055.8L556.3,1058.8L558.6,1061.8L560.9,1064.8L563.2,1067.8L565.5,1070.6L567.8,1073.3L570.1,1075.8L572.4,1078.4L574.7,1080.9L577.0,1083.5L579.3,1086.1L581.6,1088.7L583.9,1091.1L586.2,1093.5L588.5,1095.7L590.8,1097.9L593.1,1100.0L595.4,1102.1L597.7,1104.3L600.0,1106.5L602.3,1108.6L604.6,1110.5L606.9,1112.1L609.2,1113.5L611.5,1114.8L613.8,1116.0L616.1,1117.3L618.4,1118.5L620.7,1119.8L623.0,1121.1L625.3,1122.3L627.6,1123.5L629.9,1124.6L632.2,1125.6L634.5,1126.6L636.8,1127.6L639.1,1128.5L641.4,1129.3L643.7,1130.1L646.0,1130.9L648.3,1131.6L650.6,1132.2L652.9,1132.8L655.2,1133.5L657.5,1134.1L659.8,1134.8L662.1,1135.4L664.4,1136.0L666.7,1136.5L669.0,1137.0L671.3,1137.4L673.6,1137.8L675.9,1138.3L678.2,1138.7L680.5,1139.1L682.8,1139.6L685.1,1139.9L687.4,1140.2L689.7,1140.4L692.0,1140.6L694.3,1140.8L696.6,1141.1L698.9,1141.3L701.2,1141.6L703.5,1141.8L705.8,1142.1L708.1,1142.4L710.4,1142.6L712.7,1142.9L715.0,1143.1L717.3,1143.3L719.6,1143.5L721.9,1143.7L724.2,1143.9L726.5,1144.1L728.8,1144.2L731.1,1144.4L733.4,1144.5L735.7,1144.7L738.0,1144.8L740.3,1144.9L742.6,1145.0L744.9,1145.1L747.2,1145.2L749.5,1145.3L751.8,1145.4L754.1,1145.5L756.4,1145.6L758.7,1145.7L761.0,1145.8L763.3,1145.8L765.6,1145.9L767.9,1146.0L770.2,1146.0L772.5,1146.1L774.8,1146.1L777.1,1146.2L779.4,1146.2L781.7,1146.2L784.0,1146.2L786.3,1146.3L788.6,1146.3L790.9,1146.3L793.2,1146.3L795.5,1146.4L797.8,1146.4L800.1,1146.4L802.4,1146.4L804.7,1146.4L807.0,1146.4L809.3,1146.5L811.6,1146.5L813.9,1146.5L816.2,1146.5L818.5,1146.5L820.8,1146.5L823.1,1146.5L825.4,1146.5" stroke="#c9c5c4" stroke-width="4.2"/>
<path d="M135.4,934.0L137.7,931.7L140.0,929.3L142.3,926.8L144.6,924.1L146.9,921.3L149.2,918.3L151.5,915.2L153.8,911.9L156.1,908.3L158.4,904.5L160.7,900.4L163.0,896.0L165.3,891.2L167.6,886.1L169.9,880.2L172.2,873.4L174.5,865.6L176.8,857.2L179.1,848.7L181.4,840.5L183.7,832.5L186.0,824.7L188.3,816.8L190.6,809.0L192.9,801.0L195.2,793.0L197.5,785.1L199.8,777.4L202.1,769.9L204.4,762.7L206.7,756.0L209.0,749.8L211.3,744.2L213.6,739.2L215.9,735.1L218.2,732.1L220.5,730.1L222.8,729.1L225.1,729.3L227.4,730.4L229.7,732.4L232.0,735.3L234.3,739.2L236.6,743.8L238.9,749.0L241.2,754.9L243.5,761.5L245.8,768.9L248.1,777.1L250.4,785.9L252.7,795.2L255.0,804.7L257.3,814.2L259.6,823.6L261.9,832.8L264.2,841.7L266.5,850.1L268.8,858.1L271.1,865.8L273.4,873.0L275.7,880.1L278.0,887.2L280.3,894.5L282.6,901.3L284.9,907.3L287.2,911.9L289.5,915.2L291.8,917.0L294.1,917.9L296.4,918.3L298.7,918.4L301.0,918.4L303.3,918.3L305.6,917.9L307.9,917.4L310.2,916.8L312.5,916.0L314.8,915.1L317.1,914.0L319.4,912.7L321.7,911.2L324.0,909.6L326.3,907.9L328.6,906.2L330.9,904.5L333.2,902.9L335.5,901.3L337.8,899.7L340.1,898.0L342.4,896.2L344.7,894.5L347.0,892.9L349.3,891.3L351.6,890.0L353.9,888.8L356.2,888.0L358.5,887.4L360.8,887.1L363.1,887.2L365.4,887.5L367.7,888.0L370.0,888.8L372.3,889.9L374.6,891.4L376.9,893.4L379.2,895.5L381.5,897.9L383.8,900.4L386.1,903.1L388.4,906.0L390.7,909.1L393.0,912.5L395.3,915.8L397.6,919.0L399.9,922.0L402.2,924.7L404.5,927.2L406.8,929.5L409.1,931.6L411.4,933.6L413.7,935.4L416.0,937.1L418.3,938.7L420.6,940.3L422.9,941.9L425.2,943.4L427.5,944.8L429.8,946.1L432.1,947.1L434.4,948.1L436.7,948.8L439.0,949.5L441.3,950.1L443.6,950.7L445.9,951.4L448.2,952.1L450.5,952.8L452.8,953.6L455.1,954.3L457.4,955.0L459.7,955.6L462.0,956.2L464.3,956.9L466.6,957.8L468.9,958.8L471.2,960.1L473.5,961.4L475.8,962.6L478.1,963.9L480.4,965.2L482.7,966.6L485.0,968.1L487.3,969.7L489.6,971.5L491.9,973.6L494.2,976.1L496.5,978.7L498.8,981.1L501.1,983.4L503.4,985.6L505.7,987.8L508.0,990.1L510.3,992.6L512.6,995.1L514.9,997.7L517.2,1000.3L519.5,1003.1L521.8,1006.1L524.1,1009.1L526.4,1012.4L528.7,1015.8L531.0,1019.3L533.3,1022.9L535.6,1026.5L537.9,1030.1L540.2,1033.6L542.5,1037.1L544.8,1040.5L547.1,1043.8L549.4,1046.9L551.7,1050.0L554.0,1053.0L556.3,1056.1L558.6,1059.2L560.9,1062.3L563.2,1065.3L565.5,1068.2L567.8,1071.0L570.1,1073.7L572.4,1076.3L574.7,1078.9L577.0,1081.6L579.3,1084.2L581.6,1086.9L583.9,1089.4L586.2,1091.8L588.5,1094.1L590.8,1096.3L593.1,1098.5L595.4,1100.7L597.7,1103.0L600.0,1105.3L602.3,1107.4L604.6,1109.4L606.9,1111.0L609.2,1112.5L611.5,1113.8L613.8,1115.1L616.1,1116.4L618.4,1117.7L620.7,1119.0L623.0,1120.3L625.3,1121.6L627.6,1122.7L629.9,1123.9L632.2,1125.0L634.5,1126.0L636.8,1127.0L639.1,1127.9L641.4,1128.8L643.7,1129.6L646.0,1130.4L648.3,1131.1L650.6,1131.8L652.9,1132.4L655.2,1133.1L657.5,1133.7L659.8,1134.4L662.1,1135.1L664.4,1135.7L666.7,1136.2L669.0,1136.7L671.3,1137.1L673.6,1137.6L675.9,1138.0L678.2,1138.5L680.5,1138.9L682.8,1139.3L685.1,1139.7L687.4,1140.0L689.7,1140.2L692.0,1140.4L694.3,1140.7L696.6,1140.9L698.9,1141.1L701.2,1141.4L703.5,1141.7L705.8,1142.0L708.1,1142.2L710.4,1142.5L712.7,1142.8L715.0,1143.0L717.3,1143.2L719.6,1143.4L721.9,1143.6L724.2,1143.8L726.5,1144.0L728.8,1144.1L731.1,1144.3L733.4,1144.5L735.7,1144.6L738.0,1144.7L740.3,1144.9L742.6,1145.0L744.9,1145.1L747.2,1145.2L749.5,1145.3L751.8,1145.4L754.1,1145.5L756.4,1145.6L758.7,1145.7L761.0,1145.7L763.3,1145.8L765.6,1145.9L767.9,1146.0L770.2,1146.0L772.5,1146.1L774.8,1146.1L777.1,1146.1L779.4,1146.2L781.7,1146.2L784.0,1146.2L786.3,1146.3L788.6,1146.3L790.9,1146.3L793.2,1146.3L795.5,1146.3L797.8,1146.4L800.1,1146.4L802.4,1146.4L804.7,1146.4L807.0,1146.4L809.3,1146.5L811.6,1146.5L813.9,1146.5L816.2,1146.5L818.5,1146.5L820.8,1146.5L823.1,1146.5L825.4,1146.5" stroke="#c9c5c4" stroke-width="4.2"/>
<path d="M135.4,934.3L137.7,932.0L140.0,929.6L142.3,927.1L144.6,924.4L146.9,921.6L149.2,918.7L151.5,915.6L153.8,912.3L156.1,908.8L158.4,905.1L160.7,901.0L163.0,896.6L165.3,891.9L167.6,886.7L169.9,880.9L172.2,874.1L174.5,866.3L176.8,857.9L179.1,849.4L181.4,841.2L183.7,833.2L186.0,825.4L188.3,817.6L190.6,809.7L192.9,801.7L195.2,793.6L197.5,785.7L199.8,777.9L202.1,770.4L204.4,763.2L206.7,756.3L209.0,750.0L211.3,744.4L213.6,739.3L215.9,735.2L218.2,732.0L220.5,730.0L222.8,729.0L225.1,729.0L227.4,730.1L229.7,732.1L232.0,734.9L234.3,738.6L236.6,743.2L238.9,748.4L241.2,754.3L243.5,760.8L245.8,768.2L248.1,776.3L250.4,785.2L252.7,794.5L255.0,804.0L257.3,813.6L259.6,823.1L261.9,832.3L264.2,841.2L266.5,849.6L268.8,857.7L271.1,865.4L273.4,872.7L275.7,879.8L278.0,887.0L280.3,894.3L282.6,901.2L284.9,907.2L287.2,911.8L289.5,915.1L291.8,917.0L294.1,917.9L296.4,918.3L298.7,918.5L301.0,918.5L303.3,918.3L305.6,918.0L307.9,917.5L310.2,916.9L312.5,916.1L314.8,915.2L317.1,914.1L319.4,912.8L321.7,911.3L324.0,909.6L326.3,908.0L328.6,906.2L330.9,904.5L333.2,902.9L335.5,901.3L337.8,899.6L340.1,897.9L342.4,896.1L344.7,894.4L347.0,892.7L349.3,891.1L351.6,889.7L353.9,888.5L356.2,887.6L358.5,887.0L360.8,886.7L363.1,886.7L365.4,887.0L367.7,887.5L370.0,888.3L372.3,889.4L374.6,890.9L376.9,892.8L379.2,895.0L381.5,897.3L383.8,899.9L386.1,902.5L388.4,905.4L390.7,908.6L393.0,911.9L395.3,915.2L397.6,918.4L399.9,921.4L402.2,924.2L404.5,926.6L406.8,928.9L409.1,931.0L411.4,932.9L413.7,934.8L416.0,936.5L418.3,938.1L420.6,939.7L422.9,941.3L425.2,942.8L427.5,944.2L429.8,945.4L432.1,946.4L434.4,947.3L436.7,948.1L439.0,948.8L441.3,949.4L443.6,950.0L445.9,950.6L448.2,951.3L450.5,952.0L452.8,952.8L455.1,953.5L457.4,954.1L459.7,954.7L462.0,955.3L464.3,956.0L466.6,956.9L468.9,957.9L471.2,959.2L473.5,960.5L475.8,961.7L478.1,963.0L480.4,964.3L482.7,965.7L485.0,967.2L487.3,968.8L489.6,970.6L491.9,972.6L494.2,975.1L496.5,977.8L498.8,980.2L501.1,982.5L503.4,984.7L505.7,986.9L508.0,989.3L510.3,991.7L512.6,994.2L514.9,996.8L517.2,999.5L519.5,1002.3L521.8,1005.2L524.1,1008.3L526.4,1011.6L528.7,1015.0L531.0,1018.5L533.3,1022.2L535.6,1025.8L537.9,1029.4L540.2,1033.0L542.5,1036.5L544.8,1039.9L547.1,1043.2L549.4,1046.3L551.7,1049.4L554.0,1052.5L556.3,1055.6L558.6,1058.7L560.9,1061.8L563.2,1064.8L565.5,1067.8L567.8,1070.6L570.1,1073.2L572.4,1075.9L574.7,1078.5L577.0,1081.2L579.3,1083.9L581.6,1086.5L583.9,1089.1L586.2,1091.5L588.5,1093.8L590.8,1096.0L593.1,1098.2L595.4,1100.5L597.7,1102.7L600.0,1105.0L602.3,1107.2L604.6,1109.1L606.9,1110.8L609.2,1112.3L611.5,1113.6L613.8,1114.9L616.1,1116.2L618.4,1117.5L620.7,1118.8L623.0,1120.1L625.3,1121.4L627.6,1122.6L629.9,1123.7L632.2,1124.8L634.5,1125.9L636.8,1126.9L639.1,1127.8L641.4,1128.7L643.7,1129.5L646.0,1130.3L648.3,1131.0L650.6,1131.7L652.9,1132.3L655.2,1133.0L657.5,1133.7L659.8,1134.3L662.1,1135.0L664.4,1135.6L666.7,1136.1L669.0,1136.6L671.3,1137.1L673.6,1137.5L675.9,1137.9L678.2,1138.4L680.5,1138.9L682.8,1139.3L685.1,1139.7L687.4,1139.9L689.7,1140.2L692.0,1140.4L694.3,1140.6L696.6,1140.9L698.9,1141.1L701.2,1141.4L703.5,1141.7L705.8,1141.9L708.1,1142.2L710.4,1142.5L712.7,1142.7L715.0,1143.0L717.3,1143.2L719.6,1143.4L721.9,1143.6L724.2,1143.8L726.5,1144.0L728.8,1144.1L731.1,1144.3L733.4,1144.4L735.7,1144.6L738.0,1144.7L740.3,1144.8L742.6,1145.0L744.9,1145.1L747.2,1145.2L749.5,1145.3L751.8,1145.4L754.1,1145.5L756.4,1145.6L758.7,1145.6L761.0,1145.7L763.3,1145.8L765.6,1145.9L767.9,1145.9L770.2,1146.0L772.5,1146.1L774.8,1146.1L777.1,1146.1L779.4,1146.2L781.7,1146.2L784.0,1146.2L786.3,1146.2L788.6,1146.3L790.9,1146.3L793.2,1146.3L795.5,1146.3L797.8,1146.4L800.1,1146.4L802.4,1146.4L804.7,1146.4L807.0,1146.4L809.3,1146.5L811.6,1146.5L813.9,1146.5L816.2,1146.5L818.5,1146.5L820.8,1146.5L823.1,1146.5L825.4,1146.5" stroke="#c9c5c4" stroke-width="4.2"/>
<path d="M135.4,887.5L137.7,884.7L140.0,881.3L142.3,877.0L144.6,871.9L146.9,865.9L149.2,858.8L151.5,850.4L153.8,840.8L156.1,830.2L158.4,818.9L160.7,807.5L163.0,796.4L165.3,785.9L167.6,775.7L169.9,765.8L172.2,755.9L174.5,746.0L176.8,736.0L179.1,726.2L181.4,716.8L183.7,708.1L186.0,700.2L188.3,693.6L190.6,688.7L192.9,685.5L195.2,684.0L197.5,684.1L199.8,685.9L202.1,688.9L204.4,693.2L206.7,698.7L209.0,704.9L211.3,711.6L213.6,718.7L215.9,726.5L218.2,731.9L220.5,729.3L222.8,727.8L225.1,727.4L227.4,728.0L229.7,729.4L232.0,731.8L234.3,735.1L236.6,739.3L238.9,744.2L241.2,749.8L243.5,756.2L245.8,763.5L248.1,771.6L250.4,780.5L252.7,789.9L255.0,799.6L257.3,809.3L259.6,819.1L261.9,828.6L264.2,837.8L266.5,846.5L268.8,854.9L271.1,862.9L273.4,870.5L275.7,877.9L278.0,885.4L280.3,893.0L282.6,900.3L284.9,906.5L287.2,911.5L289.5,915.0L291.8,916.9L294.1,912.1L296.4,908.8L298.7,905.6L301.0,902.9L303.3,901.0L305.6,899.6L307.9,898.7L310.2,898.2L312.5,898.1L314.8,898.2L317.1,898.6L319.4,899.0L321.7,899.6L324.0,900.2L326.3,900.8L328.6,901.8L330.9,902.0L333.2,900.8L335.5,899.5L337.8,898.0L340.1,896.4L342.4,894.7L344.7,892.8L347.0,891.0L349.3,889.2L351.6,887.6L353.9,886.2L356.2,885.2L358.5,884.4L360.8,883.9L363.1,883.8L365.4,883.9L367.7,884.2L370.0,884.9L372.3,885.9L374.6,887.3L376.9,889.1L379.2,891.2L381.5,893.5L383.8,896.0L386.1,898.6L388.4,901.5L390.7,904.7L393.0,908.0L395.3,911.3L397.6,914.6L399.9,917.5L402.2,920.2L404.5,922.7L406.8,924.9L409.1,927.0L411.4,928.9L413.7,930.6L416.0,932.3L418.3,933.8L420.6,935.4L422.9,936.9L425.2,938.3L427.5,939.6L429.8,940.8L432.1,941.7L434.4,942.6L436.7,943.2L439.0,943.8L441.3,944.3L443.6,944.8L445.9,945.3L448.2,945.9L450.5,946.5L452.8,947.2L455.1,947.8L457.4,948.3L459.7,948.9L462.0,949.4L464.3,950.1L466.6,950.9L468.9,951.9L471.2,953.0L473.5,954.3L475.8,955.6L478.1,956.8L480.4,958.1L482.7,959.4L485.0,960.9L487.3,962.5L489.6,964.3L491.9,966.4L494.2,968.9L496.5,971.6L498.8,974.1L501.1,976.4L503.4,978.6L505.7,980.9L508.0,983.3L510.3,985.8L512.6,988.4L514.9,991.0L517.2,993.8L519.5,996.7L521.8,999.7L524.1,1002.9L526.4,1006.3L528.7,1009.8L531.0,1013.5L533.3,1017.3L535.6,1021.0L537.9,1024.7L540.2,1028.5L542.5,1032.1L544.8,1035.6L547.1,1039.0L549.4,1042.3L551.7,1045.5L554.0,1048.7L556.3,1051.9L558.6,1055.2L560.9,1058.4L563.2,1061.6L565.5,1064.6L567.8,1067.5L570.1,1070.3L572.4,1073.1L574.7,1075.8L577.0,1078.6L579.3,1081.4L581.6,1084.1L583.9,1086.8L586.2,1089.3L588.5,1091.7L590.8,1094.0L593.1,1096.3L595.4,1098.6L597.7,1101.0L600.0,1103.4L602.3,1105.6L604.6,1107.7L606.9,1109.4L609.2,1110.9L611.5,1112.3L613.8,1113.6L616.1,1115.0L618.4,1116.3L620.7,1117.7L623.0,1119.1L625.3,1120.4L627.6,1121.6L629.9,1122.8L632.2,1124.0L634.5,1125.0L636.8,1126.1L639.1,1127.0L641.4,1128.0L643.7,1128.8L646.0,1129.6L648.3,1130.4L650.6,1131.1L652.9,1131.8L655.2,1132.4L657.5,1133.1L659.8,1133.8L662.1,1134.5L664.4,1135.2L666.7,1135.7L669.0,1136.2L671.3,1136.7L673.6,1137.1L675.9,1137.6L678.2,1138.1L680.5,1138.6L682.8,1139.0L685.1,1139.4L687.4,1139.7L689.7,1139.9L692.0,1140.2L694.3,1140.4L696.6,1140.6L698.9,1140.9L701.2,1141.2L703.5,1141.5L705.8,1141.8L708.1,1142.0L710.4,1142.3L712.7,1142.6L715.0,1142.8L717.3,1143.1L719.6,1143.3L721.9,1143.5L724.2,1143.7L726.5,1143.8L728.8,1144.0L731.1,1144.2L733.4,1144.3L735.7,1144.5L738.0,1144.6L740.3,1144.8L742.6,1144.9L744.9,1145.0L747.2,1145.1L749.5,1145.2L751.8,1145.3L754.1,1145.4L756.4,1145.5L758.7,1145.6L761.0,1145.7L763.3,1145.8L765.6,1145.8L767.9,1145.9L770.2,1146.0L772.5,1146.0L774.8,1146.1L777.1,1146.1L779.4,1146.1L781.7,1146.2L784.0,1146.2L786.3,1146.2L788.6,1146.3L790.9,1146.3L793.2,1146.3L795.5,1146.3L797.8,1146.4L800.1,1146.4L802.4,1146.4L804.7,1146.4L807.0,1146.4L809.3,1146.4L811.6,1146.5L813.9,1146.5L816.2,1146.5L818.5,1146.5L820.8,1146.5L823.1,1146.5L825.4,1146.5" stroke="#c9c5c4" stroke-width="4.2"/>
<path d="M135.4,936.1L137.7,933.9L140.0,931.5L142.3,929.1L144.6,926.5L146.9,923.8L149.2,921.1L151.5,918.2L153.8,915.2L156.1,911.9L158.4,908.5L160.7,904.7L163.0,900.6L165.3,896.1L167.6,891.1L169.9,885.5L172.2,878.8L174.5,871.1L176.8,862.7L179.1,854.3L181.4,846.1L183.7,838.2L186.0,830.4L188.3,822.5L190.6,814.5L192.9,806.3L195.2,798.0L197.5,789.7L199.8,781.6L202.1,773.6L204.4,765.9L206.7,758.6L209.0,751.8L211.3,745.7L213.6,740.2L215.9,735.5L218.2,735.4L220.5,745.7L222.8,757.3L225.1,769.9L227.4,783.4L229.7,797.7L232.0,812.6L234.3,827.4L236.6,841.2L238.9,853.8L241.2,865.5L243.5,876.6L245.8,887.0L248.1,896.2L250.4,904.0L252.7,910.3L255.0,915.5L257.3,919.7L259.6,922.8L261.9,925.0L264.2,926.5L266.5,927.6L268.8,928.1L271.1,928.2L273.4,927.9L275.7,927.4L278.0,926.7L280.3,925.9L282.6,924.9L284.9,923.5L287.2,921.7L289.5,919.5L291.8,917.0L294.1,920.4L296.4,921.4L298.7,922.3L301.0,922.8L303.3,922.8L305.6,922.5L307.9,922.0L310.2,921.4L312.5,920.6L314.8,919.6L317.1,918.5L319.4,917.1L321.7,915.5L324.0,913.8L326.3,912.0L328.6,909.7L330.9,908.3L333.2,908.8L335.5,909.7L337.8,911.5L340.1,914.2L342.4,917.9L344.7,922.6L347.0,927.9L349.3,933.4L351.6,938.7L353.9,943.4L356.2,947.8L358.5,952.1L360.8,956.5L363.1,961.0L365.4,965.4L367.7,969.6L370.0,973.8L372.3,977.9L374.6,981.9L376.9,985.9L379.2,989.8L381.5,993.5L383.8,997.0L386.1,1000.3L388.4,1003.4L390.7,1006.6L393.0,1009.8L395.3,1013.0L397.6,1016.2L399.9,1019.4L402.2,1022.6L404.5,1025.8L406.8,1029.1L409.1,1032.3L411.4,1035.5L413.7,1038.7L416.0,1041.9L418.3,1045.2L420.6,1048.4L422.9,1051.6L425.2,1054.8L427.5,1058.0L429.8,1061.3L432.1,1064.5L434.4,1067.7L436.7,1070.9L439.0,1074.2L441.3,1077.4L443.6,1080.7L445.9,1083.9L448.2,1087.1L450.5,1090.2L452.8,1093.1L455.1,1096.0L457.4,1098.7L459.7,1101.3L462.0,1103.9L464.3,1106.3L466.6,1108.7L468.9,1110.8L471.2,1112.7L473.5,1114.5L475.8,1116.2L478.1,1118.2L480.4,1120.2L482.7,1122.3L485.0,1124.4L487.3,1126.4L489.6,1128.3L491.9,1130.1L494.2,1131.8L496.5,1133.2L498.8,1134.5L501.1,1135.6L503.4,1136.7L505.7,1137.7L508.0,1138.7L510.3,1139.7L512.6,1140.6L514.9,1141.4L517.2,1142.1L519.5,1142.7L521.8,1143.3L524.1,1143.8L526.4,1144.3L528.7,1144.7L531.0,1145.0L533.3,1145.3L535.6,1145.5L537.9,1145.7L540.2,1146.0L542.5,1146.2L544.8,1146.3L547.1,1146.5L549.4,1146.6L551.7,1146.7L554.0,1146.7L556.3,1146.7L558.6,1146.7L560.9,1146.7L563.2,1146.7L565.5,1146.7L567.8,1146.7L570.1,1146.7L572.4,1146.7L574.7,1146.7L577.0,1146.7L579.3,1146.7L581.6,1146.7L583.9,1146.7L586.2,1146.7L588.5,1146.7L590.8,1146.7L593.1,1146.7L595.4,1146.7L597.7,1146.7L600.0,1146.7L602.3,1146.7L604.6,1146.7L606.9,1146.7L609.2,1146.7L611.5,1146.7L613.8,1146.7L616.1,1146.7L618.4,1146.7L620.7,1146.7L623.0,1146.7L625.3,1146.7L627.6,1146.7L629.9,1146.7L632.2,1146.7L634.5,1146.7L636.8,1146.7L639.1,1146.7L641.4,1146.7L643.7,1146.7L646.0,1146.7L648.3,1146.7L650.6,1146.7L652.9,1146.7L655.2,1146.7L657.5,1146.7L659.8,1146.7L662.1,1146.7L664.4,1146.7L666.7,1146.7L669.0,1146.7L671.3,1146.7L673.6,1146.7L675.9,1146.7L678.2,1146.7L680.5,1146.7L682.8,1146.7L685.1,1146.7L687.4,1146.7L689.7,1146.7L692.0,1146.7L694.3,1146.7L696.6,1146.7L698.9,1146.7L701.2,1146.7L703.5,1146.7L705.8,1146.7L708.1,1146.7L710.4,1146.7L712.7,1146.7L715.0,1146.7L717.3,1146.7L719.6,1146.7L721.9,1146.7L724.2,1146.7L726.5,1146.7L728.8,1146.7L731.1,1146.7L733.4,1146.7L735.7,1146.7L738.0,1146.7L740.3,1146.7L742.6,1146.7L744.9,1146.7L747.2,1146.7L749.5,1146.7L751.8,1146.7L754.1,1146.7L756.4,1146.7L758.7,1146.7L761.0,1146.7L763.3,1146.7L765.6,1146.7L767.9,1146.7L770.2,1146.7L772.5,1146.7L774.8,1146.7L777.1,1146.7L779.4,1146.7L781.7,1146.7L784.0,1146.7L786.3,1146.7L788.6,1146.7L790.9,1146.7L793.2,1146.7L795.5,1146.7L797.8,1146.7L800.1,1146.7L802.4,1146.7L804.7,1146.7L807.0,1146.7L809.3,1146.7L811.6,1146.7L813.9,1146.7L816.2,1146.7L818.5,1146.7L820.8,1146.7L823.1,1146.7L825.4,1146.7" stroke="#c9c5c4" stroke-width="4.2"/>
<path d="M455.1,947.8L457.4,948.3L459.7,948.9L462.0,949.4L464.3,950.1L466.6,950.9L468.9,951.9L471.2,953.0L473.5,954.3L475.8,955.6L478.1,956.8L480.4,958.1L482.7,959.4L485.0,960.9L487.3,962.5L489.6,964.3L491.9,966.4L494.2,968.9L496.5,971.6L498.8,974.1L501.1,976.4L503.4,978.6L505.7,980.9L508.0,983.3L510.3,985.8L512.6,988.4L514.9,991.0L517.2,993.8L519.5,996.7L521.8,999.7L524.1,1002.9L524.1,992.9L521.8,993.1L519.5,993.4L517.2,993.6L514.9,993.7L512.6,993.5L510.3,993.1L508.0,992.7L505.7,992.1L503.4,991.5L501.1,990.7L498.8,989.9L496.5,988.9L494.2,987.7L491.9,986.4L489.6,985.0L487.3,983.5L485.0,982.1L482.7,980.5L480.4,978.7L478.1,976.8L475.8,974.6L473.5,972.1L471.2,969.4L468.9,966.5L466.6,963.5L464.3,960.4L462.0,957.4L459.7,954.5L457.4,951.5L455.1,948.4Z" fill="#8dc8ea" stroke="none"/>
<path d="M135.4,937.0L137.7,934.7L140.0,932.4L142.3,930.0L144.6,927.5L146.9,924.8L149.2,922.1L151.5,919.2L153.8,916.2L156.1,913.0L158.4,909.6L160.7,905.8L163.0,901.7L165.3,897.2L167.6,892.3L169.9,886.7L172.2,880.1L174.5,872.4L176.8,864.1L179.1,855.7L181.4,847.6L183.7,839.6L186.0,831.8L188.3,824.0L190.6,815.9L192.9,807.7L195.2,799.4L197.5,791.1L199.8,782.8L202.1,774.8L204.4,767.0L206.7,759.6L209.0,752.8L211.3,746.6L213.6,741.0L215.9,736.2L218.2,732.4L220.5,729.7L222.8,728.0L225.1,727.4L227.4,727.7L229.7,729.0L232.0,731.1L234.3,734.2L236.6,738.2L238.9,742.9L241.2,748.3L243.5,754.6L245.8,761.6L248.1,769.6L250.4,778.3L252.7,787.6L255.0,797.1L257.3,806.8L259.6,816.5L261.9,826.0L264.2,835.1L266.5,843.9L268.8,852.3L271.1,860.3L273.4,867.9L275.7,875.4L278.0,883.0L280.3,890.7L282.6,898.1L284.9,904.4L287.2,909.5L289.5,913.1L291.8,915.4L294.1,916.6L296.4,917.2L298.7,917.6L301.0,917.9L303.3,917.9L305.6,917.8L307.9,917.4L310.2,916.8L312.5,916.1L314.8,915.2L317.1,914.1L319.4,912.7L321.7,911.2L324.0,909.5L326.3,907.7L328.6,906.0L330.9,904.2L333.2,902.5L335.5,900.7L337.8,898.9L340.1,897.0L342.4,895.0L344.7,893.0L347.0,891.1L349.3,889.2L351.6,887.5L353.9,886.1L356.2,885.0L358.5,884.2L360.8,883.6L363.1,883.4L365.4,883.5L367.7,883.8L370.0,884.4L372.3,885.4L374.6,886.7L376.9,888.5L379.2,890.5L381.5,892.8L383.8,895.2L386.1,897.8L388.4,900.6L390.7,903.7L393.0,907.0L395.3,910.3L397.6,913.5L399.9,916.4L402.2,919.1L404.5,921.5L406.8,923.8L409.1,925.8L411.4,927.8L413.7,929.6L416.0,931.2L418.3,932.8L420.6,934.4L422.9,936.0L425.2,937.5L427.5,938.9L429.8,940.1L432.1,941.1L434.4,942.0L436.7,942.7L439.0,943.3L441.3,943.9L443.6,944.5L445.9,945.1L448.2,945.7L450.5,946.4L452.8,947.1L455.1,947.8L457.4,948.4L459.7,949.0L462.0,949.6L464.3,950.3L466.6,951.1L468.9,952.1L471.2,953.4L473.5,954.7L475.8,956.0L478.1,957.2L480.4,958.5L482.7,959.9L485.0,961.4L487.3,962.9L489.6,964.7L491.9,966.8L494.2,969.3L496.5,971.9L498.8,974.4L501.1,976.7L503.4,978.9L505.7,981.1L508.0,983.5L510.3,985.9L512.6,988.5L514.9,991.1L517.2,993.8L519.5,996.7L521.8,999.6L524.1,1002.7L526.4,1006.0L528.7,1009.5L531.0,1013.1L533.3,1016.8L535.6,1020.5L537.9,1024.1L540.2,1027.8L542.5,1031.4L544.8,1034.8L547.1,1038.2L549.4,1041.4L551.7,1044.6L554.0,1047.7L556.3,1050.9L558.6,1054.1L560.9,1057.3L563.2,1060.4L565.5,1063.4L567.8,1066.2L570.1,1069.0L572.4,1071.7L574.7,1074.4L577.0,1077.1L579.3,1079.9L581.6,1082.6L583.9,1085.3L586.2,1087.8L588.5,1090.2L590.8,1092.5L593.1,1094.7L595.4,1097.1L597.7,1099.4L600.0,1101.8L602.3,1104.0L604.6,1106.0L606.9,1107.8L609.2,1109.3L611.5,1110.7L613.8,1112.0L616.1,1113.4L618.4,1114.8L620.7,1116.2L623.0,1117.5L625.3,1118.9L627.6,1120.1L629.9,1121.3L632.2,1122.5L634.5,1123.6L636.8,1124.6L639.1,1125.6L641.4,1126.6L643.7,1127.4L646.0,1128.3L648.3,1129.0L650.6,1129.7L652.9,1130.4L655.2,1131.2L657.5,1131.9L659.8,1132.6L662.1,1133.3L664.4,1134.0L666.7,1134.6L669.0,1135.1L671.3,1135.6L673.6,1136.1L675.9,1136.5L678.2,1137.0L680.5,1137.6L682.8,1138.0L685.1,1138.4L687.4,1138.8L689.7,1139.0L692.0,1139.3L694.3,1139.5L696.6,1139.8L698.9,1140.1L701.2,1140.3L703.5,1140.6L705.8,1141.0L708.1,1141.3L710.4,1141.6L712.7,1141.9L715.0,1142.1L717.3,1142.4L719.6,1142.6L721.9,1142.8L724.2,1143.0L726.5,1143.2L728.8,1143.4L731.1,1143.6L733.4,1143.8L735.7,1144.0L738.0,1144.1L740.3,1144.3L742.6,1144.4L744.9,1144.6L747.2,1144.7L749.5,1144.8L751.8,1144.9L754.1,1145.0L756.4,1145.2L758.7,1145.3L761.0,1145.4L763.3,1145.5L765.6,1145.5L767.9,1145.6L770.2,1145.7L772.5,1145.8L774.8,1145.8L777.1,1145.9L779.4,1145.9L781.7,1146.0L784.0,1146.0L786.3,1146.1L788.6,1146.1L790.9,1146.1L793.2,1146.1L795.5,1146.2L797.8,1146.2L800.1,1146.2L802.4,1146.3L804.7,1146.3L807.0,1146.3L809.3,1146.3L811.6,1146.4L813.9,1146.4L816.2,1146.4L818.5,1146.4L820.8,1146.4L823.1,1146.4L825.4,1146.4" stroke="#8dc8ea" stroke-width="3.5"/>
<path d="M135.4,937.8L137.7,935.6L140.0,933.3L142.3,931.0L144.6,928.5L146.9,925.9L149.2,923.1L151.5,920.3L153.8,917.3L156.1,914.1L158.4,910.7L160.7,907.0L163.0,902.9L165.3,898.4L167.6,893.5L169.9,887.9L172.2,881.3L174.5,873.7L176.8,865.4L179.1,857.1L181.4,849.0L183.7,841.1L186.0,833.3L188.3,825.4L190.6,817.4L192.9,809.2L195.2,800.8L197.5,792.4L199.8,784.1L202.1,776.0L204.4,768.1L206.7,760.7L209.0,753.8L211.3,747.5L213.6,741.8L215.9,736.9L218.2,732.9L220.5,730.0L222.8,728.2L225.1,727.3L227.4,727.5L229.7,728.5L232.0,730.4L234.3,733.3L236.6,737.1L238.9,741.6L241.2,746.8L243.5,752.9L245.8,759.8L248.1,767.6L250.4,776.2L252.7,785.3L255.0,794.7L257.3,804.3L259.6,813.9L261.9,823.3L264.2,832.4L266.5,841.2L268.8,849.6L271.1,857.7L273.4,865.4L275.7,873.0L278.0,880.7L280.3,888.5L282.6,895.9L284.9,902.4L287.2,907.6L289.5,911.3L291.8,913.7L294.1,915.1L296.4,915.9L298.7,916.4L301.0,916.8L303.3,917.0L305.6,916.9L307.9,916.6L310.2,916.1L312.5,915.4L314.8,914.6L317.1,913.6L319.4,912.2L321.7,910.7L324.0,909.1L326.3,907.4L328.6,905.6L330.9,903.9L333.2,902.2L335.5,900.5L337.8,898.7L340.1,896.8L342.4,894.8L344.7,892.8L347.0,890.9L349.3,889.0L351.6,887.3L353.9,885.8L356.2,884.7L358.5,883.9L360.8,883.3L363.1,883.1L365.4,883.1L367.7,883.4L370.0,884.0L372.3,884.9L374.6,886.2L376.9,887.9L379.2,889.9L381.5,892.1L383.8,894.4L386.1,897.0L388.4,899.7L390.7,902.8L393.0,906.0L395.3,909.2L397.6,912.4L399.9,915.3L402.2,918.0L404.5,920.4L406.8,922.6L409.1,924.7L411.4,926.7L413.7,928.5L416.0,930.2L418.3,931.8L420.6,933.5L422.9,935.1L425.2,936.6L427.5,938.1L429.8,939.4L432.1,940.5L434.4,941.4L436.7,942.2L439.0,942.9L441.3,943.6L443.6,944.2L445.9,944.8L448.2,945.6L450.5,946.3L452.8,947.1L455.1,947.8L457.4,948.5L459.7,949.1L462.0,949.7L464.3,950.5L466.6,951.4L468.9,952.4L471.2,953.7L473.5,955.0L475.8,956.3L478.1,957.6L480.4,958.9L482.7,960.3L485.0,961.8L487.3,963.4L489.6,965.1L491.9,967.2L494.2,969.7L496.5,972.3L498.8,974.7L501.1,976.9L503.4,979.1L505.7,981.4L508.0,983.7L510.3,986.1L512.6,988.6L514.9,991.2L517.2,993.8L519.5,996.6L521.8,999.5L524.1,1002.5L526.4,1005.7L528.7,1009.2L531.0,1012.7L533.3,1016.3L535.6,1019.9L537.9,1023.5L540.2,1027.1L542.5,1030.6L544.8,1034.0L547.1,1037.3L549.4,1040.5L551.7,1043.6L554.0,1046.7L556.3,1049.8L558.6,1053.0L560.9,1056.1L563.2,1059.2L565.5,1062.1L567.8,1064.9L570.1,1067.7L572.4,1070.3L574.7,1073.0L577.0,1075.7L579.3,1078.5L581.6,1081.2L583.9,1083.8L586.2,1086.3L588.5,1088.6L590.8,1090.9L593.1,1093.2L595.4,1095.5L597.7,1097.8L600.0,1100.2L602.3,1102.4L604.6,1104.4L606.9,1106.2L609.2,1107.7L611.5,1109.1L613.8,1110.4L616.1,1111.8L618.4,1113.2L620.7,1114.6L623.0,1116.0L625.3,1117.3L627.6,1118.6L629.9,1119.8L632.2,1121.0L634.5,1122.1L636.8,1123.2L639.1,1124.2L641.4,1125.1L643.7,1126.0L646.0,1126.9L648.3,1127.7L650.6,1128.4L652.9,1129.1L655.2,1129.9L657.5,1130.6L659.8,1131.4L662.1,1132.1L664.4,1132.8L666.7,1133.4L669.0,1133.9L671.3,1134.5L673.6,1135.0L675.9,1135.5L678.2,1136.0L680.5,1136.6L682.8,1137.0L685.1,1137.5L687.4,1137.9L689.7,1138.2L692.0,1138.4L694.3,1138.7L696.6,1138.9L698.9,1139.2L701.2,1139.5L703.5,1139.8L705.8,1140.2L708.1,1140.5L710.4,1140.8L712.7,1141.1L715.0,1141.4L717.3,1141.7L719.6,1141.9L721.9,1142.2L724.2,1142.4L726.5,1142.7L728.8,1142.9L731.1,1143.1L733.4,1143.3L735.7,1143.5L738.0,1143.6L740.3,1143.8L742.6,1144.0L744.9,1144.1L747.2,1144.3L749.5,1144.4L751.8,1144.5L754.1,1144.7L756.4,1144.8L758.7,1144.9L761.0,1145.0L763.3,1145.1L765.6,1145.2L767.9,1145.4L770.2,1145.4L772.5,1145.5L774.8,1145.6L777.1,1145.7L779.4,1145.7L781.7,1145.8L784.0,1145.8L786.3,1145.9L788.6,1145.9L790.9,1145.9L793.2,1146.0L795.5,1146.0L797.8,1146.0L800.1,1146.1L802.4,1146.1L804.7,1146.2L807.0,1146.2L809.3,1146.2L811.6,1146.3L813.9,1146.3L816.2,1146.3L818.5,1146.3L820.8,1146.3L823.1,1146.3L825.4,1146.3" stroke="#8dc8ea" stroke-width="3.5"/>
<path d="M135.4,939.0L137.7,936.9L140.0,934.7L142.3,932.4L144.6,929.9L146.9,927.4L149.2,924.7L151.5,921.9L153.8,918.9L156.1,915.8L158.4,912.4L160.7,908.6L163.0,904.6L165.3,900.2L167.6,895.3L169.9,889.8L172.2,883.2L174.5,875.6L176.8,867.4L179.1,859.1L181.4,851.1L183.7,843.2L186.0,835.4L188.3,827.6L190.6,819.5L192.9,811.3L195.2,803.0L197.5,794.5L199.8,786.0L202.1,777.7L204.4,769.7L206.7,762.2L209.0,755.2L211.3,748.8L213.6,742.9L215.9,737.8L218.2,733.7L220.5,730.6L222.8,728.4L225.1,727.3L227.4,727.1L229.7,727.8L232.0,729.4L234.3,732.0L236.6,735.4L238.9,739.6L241.2,744.6L243.5,750.4L245.8,757.0L248.1,764.6L250.4,772.9L252.7,781.8L255.0,791.1L257.3,800.5L259.6,810.0L261.9,819.4L264.2,828.5L266.5,837.2L268.8,845.7L271.1,853.8L273.4,861.6L275.7,869.3L278.0,877.1L280.3,885.0L282.6,892.6L284.9,899.2L287.2,904.6L289.5,908.6L291.8,911.2L294.1,912.8L296.4,913.8L298.7,914.6L301.0,915.2L303.3,915.5L305.6,915.6L307.9,915.4L310.2,915.1L312.5,914.5L314.8,913.8L317.1,912.8L319.4,911.5L321.7,910.1L324.0,908.5L326.3,906.8L328.6,905.1L330.9,903.4L333.2,901.7L335.5,900.0L337.8,898.3L340.1,896.4L342.4,894.4L344.7,892.5L347.0,890.5L349.3,888.6L351.6,886.9L353.9,885.5L356.2,884.3L358.5,883.5L360.8,882.9L363.1,882.6L365.4,882.6L367.7,882.8L370.0,883.3L372.3,884.1L374.6,885.4L376.9,887.0L379.2,888.9L381.5,891.0L383.8,893.3L386.1,895.7L388.4,898.4L390.7,901.3L393.0,904.5L395.3,907.7L397.6,910.8L399.9,913.7L402.2,916.3L404.5,918.7L406.8,920.9L409.1,923.0L411.4,925.0L413.7,926.9L416.0,928.6L418.3,930.3L420.6,932.0L422.9,933.7L425.2,935.4L427.5,936.9L429.8,938.3L432.1,939.5L434.4,940.5L436.7,941.4L439.0,942.3L441.3,943.0L443.6,943.8L445.9,944.5L448.2,945.3L450.5,946.2L452.8,947.0L455.1,947.8L457.4,948.6L459.7,949.2L462.0,950.0L464.3,950.8L466.6,951.7L468.9,952.9L471.2,954.2L473.5,955.6L475.8,956.9L478.1,958.2L480.4,959.5L482.7,960.9L485.0,962.4L487.3,964.0L489.6,965.7L491.9,967.8L494.2,970.2L496.5,972.8L498.8,975.2L501.1,977.4L503.4,979.5L505.7,981.7L508.0,984.0L510.3,986.3L512.6,988.7L514.9,991.2L517.2,993.8L519.5,996.5L521.8,999.3L524.1,1002.2L526.4,1005.3L528.7,1008.6L531.0,1012.1L533.3,1015.6L535.6,1019.1L537.9,1022.6L540.2,1026.1L542.5,1029.5L544.8,1032.8L547.1,1036.0L549.4,1039.1L551.7,1042.1L554.0,1045.2L556.3,1048.2L558.6,1051.3L560.9,1054.4L563.2,1057.3L565.5,1060.2L567.8,1063.0L570.1,1065.7L572.4,1068.3L574.7,1070.9L577.0,1073.6L579.3,1076.3L581.6,1078.9L583.9,1081.5L586.2,1084.0L588.5,1086.3L590.8,1088.6L593.1,1090.8L595.4,1093.1L597.7,1095.4L600.0,1097.8L602.3,1100.0L604.6,1102.0L606.9,1103.7L609.2,1105.3L611.5,1106.6L613.8,1108.0L616.1,1109.4L618.4,1110.8L620.7,1112.2L623.0,1113.6L625.3,1115.0L627.6,1116.3L629.9,1117.6L632.2,1118.8L634.5,1119.9L636.8,1121.0L639.1,1122.0L641.4,1123.0L643.7,1123.9L646.0,1124.8L648.3,1125.6L650.6,1126.4L652.9,1127.2L655.2,1127.9L657.5,1128.7L659.8,1129.5L662.1,1130.3L664.4,1131.0L666.7,1131.6L669.0,1132.2L671.3,1132.8L673.6,1133.3L675.9,1133.9L678.2,1134.5L680.5,1135.0L682.8,1135.6L685.1,1136.1L687.4,1136.5L689.7,1136.8L692.0,1137.2L694.3,1137.4L696.6,1137.7L698.9,1138.0L701.2,1138.2L703.5,1138.6L705.8,1138.9L708.1,1139.3L710.4,1139.7L712.7,1140.0L715.0,1140.4L717.3,1140.7L719.6,1141.0L721.9,1141.2L724.2,1141.5L726.5,1141.8L728.8,1142.0L731.1,1142.2L733.4,1142.5L735.7,1142.7L738.0,1142.9L740.3,1143.1L742.6,1143.3L744.9,1143.4L747.2,1143.6L749.5,1143.8L751.8,1143.9L754.1,1144.1L756.4,1144.2L758.7,1144.4L761.0,1144.5L763.3,1144.7L765.6,1144.8L767.9,1144.9L770.2,1145.0L772.5,1145.1L774.8,1145.2L777.1,1145.3L779.4,1145.4L781.7,1145.5L784.0,1145.6L786.3,1145.6L788.6,1145.7L790.9,1145.7L793.2,1145.7L795.5,1145.7L797.8,1145.8L800.1,1145.9L802.4,1145.9L804.7,1146.0L807.0,1146.0L809.3,1146.1L811.6,1146.1L813.9,1146.1L816.2,1146.2L818.5,1146.2L820.8,1146.2L823.1,1146.2L825.4,1146.2" stroke="#8dc8ea" stroke-width="3.5"/>
<path d="M135.4,940.3L137.7,938.2L140.0,936.0L142.3,933.8L144.6,931.4L146.9,928.9L149.2,926.2L151.5,923.5L153.8,920.5L156.1,917.4L158.4,914.0L160.7,910.3L163.0,906.3L165.3,901.9L167.6,897.1L169.9,891.6L172.2,885.1L174.5,877.5L176.8,869.4L179.1,861.2L181.4,853.2L183.7,845.4L186.0,837.6L188.3,829.7L190.6,821.7L192.9,813.5L195.2,805.1L197.5,796.5L199.8,787.9L202.1,779.4L204.4,771.3L206.7,763.8L209.0,756.7L211.3,750.1L213.6,744.1L215.9,738.8L218.2,734.5L220.5,731.1L222.8,728.7L225.1,727.2L227.4,726.8L229.7,727.1L232.0,728.4L234.3,730.6L236.6,733.7L238.9,737.7L241.2,742.4L243.5,747.9L245.8,754.3L248.1,761.6L250.4,769.7L252.7,778.4L255.0,787.5L257.3,796.8L259.6,806.2L261.9,815.5L264.2,824.5L266.5,833.2L268.8,841.7L271.1,849.8L273.4,857.8L275.7,865.6L278.0,873.6L280.3,881.6L282.6,889.3L284.9,896.1L287.2,901.7L289.5,905.9L291.8,908.7L294.1,910.6L296.4,911.8L298.7,912.8L301.0,913.5L303.3,914.0L305.6,914.3L307.9,914.3L310.2,914.0L312.5,913.6L314.8,912.9L317.1,912.0L319.4,910.8L321.7,909.4L324.0,907.9L326.3,906.3L328.6,904.6L330.9,903.0L333.2,901.3L335.5,899.6L337.8,897.9L340.1,896.0L342.4,894.1L344.7,892.1L347.0,890.2L349.3,888.3L351.6,886.6L353.9,885.1L356.2,883.9L358.5,883.0L360.8,882.4L363.1,882.1L365.4,882.0L367.7,882.2L370.0,882.6L372.3,883.4L374.6,884.6L376.9,886.1L379.2,887.9L381.5,889.9L383.8,892.1L386.1,894.5L388.4,897.1L390.7,899.9L393.0,903.0L395.3,906.1L397.6,909.1L399.9,912.0L402.2,914.6L404.5,917.0L406.8,919.2L409.1,921.3L411.4,923.4L413.7,925.3L416.0,927.1L418.3,928.9L420.6,930.6L422.9,932.4L425.2,934.1L427.5,935.7L429.8,937.2L432.1,938.5L434.4,939.7L436.7,940.7L439.0,941.6L441.3,942.5L443.6,943.3L445.9,944.2L448.2,945.1L450.5,946.0L452.8,947.0L455.1,947.9L457.4,948.7L459.7,949.4L462.0,950.2L464.3,951.1L466.6,952.1L468.9,953.3L471.2,954.7L473.5,956.1L475.8,957.5L478.1,958.8L480.4,960.1L482.7,961.5L485.0,963.0L487.3,964.6L489.6,966.3L491.9,968.4L494.2,970.8L496.5,973.3L498.8,975.7L501.1,977.8L503.4,979.9L505.7,982.0L508.0,984.2L510.3,986.5L512.6,988.9L514.9,991.3L517.2,993.8L519.5,996.4L521.8,999.1L524.1,1001.9L526.4,1004.9L528.7,1008.1L531.0,1011.5L533.3,1014.9L535.6,1018.3L537.9,1021.7L540.2,1025.1L542.5,1028.4L544.8,1031.6L547.1,1034.7L549.4,1037.7L551.7,1040.7L554.0,1043.6L556.3,1046.6L558.6,1049.6L560.9,1052.6L563.2,1055.5L565.5,1058.4L567.8,1061.1L570.1,1063.7L572.4,1066.3L574.7,1068.8L577.0,1071.5L579.3,1074.1L581.6,1076.7L583.9,1079.3L586.2,1081.7L588.5,1084.0L590.8,1086.2L593.1,1088.5L595.4,1090.7L597.7,1093.1L600.0,1095.4L602.3,1097.6L604.6,1099.6L606.9,1101.3L609.2,1102.8L611.5,1104.2L613.8,1105.6L616.1,1107.0L618.4,1108.4L620.7,1109.9L623.0,1111.3L625.3,1112.7L627.6,1114.0L629.9,1115.3L632.2,1116.5L634.5,1117.7L636.8,1118.8L639.1,1119.9L641.4,1120.9L643.7,1121.9L646.0,1122.8L648.3,1123.6L650.6,1124.4L652.9,1125.2L655.2,1126.0L657.5,1126.8L659.8,1127.7L662.1,1128.5L664.4,1129.2L666.7,1129.9L669.0,1130.5L671.3,1131.1L673.6,1131.7L675.9,1132.3L678.2,1132.9L680.5,1133.5L682.8,1134.1L685.1,1134.7L687.4,1135.1L689.7,1135.5L692.0,1135.9L694.3,1136.2L696.6,1136.4L698.9,1136.7L701.2,1137.0L703.5,1137.3L705.8,1137.7L708.1,1138.2L710.4,1138.6L712.7,1139.0L715.0,1139.3L717.3,1139.7L719.6,1140.0L721.9,1140.3L724.2,1140.6L726.5,1140.9L728.8,1141.1L731.1,1141.4L733.4,1141.7L735.7,1141.9L738.0,1142.1L740.3,1142.4L742.6,1142.6L744.9,1142.8L747.2,1143.0L749.5,1143.2L751.8,1143.3L754.1,1143.5L756.4,1143.7L758.7,1143.9L761.0,1144.0L763.3,1144.2L765.6,1144.4L767.9,1144.5L770.2,1144.6L772.5,1144.8L774.8,1144.9L777.1,1145.0L779.4,1145.1L781.7,1145.2L784.0,1145.3L786.3,1145.4L788.6,1145.4L790.9,1145.4L793.2,1145.4L795.5,1145.5L797.8,1145.5L800.1,1145.6L802.4,1145.7L804.7,1145.8L807.0,1145.8L809.3,1145.9L811.6,1146.0L813.9,1146.0L816.2,1146.0L818.5,1146.0L820.8,1146.1L823.1,1146.1L825.4,1146.1" stroke="#8dc8ea" stroke-width="3.5"/>
<path d="M135.4,941.9L137.7,939.9L140.0,937.9L142.3,935.6L144.6,933.3L146.9,930.9L149.2,928.3L151.5,925.6L153.8,922.7L156.1,919.6L158.4,916.3L160.7,912.6L163.0,908.6L165.3,904.2L167.6,899.5L169.9,894.1L172.2,887.6L174.5,880.1L176.8,872.0L179.1,864.0L181.4,856.0L183.7,848.3L186.0,840.5L188.3,832.6L190.6,824.6L192.9,816.4L195.2,807.9L197.5,799.3L199.8,790.4L202.1,781.7L204.4,773.5L206.7,765.8L209.0,758.6L211.3,751.9L213.6,745.7L215.9,740.2L218.2,735.5L220.5,731.8L222.8,729.0L225.1,727.2L227.4,726.3L229.7,726.2L232.0,727.0L234.3,728.8L236.6,731.5L238.9,735.0L241.2,739.4L243.5,744.6L245.8,750.6L248.1,757.6L250.4,765.4L252.7,773.8L255.0,782.6L257.3,791.7L259.6,801.0L261.9,810.2L264.2,819.2L266.5,827.9L268.8,836.4L271.1,844.6L273.4,852.7L275.7,860.7L278.0,868.8L280.3,877.1L282.6,885.0L284.9,892.0L287.2,897.8L289.5,902.3L291.8,905.4L294.1,907.6L296.4,909.1L298.7,910.4L301.0,911.3L303.3,912.1L305.6,912.5L307.9,912.7L310.2,912.6L312.5,912.3L314.8,911.8L317.1,911.0L319.4,909.9L321.7,908.6L324.0,907.1L326.3,905.6L328.6,904.0L330.9,902.4L333.2,900.8L335.5,899.1L337.8,897.4L340.1,895.5L342.4,893.6L344.7,891.7L347.0,889.7L349.3,887.9L351.6,886.1L353.9,884.6L356.2,883.4L358.5,882.5L360.8,881.8L363.1,881.4L365.4,881.3L367.7,881.4L370.0,881.7L372.3,882.4L374.6,883.5L376.9,884.9L379.2,886.6L381.5,888.5L383.8,890.6L386.1,892.8L388.4,895.3L390.7,898.0L393.0,900.9L395.3,904.0L397.6,907.0L399.9,909.8L402.2,912.4L404.5,914.7L406.8,917.0L409.1,919.1L411.4,921.2L413.7,923.1L416.0,925.0L418.3,926.9L420.6,928.7L422.9,930.6L425.2,932.4L427.5,934.2L429.8,935.8L432.1,937.2L434.4,938.5L436.7,939.7L439.0,940.8L441.3,941.8L443.6,942.7L445.9,943.7L448.2,944.8L450.5,945.8L452.8,946.9L455.1,947.9L457.4,948.8L459.7,949.6L462.0,950.5L464.3,951.5L466.6,952.6L468.9,953.9L471.2,955.3L473.5,956.8L475.8,958.2L478.1,959.6L480.4,960.9L482.7,962.4L485.0,963.9L487.3,965.5L489.6,967.2L491.9,969.2L494.2,971.5L496.5,974.0L498.8,976.3L501.1,978.4L503.4,980.4L505.7,982.5L508.0,984.6L510.3,986.8L512.6,989.1L514.9,991.4L517.2,993.8L519.5,996.3L521.8,998.8L524.1,1001.5L526.4,1004.4L528.7,1007.5L531.0,1010.7L533.3,1013.9L535.6,1017.2L537.9,1020.5L540.2,1023.7L542.5,1026.9L544.8,1030.0L547.1,1033.0L549.4,1035.9L551.7,1038.8L554.0,1041.6L556.3,1044.5L558.6,1047.4L560.9,1050.3L563.2,1053.1L565.5,1055.8L567.8,1058.5L570.1,1061.0L572.4,1063.5L574.7,1066.1L577.0,1068.6L579.3,1071.2L581.6,1073.8L583.9,1076.3L586.2,1078.6L588.5,1080.9L590.8,1083.1L593.1,1085.3L595.4,1087.6L597.7,1089.9L600.0,1092.2L602.3,1094.4L604.6,1096.4L606.9,1098.1L609.2,1099.6L611.5,1101.0L613.8,1102.4L616.1,1103.8L618.4,1105.2L620.7,1106.7L623.0,1108.2L625.3,1109.6L627.6,1111.0L629.9,1112.3L632.2,1113.5L634.5,1114.8L636.8,1115.9L639.1,1117.0L641.4,1118.1L643.7,1119.1L646.0,1120.0L648.3,1120.9L650.6,1121.8L652.9,1122.6L655.2,1123.4L657.5,1124.3L659.8,1125.2L662.1,1126.0L664.4,1126.8L666.7,1127.6L669.0,1128.2L671.3,1128.9L673.6,1129.5L675.9,1130.2L678.2,1130.9L680.5,1131.5L682.8,1132.2L685.1,1132.8L687.4,1133.3L689.7,1133.8L692.0,1134.2L694.3,1134.5L696.6,1134.7L698.9,1135.0L701.2,1135.3L703.5,1135.7L705.8,1136.1L708.1,1136.6L710.4,1137.1L712.7,1137.5L715.0,1137.9L717.3,1138.3L719.6,1138.7L721.9,1139.0L724.2,1139.3L726.5,1139.7L728.8,1140.0L731.1,1140.3L733.4,1140.6L735.7,1140.9L738.0,1141.1L740.3,1141.4L742.6,1141.6L744.9,1141.9L747.2,1142.1L749.5,1142.3L751.8,1142.5L754.1,1142.7L756.4,1143.0L758.7,1143.2L761.0,1143.4L763.3,1143.6L765.6,1143.8L767.9,1143.9L770.2,1144.1L772.5,1144.3L774.8,1144.4L777.1,1144.5L779.4,1144.7L781.7,1144.8L784.0,1145.0L786.3,1145.1L788.6,1145.1L790.9,1145.1L793.2,1145.1L795.5,1145.1L797.8,1145.2L800.1,1145.3L802.4,1145.4L804.7,1145.5L807.0,1145.6L809.3,1145.7L811.6,1145.7L813.9,1145.8L816.2,1145.8L818.5,1145.9L820.8,1145.9L823.1,1145.9L825.4,1145.9" stroke="#8dc8ea" stroke-width="3.5"/>
<path d="M135.4,947.9L137.7,946.2L140.0,944.4L142.3,942.4L144.6,940.4L146.9,938.1L149.2,935.8L151.5,933.3L153.8,930.5L156.1,927.6L158.4,924.3L160.7,920.7L163.0,916.8L165.3,912.7L167.6,908.2L169.9,903.0L172.2,896.7L174.5,889.4L176.8,881.7L179.1,873.9L181.4,866.3L183.7,858.6L186.0,850.9L188.3,843.1L190.6,835.1L192.9,826.8L195.2,818.3L197.5,809.2L199.8,799.6L202.1,790.1L204.4,781.3L206.7,773.3L209.0,765.7L211.3,758.4L213.6,751.5L215.9,745.0L218.2,739.3L220.5,734.3L222.8,730.2L225.1,726.9L227.4,724.5L229.7,722.9L232.0,722.1L234.3,722.3L236.6,723.5L238.9,725.6L241.2,728.6L243.5,732.5L245.8,737.3L248.1,743.1L250.4,749.8L252.7,757.2L255.0,765.1L257.3,773.5L259.6,782.3L261.9,791.2L264.2,800.0L266.5,808.6L268.8,817.2L271.1,825.8L273.4,834.3L275.7,842.9L278.0,851.7L280.3,860.6L282.6,869.2L284.9,877.0L287.2,883.7L289.5,889.2L291.8,893.5L294.1,896.7L296.4,899.4L298.7,901.6L301.0,903.5L303.3,905.1L305.6,906.3L307.9,907.1L310.2,907.6L312.5,907.8L314.8,907.7L317.1,907.2L319.4,906.5L321.7,905.4L324.0,904.2L326.3,903.0L328.6,901.6L330.9,900.2L333.2,898.7L335.5,897.2L337.8,895.5L340.1,893.8L342.4,891.9L344.7,890.0L347.0,888.2L349.3,886.3L351.6,884.6L353.9,883.0L356.2,881.6L358.5,880.5L360.8,879.6L363.1,879.0L365.4,878.6L367.7,878.5L370.0,878.6L372.3,879.0L374.6,879.7L376.9,880.8L379.2,882.1L381.5,883.6L383.8,885.3L386.1,887.1L388.4,889.2L390.7,891.5L393.0,894.1L395.3,896.9L397.6,899.8L399.9,902.5L402.2,905.0L404.5,907.3L406.8,909.5L409.1,911.8L411.4,914.0L413.7,916.2L416.0,918.4L418.3,920.5L420.6,922.7L422.9,924.9L425.2,927.1L427.5,929.3L429.8,931.4L432.1,933.3L434.4,935.0L436.7,936.6L439.0,938.1L441.3,939.6L443.6,941.0L445.9,942.4L448.2,943.8L450.5,945.2L452.8,946.6L455.1,947.9L457.4,949.1L459.7,950.3L462.0,951.4L464.3,952.7L466.6,954.0L468.9,955.6L471.2,957.2L473.5,958.8L475.8,960.3L478.1,961.8L480.4,963.2L482.7,964.7L485.0,966.2L487.3,967.7L489.6,969.4L491.9,971.3L494.2,973.5L496.5,975.8L498.8,978.0L501.1,979.9L503.4,981.8L505.7,983.7L508.0,985.6L510.3,987.6L512.6,989.6L514.9,991.7L517.2,993.8L519.5,995.9L521.8,998.1L524.1,1000.5L526.4,1003.0L528.7,1005.7L531.0,1008.6L533.3,1011.5L535.6,1014.4L537.9,1017.3L540.2,1020.3L542.5,1023.1L544.8,1025.9L547.1,1028.6L549.4,1031.3L551.7,1033.9L554.0,1036.5L556.3,1039.1L558.6,1041.7L560.9,1044.4L563.2,1047.0L565.5,1049.5L567.8,1052.0L570.1,1054.3L572.4,1056.7L574.7,1059.1L577.0,1061.5L579.3,1063.9L581.6,1066.3L583.9,1068.7L586.2,1071.0L588.5,1073.1L590.8,1075.3L593.1,1077.4L595.4,1079.6L597.7,1081.9L600.0,1084.2L602.3,1086.3L604.6,1088.3L606.9,1090.0L609.2,1091.5L611.5,1093.0L613.8,1094.4L616.1,1095.8L618.4,1097.3L620.7,1098.8L623.0,1100.3L625.3,1101.9L627.6,1103.3L629.9,1104.7L632.2,1106.1L634.5,1107.4L636.8,1108.6L639.1,1109.8L641.4,1111.0L643.7,1112.1L646.0,1113.1L648.3,1114.1L650.6,1115.1L652.9,1116.1L655.2,1117.0L657.5,1118.0L659.8,1119.0L662.1,1119.9L664.4,1120.9L666.7,1121.7L669.0,1122.5L671.3,1123.3L673.6,1124.1L675.9,1124.9L678.2,1125.7L680.5,1126.5L682.8,1127.3L685.1,1128.1L687.4,1128.7L689.7,1129.4L692.0,1129.9L694.3,1130.3L696.6,1130.5L698.9,1130.8L701.2,1131.1L703.5,1131.6L705.8,1132.1L708.1,1132.7L710.4,1133.3L712.7,1133.9L715.0,1134.4L717.3,1134.9L719.6,1135.4L721.9,1135.8L724.2,1136.3L726.5,1136.7L728.8,1137.1L731.1,1137.5L733.4,1137.9L735.7,1138.3L738.0,1138.6L740.3,1139.0L742.6,1139.3L744.9,1139.6L747.2,1139.9L749.5,1140.2L751.8,1140.5L754.1,1140.8L756.4,1141.1L758.7,1141.4L761.0,1141.7L763.3,1142.0L765.6,1142.3L767.9,1142.5L770.2,1142.8L772.5,1143.0L774.8,1143.2L777.1,1143.4L779.4,1143.6L781.7,1143.8L784.0,1144.1L786.3,1144.2L788.6,1144.3L790.9,1144.2L793.2,1144.2L795.5,1144.3L797.8,1144.4L800.1,1144.6L802.4,1144.8L804.7,1144.9L807.0,1145.0L809.3,1145.2L811.6,1145.2L813.9,1145.3L816.2,1145.4L818.5,1145.4L820.8,1145.5L823.1,1145.5L825.4,1145.5" stroke="#8dc8ea" stroke-width="3.5"/>
<path d="M135.4,953.1L137.7,951.6L140.0,950.0L142.3,948.3L144.6,946.4L146.9,944.4L149.2,942.2L151.5,939.9L153.8,937.3L156.1,934.4L158.4,931.2L160.7,927.7L163.0,924.0L165.3,920.0L167.6,915.7L169.9,910.6L172.2,904.5L174.5,897.5L176.8,890.0L179.1,882.5L181.4,875.1L183.7,867.6L186.0,860.0L188.3,852.1L190.6,844.1L192.9,835.8L195.2,827.2L197.5,817.7L199.8,807.5L202.1,797.3L204.4,788.1L206.7,779.7L209.0,771.8L211.3,764.0L213.6,756.4L215.9,749.1L218.2,742.5L220.5,736.5L222.8,731.2L225.1,726.7L227.4,723.0L229.7,720.0L232.0,717.9L234.3,716.7L236.6,716.5L238.9,717.4L241.2,719.2L243.5,722.0L245.8,725.8L248.1,730.6L250.4,736.4L252.7,742.8L255.0,750.0L257.3,757.8L259.6,766.1L261.9,774.7L264.2,783.4L266.5,792.0L268.8,800.7L271.1,809.5L273.4,818.4L275.7,827.5L278.0,836.8L280.3,846.3L282.6,855.5L284.9,864.1L287.2,871.6L289.5,877.9L291.8,883.1L294.1,887.3L296.4,890.9L298.7,894.0L301.0,896.7L303.3,899.0L305.6,900.8L307.9,902.3L310.2,903.3L312.5,903.9L314.8,904.1L317.1,904.0L319.4,903.5L321.7,902.7L324.0,901.7L326.3,900.7L328.6,899.6L330.9,898.3L333.2,897.0L335.5,895.5L337.8,893.9L340.1,892.2L342.4,890.4L344.7,888.6L347.0,886.8L349.3,884.9L351.6,883.1L353.9,881.5L356.2,880.0L358.5,878.7L360.8,877.6L363.1,876.8L365.4,876.3L367.7,875.9L370.0,875.7L372.3,875.9L374.6,876.3L376.9,877.0L379.2,878.0L381.5,879.1L383.8,880.4L386.1,881.9L388.4,883.6L390.7,885.5L393.0,887.8L395.3,890.3L397.6,892.9L399.9,895.5L402.2,897.9L404.5,900.1L406.8,902.4L409.1,904.7L411.4,907.0L413.7,909.4L416.0,911.8L418.3,914.2L420.6,916.7L422.9,919.2L425.2,921.8L427.5,924.3L429.8,926.8L432.1,929.1L434.4,931.3L436.7,933.4L439.0,935.4L441.3,937.3L443.6,939.2L445.9,941.0L448.2,942.8L450.5,944.6L452.8,946.4L455.1,948.0L457.4,949.5L459.7,951.0L462.0,952.5L464.3,954.0L466.6,955.7L468.9,957.4L471.2,959.3L473.5,961.1L475.8,962.8L478.1,964.4L480.4,965.9L482.7,967.4L485.0,968.9L487.3,970.4L489.6,972.1L491.9,973.9L494.2,976.0L496.5,978.1L498.8,980.0L501.1,981.8L503.4,983.4L505.7,985.1L508.0,986.8L510.3,988.5L512.6,990.3L514.9,992.0L517.2,993.8L519.5,995.5L521.8,997.3L524.1,999.2L526.4,1001.2L528.7,1003.5L531.0,1005.9L533.3,1008.4L535.6,1010.9L537.9,1013.4L540.2,1015.9L542.5,1018.3L544.8,1020.7L547.1,1023.1L549.4,1025.3L551.7,1027.6L554.0,1029.9L556.3,1032.2L558.6,1034.5L560.9,1036.8L563.2,1039.1L565.5,1041.4L567.8,1043.6L570.1,1045.7L572.4,1047.9L574.7,1050.0L577.0,1052.3L579.3,1054.5L581.6,1056.7L583.9,1058.9L586.2,1061.0L588.5,1063.1L590.8,1065.2L593.1,1067.2L595.4,1069.4L597.7,1071.6L600.0,1073.8L602.3,1075.9L604.6,1077.8L606.9,1079.5L609.2,1081.1L611.5,1082.5L613.8,1084.0L616.1,1085.4L618.4,1087.0L620.7,1088.6L623.0,1090.2L625.3,1091.8L627.6,1093.4L629.9,1094.9L632.2,1096.4L634.5,1097.8L636.8,1099.2L639.1,1100.5L641.4,1101.8L643.7,1103.0L646.0,1104.2L648.3,1105.3L650.6,1106.4L652.9,1107.6L655.2,1108.7L657.5,1109.8L659.8,1110.9L662.1,1112.0L664.4,1113.1L666.7,1114.1L669.0,1115.1L671.3,1116.1L673.6,1117.1L675.9,1118.1L678.2,1119.0L680.5,1120.0L682.8,1121.0L685.1,1121.9L687.4,1122.8L689.7,1123.6L692.0,1124.3L694.3,1124.8L696.6,1125.1L698.9,1125.3L701.2,1125.7L703.5,1126.2L705.8,1126.9L708.1,1127.7L710.4,1128.5L712.7,1129.2L715.0,1129.9L717.3,1130.5L719.6,1131.1L721.9,1131.7L724.2,1132.2L726.5,1132.8L728.8,1133.3L731.1,1133.9L733.4,1134.4L735.7,1134.9L738.0,1135.4L740.3,1135.9L742.6,1136.3L744.9,1136.7L747.2,1137.1L749.5,1137.5L751.8,1137.9L754.1,1138.3L756.4,1138.7L758.7,1139.1L761.0,1139.5L763.3,1139.9L765.6,1140.3L767.9,1140.7L770.2,1141.0L772.5,1141.3L774.8,1141.6L777.1,1141.9L779.4,1142.2L781.7,1142.6L784.0,1142.9L786.3,1143.1L788.6,1143.2L790.9,1143.1L793.2,1143.1L795.5,1143.1L797.8,1143.3L800.1,1143.6L802.4,1143.9L804.7,1144.1L807.0,1144.3L809.3,1144.5L811.6,1144.6L813.9,1144.7L816.2,1144.8L818.5,1144.9L820.8,1144.9L823.1,1145.0L825.4,1145.0" stroke="#8dc8ea" stroke-width="3.5"/>
<path d="M135.4,968.0L137.7,967.2L140.0,966.2L142.3,965.2L144.6,963.9L146.9,962.5L149.2,960.8L151.5,958.9L153.8,956.7L156.1,954.2L158.4,951.2L160.7,948.0L163.0,944.5L165.3,941.0L167.6,937.2L169.9,932.7L172.2,927.1L174.5,920.6L176.8,913.9L179.1,907.3L181.4,900.6L183.7,893.4L186.0,885.9L188.3,878.1L190.6,870.1L192.9,861.8L195.2,852.8L197.5,842.4L199.8,830.2L202.1,818.1L204.4,807.5L206.7,798.2L209.0,789.3L211.3,780.2L213.6,770.7L215.9,761.1L218.2,751.8L220.5,742.8L222.8,734.2L225.1,726.1L227.4,718.6L229.7,711.8L232.0,705.7L234.3,700.6L236.6,696.6L238.9,693.9L241.2,692.4L243.5,692.0L245.8,692.7L248.1,694.7L250.4,697.6L252.7,701.5L255.0,706.4L257.3,712.5L259.6,719.6L261.9,727.4L264.2,735.6L266.5,744.1L268.8,753.1L271.1,762.6L273.4,772.7L275.7,783.3L278.0,794.2L280.3,805.3L282.6,816.3L284.9,826.8L287.2,836.5L289.5,845.4L291.8,853.3L294.1,860.3L296.4,866.6L298.7,872.2L301.0,877.2L303.3,881.5L305.6,885.2L307.9,888.3L310.2,890.8L312.5,892.6L314.8,893.9L317.1,894.7L319.4,894.9L321.7,894.9L324.0,894.6L326.3,894.2L328.6,893.7L330.9,892.9L333.2,891.9L335.5,890.7L337.8,889.2L340.1,887.7L342.4,886.1L344.7,884.5L347.0,882.8L349.3,881.0L351.6,879.1L353.9,877.2L356.2,875.4L358.5,873.7L360.8,872.1L363.1,870.7L365.4,869.6L367.7,868.6L370.0,867.7L372.3,867.1L374.6,866.6L376.9,866.4L379.2,866.3L381.5,866.4L383.8,866.7L386.1,867.1L388.4,867.8L390.7,868.6L393.0,870.0L395.3,871.8L397.6,873.9L399.9,876.0L402.2,878.1L404.5,880.2L406.8,882.5L409.1,885.0L411.4,887.8L413.7,890.7L416.0,893.7L418.3,896.9L420.6,900.1L422.9,903.5L425.2,907.1L427.5,910.8L429.8,914.5L432.1,918.0L434.4,921.4L436.7,924.7L439.0,927.9L441.3,931.1L443.6,934.2L445.9,937.2L448.2,940.1L450.5,942.9L452.8,945.6L455.1,948.2L457.4,950.6L459.7,952.9L462.0,955.2L464.3,957.5L466.6,959.9L468.9,962.4L471.2,964.8L473.5,967.1L475.8,969.2L478.1,971.1L480.4,972.8L482.7,974.5L485.0,976.0L487.3,977.5L489.6,979.0L491.9,980.6L494.2,982.2L496.5,983.8L498.8,985.3L501.1,986.5L503.4,987.7L505.7,988.8L508.0,989.9L510.3,991.0L512.6,992.0L514.9,992.9L517.2,993.7L519.5,994.4L521.8,995.1L524.1,995.8L526.4,996.7L528.7,997.9L531.0,999.1L533.3,1000.5L535.6,1001.9L537.9,1003.2L540.2,1004.6L542.5,1006.0L544.8,1007.4L547.1,1008.8L549.4,1010.2L551.7,1011.6L554.0,1013.1L556.3,1014.5L558.6,1016.0L560.9,1017.6L563.2,1019.1L565.5,1020.6L567.8,1022.2L570.1,1023.8L572.4,1025.4L574.7,1027.1L577.0,1028.8L579.3,1030.5L581.6,1032.3L583.9,1034.0L586.2,1035.8L588.5,1037.6L590.8,1039.4L593.1,1041.3L595.4,1043.3L597.7,1045.3L600.0,1047.4L602.3,1049.3L604.6,1051.2L606.9,1052.9L609.2,1054.4L611.5,1056.0L613.8,1057.5L616.1,1059.1L618.4,1060.8L620.7,1062.6L623.0,1064.5L625.3,1066.4L627.6,1068.2L629.9,1070.1L632.2,1071.9L634.5,1073.6L636.8,1075.2L639.1,1076.9L641.4,1078.4L643.7,1080.0L646.0,1081.5L648.3,1083.0L650.6,1084.5L652.9,1086.0L655.2,1087.5L657.5,1089.0L659.8,1090.5L662.1,1092.0L664.4,1093.4L666.7,1094.9L669.0,1096.3L671.3,1097.8L673.6,1099.2L675.9,1100.6L678.2,1102.1L680.5,1103.5L682.8,1104.9L685.1,1106.4L687.4,1107.8L689.7,1109.1L692.0,1110.2L694.3,1110.8L696.6,1111.2L698.9,1111.5L701.2,1111.9L703.5,1112.6L705.8,1113.7L708.1,1114.9L710.4,1116.1L712.7,1117.2L715.0,1118.3L717.3,1119.3L719.6,1120.3L721.9,1121.2L724.2,1122.1L726.5,1122.9L728.8,1123.8L731.1,1124.6L733.4,1125.5L735.7,1126.3L738.0,1127.2L740.3,1127.9L742.6,1128.7L744.9,1129.3L747.2,1130.0L749.5,1130.7L751.8,1131.3L754.1,1132.0L756.4,1132.7L758.7,1133.4L761.0,1134.0L763.3,1134.7L765.6,1135.4L767.9,1136.0L770.2,1136.6L772.5,1137.1L774.8,1137.6L777.1,1138.2L779.4,1138.7L781.7,1139.3L784.0,1140.0L786.3,1140.4L788.6,1140.5L790.9,1140.3L793.2,1140.2L795.5,1140.3L797.8,1140.6L800.1,1141.1L802.4,1141.6L804.7,1142.0L807.0,1142.4L809.3,1142.7L811.6,1142.9L813.9,1143.1L816.2,1143.3L818.5,1143.4L820.8,1143.5L823.1,1143.6L825.4,1143.7" stroke="#8dc8ea" stroke-width="3.5"/>
<path d="M135.4,974.2L137.7,973.7L140.0,973.0L142.3,972.2L144.6,971.2L146.9,970.0L149.2,968.6L151.5,966.8L153.8,964.8L156.1,962.4L158.4,959.6L160.7,956.4L163.0,953.1L165.3,949.7L167.6,946.2L169.9,941.9L172.2,936.6L174.5,930.3L176.8,923.9L179.1,917.6L181.4,911.2L183.7,904.2L186.0,896.7L188.3,889.0L190.6,881.0L192.9,872.6L195.2,863.5L197.5,852.6L199.8,839.7L202.1,826.7L204.4,815.6L206.7,805.9L209.0,796.6L211.3,786.9L213.6,776.6L215.9,766.1L218.2,755.6L220.5,745.4L222.8,735.5L225.1,725.9L227.4,716.8L229.7,708.3L232.0,700.6L234.3,693.8L236.6,688.2L238.9,684.1L241.2,681.2L243.5,679.4L245.8,678.9L248.1,679.6L250.4,681.5L252.7,684.3L255.0,688.2L257.3,693.5L259.6,700.2L261.9,707.7L264.2,715.6L266.5,724.1L268.8,733.1L271.1,743.0L273.4,753.6L275.7,764.8L278.0,776.3L280.3,788.1L282.6,799.8L284.9,811.1L287.2,821.8L289.5,831.7L291.8,840.8L294.1,849.0L296.4,856.4L298.7,863.0L301.0,868.9L303.3,874.1L305.6,878.6L307.9,882.5L310.2,885.5L312.5,887.9L314.8,889.6L317.1,890.7L319.4,891.3L321.7,891.5L324.0,891.6L326.3,891.4L328.6,891.1L330.9,890.6L333.2,889.8L335.5,888.6L337.8,887.3L340.1,885.8L342.4,884.3L344.7,882.7L347.0,881.0L349.3,879.3L351.6,877.4L353.9,875.4L356.2,873.4L358.5,871.4L360.8,869.7L363.1,868.0L365.4,866.6L367.7,865.3L370.0,864.1L372.3,863.1L374.6,862.3L376.9,861.6L379.2,861.0L381.5,860.6L383.8,860.4L386.1,860.3L388.4,860.4L390.7,860.7L393.0,861.6L395.3,863.0L397.6,864.8L399.9,866.7L402.2,868.6L404.5,870.6L406.8,872.8L409.1,875.3L411.4,878.2L413.7,881.3L416.0,884.6L418.3,888.1L420.6,891.7L422.9,895.5L425.2,899.5L427.5,903.8L429.8,908.0L432.1,912.1L434.4,916.0L436.7,920.0L439.0,923.9L441.3,927.7L443.6,931.4L445.9,935.0L448.2,938.5L450.5,941.9L452.8,945.2L455.1,948.3L457.4,951.2L459.7,954.0L462.0,956.8L464.3,959.6L466.6,962.5L468.9,965.3L471.2,968.1L473.5,970.7L475.8,973.0L478.1,975.2L480.4,977.1L482.7,978.8L485.0,980.4L487.3,981.9L489.6,983.3L491.9,984.8L494.2,986.2L496.5,987.5L498.8,988.6L501.1,989.6L503.4,990.4L505.7,991.2L508.0,991.9L510.3,992.6L512.6,993.1L514.9,993.5L517.2,993.7L519.5,993.7L521.8,993.7L524.1,993.7L526.4,993.8L528.7,994.2L531.0,994.7L533.3,995.3L535.6,996.0L537.9,996.6L540.2,997.3L542.5,998.0L544.8,998.7L547.1,999.5L549.4,1000.3L551.7,1001.1L554.0,1002.0L556.3,1002.9L558.6,1003.8L560.9,1004.8L563.2,1005.9L565.5,1007.0L567.8,1008.1L570.1,1009.3L572.4,1010.6L574.7,1011.9L577.0,1013.3L579.3,1014.7L581.6,1016.1L583.9,1017.6L586.2,1019.1L588.5,1020.7L590.8,1022.3L593.1,1024.1L595.4,1026.0L597.7,1027.9L600.0,1029.8L602.3,1031.7L604.6,1033.5L606.9,1035.1L609.2,1036.7L611.5,1038.3L613.8,1039.9L616.1,1041.6L618.4,1043.4L620.7,1045.3L623.0,1047.3L625.3,1049.4L627.6,1051.5L629.9,1053.5L632.2,1055.5L634.5,1057.4L636.8,1059.3L639.1,1061.1L641.4,1062.9L643.7,1064.6L646.0,1066.4L648.3,1068.1L650.6,1069.9L652.9,1071.6L655.2,1073.3L657.5,1075.1L659.8,1076.8L662.1,1078.6L664.4,1080.3L666.7,1082.1L669.0,1083.8L671.3,1085.5L673.6,1087.3L675.9,1089.0L678.2,1090.7L680.5,1092.5L682.8,1094.2L685.1,1096.0L687.4,1097.8L689.7,1099.5L692.0,1100.8L694.3,1101.6L696.6,1102.0L698.9,1102.2L701.2,1102.7L703.5,1103.6L705.8,1104.9L708.1,1106.4L710.4,1107.9L712.7,1109.3L715.0,1110.6L717.3,1111.9L719.6,1113.1L721.9,1114.2L724.2,1115.3L726.5,1116.3L728.8,1117.4L731.1,1118.5L733.4,1119.6L735.7,1120.6L738.0,1121.7L740.3,1122.6L742.6,1123.6L744.9,1124.4L747.2,1125.3L749.5,1126.1L751.8,1127.0L754.1,1127.8L756.4,1128.7L758.7,1129.5L761.0,1130.4L763.3,1131.3L765.6,1132.1L767.9,1132.9L770.2,1133.7L772.5,1134.4L774.8,1135.0L777.1,1135.7L779.4,1136.4L781.7,1137.2L784.0,1138.0L786.3,1138.5L788.6,1138.6L790.9,1138.4L793.2,1138.2L795.5,1138.4L797.8,1138.9L800.1,1139.5L802.4,1140.1L804.7,1140.7L807.0,1141.1L809.3,1141.5L811.6,1141.8L813.9,1142.1L816.2,1142.3L818.5,1142.5L820.8,1142.6L823.1,1142.7L825.4,1142.8" stroke="#8dc8ea" stroke-width="3.5"/>
<path d="M135.4,975.4L137.7,975.0L140.0,974.4L142.3,973.6L144.6,972.7L146.9,971.5L149.2,970.1L151.5,968.4L153.8,966.4L156.1,964.0L158.4,961.2L160.7,958.1L163.0,954.8L165.3,951.5L167.6,948.0L169.9,943.8L172.2,938.4L174.5,932.2L176.8,925.9L179.1,919.7L181.4,913.3L183.7,906.3L186.0,898.9L188.3,891.1L190.6,883.1L192.9,874.8L195.2,865.7L197.5,854.7L199.8,841.6L202.1,828.5L204.4,817.2L206.7,807.5L209.0,798.1L211.3,788.2L213.6,777.8L215.9,767.1L218.2,756.4L220.5,746.0L222.8,735.7L225.1,725.8L227.4,716.4L229.7,707.6L232.0,699.6L234.3,692.5L236.6,686.6L238.9,682.1L241.2,678.9L243.5,676.9L245.8,676.2L248.1,676.6L250.4,678.2L252.7,680.8L255.0,684.6L257.3,689.8L259.6,696.3L261.9,703.7L264.2,711.6L266.5,720.1L268.8,729.2L271.1,739.1L273.4,749.7L275.7,761.1L278.0,772.8L280.3,784.7L282.6,796.5L284.9,808.0L287.2,818.9L289.5,829.0L291.8,838.3L294.1,846.7L296.4,854.3L298.7,861.2L301.0,867.3L303.3,872.7L305.6,877.3L307.9,881.3L310.2,884.5L312.5,886.9L314.8,888.7L317.1,889.9L319.4,890.6L321.7,890.9L324.0,891.0L326.3,890.9L328.6,890.6L330.9,890.2L333.2,889.3L335.5,888.2L337.8,886.9L340.1,885.4L342.4,883.9L344.7,882.4L347.0,880.7L349.3,878.9L351.6,877.0L353.9,875.0L356.2,873.0L358.5,871.0L360.8,869.2L363.1,867.5L365.4,866.0L367.7,864.7L370.0,863.5L372.3,862.4L374.6,861.5L376.9,860.7L379.2,860.0L381.5,859.6L383.8,859.2L386.1,859.1L388.4,859.1L390.7,859.3L393.0,860.1L395.3,861.4L397.6,863.2L399.9,865.1L402.2,866.9L404.5,868.9L406.8,871.1L409.1,873.7L411.4,876.5L413.7,879.7L416.0,883.0L418.3,886.6L420.6,890.2L422.9,894.1L425.2,898.3L427.5,902.6L429.8,906.9L432.1,911.1L434.4,915.2L436.7,919.2L439.0,923.2L441.3,927.2L443.6,931.0L445.9,934.7L448.2,938.3L450.5,941.8L452.8,945.2L455.1,948.3L457.4,951.3L459.7,954.2L462.0,957.0L464.3,959.9L466.6,962.8L468.9,965.8L471.2,968.6L473.5,971.2L475.8,973.6L478.1,975.8L480.4,977.7L482.7,979.4L485.0,981.0L487.3,982.5L489.6,983.9L491.9,985.4L494.2,986.7L496.5,988.0L498.8,989.1L501.1,990.0L503.4,990.8L505.7,991.5L508.0,992.2L510.3,992.8L512.6,993.2L514.9,993.5L517.2,993.6L519.5,993.6L521.8,993.5L524.1,993.4L526.4,993.4L528.7,993.7L531.0,994.1L533.3,994.6L535.6,995.2L537.9,995.7L540.2,996.3L542.5,996.9L544.8,997.5L547.1,998.2L549.4,998.9L551.7,999.7L554.0,1000.5L556.3,1001.3L558.6,1002.2L560.9,1003.1L563.2,1004.1L565.5,1005.1L567.8,1006.2L570.1,1007.3L572.4,1008.5L574.7,1009.8L577.0,1011.1L579.3,1012.5L581.6,1013.9L583.9,1015.3L586.2,1016.8L588.5,1018.3L590.8,1020.0L593.1,1021.7L595.4,1023.6L597.7,1025.5L600.0,1027.4L602.3,1029.3L604.6,1031.0L606.9,1032.7L609.2,1034.3L611.5,1035.9L613.8,1037.5L616.1,1039.2L618.4,1041.0L620.7,1042.9L623.0,1045.0L625.3,1047.1L627.6,1049.2L629.9,1051.3L632.2,1053.3L634.5,1055.2L636.8,1057.1L639.1,1059.0L641.4,1060.7L643.7,1062.5L646.0,1064.3L648.3,1066.1L650.6,1067.9L652.9,1069.6L655.2,1071.4L657.5,1073.2L659.8,1075.0L662.1,1076.8L664.4,1078.5L666.7,1080.3L669.0,1082.1L671.3,1083.9L673.6,1085.6L675.9,1087.4L678.2,1089.2L680.5,1091.0L682.8,1092.8L685.1,1094.6L687.4,1096.4L689.7,1098.1L692.0,1099.5L694.3,1100.3L696.6,1100.7L698.9,1101.0L701.2,1101.4L703.5,1102.3L705.8,1103.7L708.1,1105.2L710.4,1106.8L712.7,1108.2L715.0,1109.6L717.3,1110.8L719.6,1112.1L721.9,1113.2L724.2,1114.4L726.5,1115.5L728.8,1116.5L731.1,1117.7L733.4,1118.8L735.7,1119.9L738.0,1120.9L740.3,1121.9L742.6,1122.9L744.9,1123.7L747.2,1124.6L749.5,1125.5L751.8,1126.4L754.1,1127.2L756.4,1128.1L758.7,1129.0L761.0,1129.9L763.3,1130.8L765.6,1131.7L767.9,1132.5L770.2,1133.3L772.5,1134.0L774.8,1134.6L777.1,1135.3L779.4,1136.1L781.7,1136.9L784.0,1137.7L786.3,1138.3L788.6,1138.4L790.9,1138.2L793.2,1138.0L795.5,1138.1L797.8,1138.6L800.1,1139.3L802.4,1139.9L804.7,1140.5L807.0,1141.0L809.3,1141.4L811.6,1141.7L813.9,1141.9L816.2,1142.2L818.5,1142.3L820.8,1142.5L823.1,1142.6L825.4,1142.7" stroke="#8dc8ea" stroke-width="3.5"/>
<path d="M135.4,976.5L137.7,976.0L140.0,975.5L142.3,974.8L144.6,973.9L146.9,972.8L149.2,971.4L151.5,969.7L153.8,967.8L156.1,965.4L158.4,962.6L160.7,959.5L163.0,956.2L165.3,952.9L167.6,949.5L169.9,945.3L172.2,939.9L174.5,933.7L176.8,927.4L179.1,921.3L181.4,914.9L183.7,907.9L186.0,900.4L188.3,892.6L190.6,884.5L192.9,876.1L195.2,866.8L197.5,855.6L199.8,842.2L202.1,828.8L204.4,817.3L206.7,807.3L209.0,797.6L211.3,787.4L213.6,776.5L215.9,765.4L218.2,754.2L220.5,743.2L222.8,732.4L225.1,722.0L227.4,711.9L229.7,702.6L232.0,694.0L234.3,686.3L236.6,679.9L238.9,675.0L241.2,671.5L243.5,669.2L245.8,668.2L248.1,668.5L250.4,670.0L252.7,672.5L255.0,676.3L257.3,681.5L259.6,688.3L261.9,695.9L264.2,704.1L266.5,712.8L268.8,722.3L271.1,732.6L273.4,743.7L275.7,755.4L278.0,767.5L280.3,779.8L282.6,792.0L284.9,803.9L287.2,815.1L289.5,825.6L291.8,835.3L294.1,844.1L296.4,852.0L298.7,859.1L301.0,865.5L303.3,871.1L305.6,875.9L307.9,880.1L310.2,883.4L312.5,886.0L314.8,887.9L317.1,889.2L319.4,889.9L321.7,890.3L324.0,890.4L326.3,890.4L328.6,890.2L330.9,889.8L333.2,889.0L335.5,887.8L337.8,886.5L340.1,885.1L342.4,883.6L344.7,882.1L347.0,880.4L349.3,878.6L351.6,876.8L353.9,874.7L356.2,872.7L358.5,870.7L360.8,868.8L363.1,867.1L365.4,865.6L367.7,864.2L370.0,862.9L372.3,861.8L374.6,860.8L376.9,859.9L379.2,859.2L381.5,858.7L383.8,858.3L386.1,858.0L388.4,857.9L390.7,858.1L393.0,858.8L395.3,860.1L397.6,861.8L399.9,863.7L402.2,865.5L404.5,867.5L406.8,869.7L409.1,872.3L411.4,875.2L413.7,878.3L416.0,881.7L418.3,885.3L420.6,889.1L422.9,893.0L425.2,897.2L427.5,901.6L429.8,906.0L432.1,910.3L434.4,914.5L436.7,918.6L439.0,922.7L441.3,926.7L443.6,930.6L445.9,934.4L448.2,938.1L450.5,941.7L452.8,945.1L455.1,948.3L457.4,951.4L459.7,954.3L462.0,957.2L464.3,960.1L466.6,963.2L468.9,966.2L471.2,969.0L473.5,971.7L475.8,974.1L478.1,976.3L480.4,978.2L482.7,980.0L485.0,981.5L487.3,983.0L489.6,984.4L491.9,985.9L494.2,987.2L496.5,988.4L498.8,989.5L501.1,990.4L503.4,991.1L505.7,991.8L508.0,992.4L510.3,993.0L512.6,993.4L514.9,993.6L517.2,993.6L519.5,993.5L521.8,993.3L524.1,993.1L526.4,993.1L528.7,993.2L531.0,993.6L533.3,994.0L535.6,994.5L537.9,994.9L540.2,995.4L542.5,995.9L544.8,996.5L547.1,997.1L549.4,997.8L551.7,998.5L554.0,999.2L556.3,1000.0L558.6,1000.8L560.9,1001.6L563.2,1002.5L565.5,1003.5L567.8,1004.5L570.1,1005.6L572.4,1006.8L574.7,1008.1L577.0,1009.4L579.3,1010.7L581.6,1012.0L583.9,1013.4L586.2,1014.9L588.5,1016.4L590.8,1018.0L593.1,1019.8L595.4,1021.6L597.7,1023.5L600.0,1025.4L602.3,1027.3L604.6,1029.0L606.9,1030.7L609.2,1032.3L611.5,1033.9L613.8,1035.5L616.1,1037.2L618.4,1039.0L620.7,1040.9L623.0,1043.0L625.3,1045.2L627.6,1047.3L629.9,1049.4L632.2,1051.4L634.5,1053.4L636.8,1055.3L639.1,1057.2L641.4,1059.0L643.7,1060.8L646.0,1062.6L648.3,1064.4L650.6,1066.2L652.9,1068.0L655.2,1069.8L657.5,1071.6L659.8,1073.4L662.1,1075.2L664.4,1077.1L666.7,1078.9L669.0,1080.7L671.3,1082.5L673.6,1084.3L675.9,1086.1L678.2,1087.9L680.5,1089.7L682.8,1091.5L685.1,1093.4L687.4,1095.3L689.7,1097.0L692.0,1098.4L694.3,1099.2L696.6,1099.6L698.9,1099.9L701.2,1100.4L703.5,1101.3L705.8,1102.7L708.1,1104.3L710.4,1105.8L712.7,1107.3L715.0,1108.7L717.3,1110.0L719.6,1111.3L721.9,1112.4L724.2,1113.6L726.5,1114.7L728.8,1115.8L731.1,1117.0L733.4,1118.1L735.7,1119.2L738.0,1120.3L740.3,1121.3L742.6,1122.3L744.9,1123.2L747.2,1124.1L749.5,1125.0L751.8,1125.9L754.1,1126.7L756.4,1127.6L758.7,1128.6L761.0,1129.5L763.3,1130.4L765.6,1131.3L767.9,1132.1L770.2,1132.9L772.5,1133.7L774.8,1134.3L777.1,1135.0L779.4,1135.8L781.7,1136.7L784.0,1137.5L786.3,1138.1L788.6,1138.2L790.9,1137.9L793.2,1137.7L795.5,1137.9L797.8,1138.4L800.1,1139.1L802.4,1139.7L804.7,1140.3L807.0,1140.8L809.3,1141.2L811.6,1141.6L813.9,1141.8L816.2,1142.0L818.5,1142.2L820.8,1142.4L823.1,1142.5L825.4,1142.6" stroke="#8dc8ea" stroke-width="3.5"/>
<path d="M135.4,977.1L137.7,976.7L140.0,976.2L142.3,975.5L144.6,974.6L146.9,973.5L149.2,972.2L151.5,970.5L153.8,968.6L156.1,966.2L158.4,963.4L160.7,960.3L163.0,957.1L165.3,953.8L167.6,950.4L169.9,946.2L172.2,940.9L174.5,934.8L176.8,928.5L179.1,922.4L181.4,916.1L183.7,909.2L186.0,901.8L188.3,894.0L190.6,886.0L192.9,877.7L195.2,868.5L197.5,857.4L199.8,844.1L202.1,830.8L204.4,819.4L206.7,809.5L209.0,800.0L211.3,790.0L213.6,779.4L215.9,768.4L218.2,757.5L220.5,746.7L222.8,736.1L225.1,725.7L227.4,715.9L229.7,706.7L232.0,698.3L234.3,690.7L236.6,684.4L238.9,679.5L241.2,675.9L243.5,673.6L245.8,672.5L248.1,672.6L250.4,673.9L252.7,676.2L255.0,679.7L257.3,684.7L259.6,691.1L261.9,698.4L264.2,706.3L266.5,714.7L268.8,723.9L271.1,733.8L273.4,744.7L275.7,756.1L278.0,768.0L280.3,780.1L282.6,792.2L284.9,803.9L287.2,815.0L289.5,825.4L291.8,834.9L294.1,843.7L296.4,851.6L298.7,858.8L301.0,865.1L303.3,870.7L305.6,875.6L307.9,879.7L310.2,883.1L312.5,885.7L314.8,887.6L317.1,888.9L319.4,889.6L321.7,890.0L324.0,890.2L326.3,890.2L328.6,890.0L330.9,889.6L333.2,888.8L335.5,887.7L337.8,886.3L340.1,884.9L342.4,883.5L344.7,881.9L347.0,880.2L349.3,878.5L351.6,876.6L353.9,874.6L356.2,872.5L358.5,870.4L360.8,868.6L363.1,866.8L365.4,865.3L367.7,863.8L370.0,862.6L372.3,861.4L374.6,860.4L376.9,859.5L379.2,858.7L381.5,858.1L383.8,857.7L386.1,857.4L388.4,857.3L390.7,857.4L393.0,858.0L395.3,859.3L397.6,861.0L399.9,862.8L402.2,864.7L404.5,866.6L406.8,868.8L409.1,871.4L411.4,874.3L413.7,877.5L416.0,881.0L418.3,884.6L420.6,888.3L422.9,892.3L425.2,896.6L427.5,901.0L429.8,905.5L432.1,909.8L434.4,914.0L436.7,918.2L439.0,922.4L441.3,926.5L443.6,930.4L445.9,934.3L448.2,938.0L450.5,941.6L452.8,945.1L455.1,948.4L457.4,951.4L459.7,954.4L462.0,957.3L464.3,960.3L466.6,963.3L468.9,966.4L471.2,969.3L473.5,971.9L475.8,974.4L478.1,976.6L480.4,978.5L482.7,980.3L485.0,981.8L487.3,983.3L489.6,984.8L491.9,986.2L494.2,987.5L496.5,988.7L498.8,989.7L501.1,990.6L503.4,991.3L505.7,992.0L508.0,992.6L510.3,993.1L512.6,993.4L514.9,993.6L517.2,993.6L519.5,993.5L521.8,993.2L524.1,993.0L526.4,992.9L528.7,993.0L531.0,993.3L533.3,993.7L535.6,994.1L537.9,994.5L540.2,994.9L542.5,995.4L544.8,995.9L547.1,996.5L549.4,997.1L551.7,997.7L554.0,998.4L556.3,999.2L558.6,999.9L560.9,1000.8L563.2,1001.6L565.5,1002.6L567.8,1003.6L570.1,1004.7L572.4,1005.8L574.7,1007.0L577.0,1008.3L579.3,1009.6L581.6,1010.9L583.9,1012.3L586.2,1013.7L588.5,1015.3L590.8,1016.9L593.1,1018.6L595.4,1020.4L597.7,1022.3L600.0,1024.2L602.3,1026.1L604.6,1027.8L606.9,1029.5L609.2,1031.1L611.5,1032.7L613.8,1034.3L616.1,1036.0L618.4,1037.8L620.7,1039.8L623.0,1041.9L625.3,1044.0L627.6,1046.2L629.9,1048.3L632.2,1050.3L634.5,1052.3L636.8,1054.2L639.1,1056.1L641.4,1057.9L643.7,1059.7L646.0,1061.5L648.3,1063.4L650.6,1065.2L652.9,1067.0L655.2,1068.9L657.5,1070.7L659.8,1072.5L662.1,1074.3L664.4,1076.2L666.7,1078.0L669.0,1079.8L671.3,1081.6L673.6,1083.5L675.9,1085.3L678.2,1087.1L680.5,1089.0L682.8,1090.8L685.1,1092.7L687.4,1094.6L689.7,1096.4L692.0,1097.8L694.3,1098.6L696.6,1099.0L698.9,1099.3L701.2,1099.8L703.5,1100.7L705.8,1102.1L708.1,1103.7L710.4,1105.3L712.7,1106.8L715.0,1108.2L717.3,1109.5L719.6,1110.8L721.9,1112.0L724.2,1113.1L726.5,1114.3L728.8,1115.4L731.1,1116.5L733.4,1117.7L735.7,1118.8L738.0,1119.9L740.3,1121.0L742.6,1121.9L744.9,1122.9L747.2,1123.7L749.5,1124.6L751.8,1125.6L754.1,1126.5L756.4,1127.4L758.7,1128.3L761.0,1129.2L763.3,1130.1L765.6,1131.1L767.9,1131.9L770.2,1132.7L772.5,1133.5L774.8,1134.2L777.1,1134.9L779.4,1135.6L781.7,1136.5L784.0,1137.4L786.3,1137.9L788.6,1138.1L790.9,1137.8L793.2,1137.6L795.5,1137.8L797.8,1138.3L800.1,1139.0L802.4,1139.6L804.7,1140.2L807.0,1140.7L809.3,1141.1L811.6,1141.5L813.9,1141.7L816.2,1142.0L818.5,1142.2L820.8,1142.3L823.1,1142.4L825.4,1142.5" stroke="#8dc8ea" stroke-width="3.5"/>
<path d="M135.4,887.5L137.7,884.7L140.0,881.3L142.3,877.0L144.6,871.9L146.9,865.9L149.2,858.8L151.5,850.4L153.8,840.8L156.1,830.2L158.4,818.9L160.7,807.5L163.0,796.4L165.3,785.9L167.6,775.7L169.9,765.8L172.2,755.9L174.5,746.0L176.8,736.0L179.1,726.2L181.4,716.8L183.7,708.1L186.0,700.2L188.3,693.6L190.6,688.7L192.9,685.5L195.2,684.0L197.5,684.1L199.8,685.9L202.1,688.9L204.4,693.2L206.7,698.7L209.0,704.9L211.3,711.6L213.6,718.7L215.9,726.5L218.2,735.4L220.5,745.7L222.8,757.3L225.1,769.9L227.4,783.4L229.7,797.7L232.0,812.6L234.3,827.4L236.6,841.2L238.9,853.8L241.2,865.5L243.5,876.6L245.8,887.0L248.1,896.2L250.4,904.0L252.7,910.3L255.0,915.5L257.3,919.7L259.6,922.8L261.9,925.0L264.2,926.5L266.5,927.6L268.8,928.1L271.1,928.2L273.4,927.9L275.7,927.4L278.0,926.7L280.3,925.9L282.6,924.9L284.9,923.5L287.2,921.7L289.5,919.5L291.8,916.9L294.1,914.1L296.4,911.3L298.7,908.6L301.0,906.3L303.3,904.4L305.6,903.0L307.9,902.0L310.2,901.5L312.5,901.4L314.8,901.6L317.1,901.9L319.4,902.4L321.7,902.9L324.0,903.5L326.3,904.1L328.6,904.8L330.9,905.5L333.2,906.5L335.5,907.9L337.8,910.1L340.1,913.2L342.4,917.2L344.7,922.1L347.0,927.6L349.3,933.2L351.6,938.5L353.9,943.3L356.2,947.7L358.5,952.1L360.8,956.5L363.1,961.0L365.4,965.4L367.7,969.6L370.0,973.8L372.3,977.9L374.6,981.9L376.9,985.9L379.2,989.8L381.5,993.5L383.8,997.0L386.1,1000.3L388.4,1003.4L390.7,1006.6L393.0,1009.8L395.3,1013.0L397.6,1016.2L399.9,1019.4L402.2,1022.6L404.5,1025.8L406.8,1029.1L409.1,1032.3L411.4,1035.5L413.7,1038.7L416.0,1041.9L418.3,1045.2L420.6,1048.4L422.9,1051.6L425.2,1054.8L427.5,1058.0L429.8,1061.3L432.1,1064.5L434.4,1067.7L436.7,1070.9L439.0,1074.2L441.3,1077.4L443.6,1080.7L445.9,1083.9L448.2,1087.1L450.5,1090.2L452.8,1093.1L455.1,1096.0L457.4,1098.7L459.7,1101.3L462.0,1103.9L464.3,1106.3L466.6,1108.7L468.9,1110.8L471.2,1112.7L473.5,1114.5L475.8,1116.2L478.1,1118.2L480.4,1120.2L482.7,1122.3L485.0,1124.4L487.3,1126.4L489.6,1128.3L491.9,1130.1L494.2,1131.8L496.5,1133.2L498.8,1134.5L501.1,1135.6L503.4,1136.7L505.7,1137.7L508.0,1138.7L510.3,1139.7L512.6,1140.6L514.9,1141.4L517.2,1142.1L519.5,1142.7L521.8,1143.3L524.1,1143.8L526.4,1144.3L528.7,1144.7L531.0,1145.0L533.3,1145.3L535.6,1145.5L537.9,1145.7L540.2,1146.0L542.5,1146.2L544.8,1146.3L547.1,1146.5L549.4,1146.6L551.7,1146.7L554.0,1146.7L556.3,1146.7L558.6,1146.7L560.9,1146.7L563.2,1146.7L565.5,1146.7L567.8,1146.7L570.1,1146.7L572.4,1146.7L574.7,1146.7L577.0,1146.7L579.3,1146.7L581.6,1146.7L583.9,1146.7L586.2,1146.7L588.5,1146.7L590.8,1146.7L593.1,1146.7L595.4,1146.7L597.7,1146.7L600.0,1146.7L602.3,1146.7L604.6,1146.7L606.9,1146.7L609.2,1146.7L611.5,1146.7L613.8,1146.7L616.1,1146.7L618.4,1146.7L620.7,1146.7L623.0,1146.7L625.3,1146.7L627.6,1146.7L629.9,1146.7L632.2,1146.7L634.5,1146.7L636.8,1146.7L639.1,1146.7L641.4,1146.7L643.7,1146.7L646.0,1146.7L648.3,1146.7L650.6,1146.7L652.9,1146.7L655.2,1146.7L657.5,1146.7L659.8,1146.7L662.1,1146.7L664.4,1146.7L666.7,1146.7L669.0,1146.7L671.3,1146.7L673.6,1146.7L675.9,1146.7L678.2,1146.7L680.5,1146.7L682.8,1146.7L685.1,1146.7L687.4,1146.7L689.7,1146.7L692.0,1146.7L694.3,1146.7L696.6,1146.7L698.9,1146.7L701.2,1146.7L703.5,1146.7L705.8,1146.7L708.1,1146.7L710.4,1146.7L712.7,1146.7L715.0,1146.7L717.3,1146.7L719.6,1146.7L721.9,1146.7L724.2,1146.7L726.5,1146.7L728.8,1146.7L731.1,1146.7L733.4,1146.7L735.7,1146.7L738.0,1146.7L740.3,1146.7L742.6,1146.7L744.9,1146.7L747.2,1146.7L749.5,1146.7L751.8,1146.7L754.1,1146.7L756.4,1146.7L758.7,1146.7L761.0,1146.7L763.3,1146.7L765.6,1146.7L767.9,1146.7L770.2,1146.7L772.5,1146.7L774.8,1146.7L777.1,1146.7L779.4,1146.7L781.7,1146.7L784.0,1146.7L786.3,1146.7L788.6,1146.7L790.9,1146.7L793.2,1146.7L795.5,1146.7L797.8,1146.7L800.1,1146.7L802.4,1146.7L804.7,1146.7L807.0,1146.7L809.3,1146.7L811.6,1146.7L813.9,1146.7L816.2,1146.7L818.5,1146.7L820.8,1146.7L823.1,1146.7L825.4,1146.7" stroke="#000000" stroke-width="4.0"/>
<path d="M135.4,936.1L137.7,933.9L140.0,931.5L142.3,929.1L144.6,926.5L146.9,923.8L149.2,921.1L151.5,918.2L153.8,915.2L156.1,911.9L158.4,908.5L160.7,904.7L163.0,900.6L165.3,896.1L167.6,891.1L169.9,885.5L172.2,878.8L174.5,871.1L176.8,862.7L179.1,854.3L181.4,846.1L183.7,838.2L186.0,830.4L188.3,822.5L190.6,814.5L192.9,806.3L195.2,798.0L197.5,789.7L199.8,781.6L202.1,773.6L204.4,765.9L206.7,758.6L209.0,751.8L211.3,745.7L213.6,740.2L215.9,735.5L218.2,731.9L220.5,729.3L222.8,727.8L225.1,727.4L227.4,728.0L229.7,729.4L232.0,731.8L234.3,735.1L236.6,739.3L238.9,744.2L241.2,749.8L243.5,756.2L245.8,763.5L248.1,771.6L250.4,780.5L252.7,789.9L255.0,799.6L257.3,809.3L259.6,819.1L261.9,828.6L264.2,837.8L266.5,846.5L268.8,854.9L271.1,862.9L273.4,870.5L275.7,877.9L278.0,885.4L280.3,893.0L282.6,900.3L284.9,906.5L287.2,911.5L289.5,915.0L291.8,917.0L294.1,918.1L296.4,918.6L298.7,918.8L301.0,919.0L303.3,918.9L305.6,918.6L307.9,918.1L310.2,917.5L312.5,916.7L314.8,915.8L317.1,914.6L319.4,913.2L321.7,911.6L324.0,909.9L326.3,908.1L328.6,906.3L330.9,904.5L333.2,902.7L335.5,901.0L337.8,899.2L340.1,897.3L342.4,895.3L344.7,893.3L347.0,891.3L349.3,889.4L351.6,887.7L353.9,886.3L356.2,885.2L358.5,884.5L360.8,884.0L363.1,883.8L365.4,883.9L367.7,884.2L370.0,884.9L372.3,885.9L374.6,887.3L376.9,889.1L379.2,891.2L381.5,893.5L383.8,896.0L386.1,898.6L388.4,901.5L390.7,904.7L393.0,908.0L395.3,911.3L397.6,914.6L399.9,917.5L402.2,920.2L404.5,922.7L406.8,924.9L409.1,927.0L411.4,928.9L413.7,930.6L416.0,932.3L418.3,933.8L420.6,935.4L422.9,936.9L425.2,938.3L427.5,939.6L429.8,940.8L432.1,941.7L434.4,942.6L436.7,943.2L439.0,943.8L441.3,944.3L443.6,944.8L445.9,945.3L448.2,945.9L450.5,946.5L452.8,947.2L455.1,947.8L457.4,948.3L459.7,948.9L462.0,949.4L464.3,950.1L466.6,950.9L468.9,951.9L471.2,953.0L473.5,954.3L475.8,955.6L478.1,956.8L480.4,958.1L482.7,959.4L485.0,960.9L487.3,962.5L489.6,964.3L491.9,966.4L494.2,968.9L496.5,971.6L498.8,974.1L501.1,976.4L503.4,978.6L505.7,980.9L508.0,983.3L510.3,985.8L512.6,988.4L514.9,991.0L517.2,993.8L519.5,996.7L521.8,999.7L524.1,1002.9L526.4,1006.3L528.7,1009.8L531.0,1013.5L533.3,1017.3L535.6,1021.0L537.9,1024.7L540.2,1028.5L542.5,1032.1L544.8,1035.6L547.1,1039.0L549.4,1042.3L551.7,1045.5L554.0,1048.7L556.3,1051.9L558.6,1055.2L560.9,1058.4L563.2,1061.6L565.5,1064.6L567.8,1067.5L570.1,1070.3L572.4,1073.1L574.7,1075.8L577.0,1078.6L579.3,1081.4L581.6,1084.1L583.9,1086.8L586.2,1089.3L588.5,1091.7L590.8,1094.0L593.1,1096.3L595.4,1098.6L597.7,1101.0L600.0,1103.4L602.3,1105.6L604.6,1107.7L606.9,1109.4L609.2,1110.9L611.5,1112.3L613.8,1113.6L616.1,1115.0L618.4,1116.3L620.7,1117.7L623.0,1119.1L625.3,1120.4L627.6,1121.6L629.9,1122.8L632.2,1124.0L634.5,1125.0L636.8,1126.1L639.1,1127.0L641.4,1128.0L643.7,1128.8L646.0,1129.6L648.3,1130.4L650.6,1131.1L652.9,1131.8L655.2,1132.4L657.5,1133.1L659.8,1133.8L662.1,1134.5L664.4,1135.2L666.7,1135.7L669.0,1136.2L671.3,1136.7L673.6,1137.1L675.9,1137.6L678.2,1138.1L680.5,1138.6L682.8,1139.0L685.1,1139.4L687.4,1139.7L689.7,1139.9L692.0,1140.2L694.3,1140.4L696.6,1140.6L698.9,1140.9L701.2,1141.2L703.5,1141.5L705.8,1141.8L708.1,1142.0L710.4,1142.3L712.7,1142.6L715.0,1142.8L717.3,1143.1L719.6,1143.3L721.9,1143.5L724.2,1143.7L726.5,1143.8L728.8,1144.0L731.1,1144.2L733.4,1144.3L735.7,1144.5L738.0,1144.6L740.3,1144.8L742.6,1144.9L744.9,1145.0L747.2,1145.1L749.5,1145.2L751.8,1145.3L754.1,1145.4L756.4,1145.5L758.7,1145.6L761.0,1145.7L763.3,1145.8L765.6,1145.8L767.9,1145.9L770.2,1146.0L772.5,1146.0L774.8,1146.1L777.1,1146.1L779.4,1146.1L781.7,1146.2L784.0,1146.2L786.3,1146.2L788.6,1146.3L790.9,1146.3L793.2,1146.3L795.5,1146.3L797.8,1146.4L800.1,1146.4L802.4,1146.4L804.7,1146.4L807.0,1146.4L809.3,1146.4L811.6,1146.5L813.9,1146.5L816.2,1146.5L818.5,1146.5L820.8,1146.5L823.1,1146.5L825.4,1146.5" stroke="#3f4fa2" stroke-width="4.0"/>
<path d="M135.4,977.5L137.7,977.1L140.0,976.6L142.3,975.9L144.6,975.1L146.9,974.0L149.2,972.7L151.5,971.1L153.8,969.1L156.1,966.8L158.4,964.0L160.7,960.9L163.0,957.6L165.3,954.4L167.6,951.0L169.9,946.9L172.2,941.6L174.5,935.4L176.8,929.2L179.1,923.1L181.4,916.8L183.7,909.9L186.0,902.5L188.3,894.8L190.6,886.7L192.9,878.4L195.2,869.2L197.5,858.1L199.8,844.7L202.1,831.4L204.4,819.9L206.7,810.1L209.0,800.5L211.3,790.5L213.6,779.8L215.9,768.7L218.2,757.7L220.5,746.8L222.8,736.1L225.1,725.7L227.4,715.8L229.7,706.5L232.0,697.9L234.3,690.2L236.6,683.8L238.9,678.8L241.2,675.2L243.5,672.8L245.8,671.6L248.1,671.6L250.4,672.9L252.7,675.1L255.0,678.5L257.3,683.5L259.6,689.8L261.9,697.1L264.2,705.0L266.5,713.4L268.8,722.6L271.1,732.5L273.4,743.4L275.7,754.9L278.0,766.8L280.3,779.0L282.6,791.1L284.9,802.8L287.2,814.0L289.5,824.4L291.8,834.1L294.1,843.0L296.4,851.0L298.7,858.2L301.0,864.6L303.3,870.2L305.6,875.2L307.9,879.4L310.2,882.7L312.5,885.3L314.8,887.3L317.1,888.6L319.4,889.4L321.7,889.8L324.0,890.0L326.3,890.0L328.6,889.8L330.9,889.4L333.2,888.6L335.5,887.5L337.8,886.2L340.1,884.8L342.4,883.3L344.7,881.8L347.0,880.1L349.3,878.4L351.6,876.5L353.9,874.4L356.2,872.3L358.5,870.3L360.8,868.4L363.1,866.7L365.4,865.1L367.7,863.6L370.0,862.3L372.3,861.2L374.6,860.1L376.9,859.2L379.2,858.4L381.5,857.8L383.8,857.3L386.1,857.0L388.4,856.8L390.7,856.9L393.0,857.5L395.3,858.8L397.6,860.5L399.9,862.3L402.2,864.1L404.5,866.0L406.8,868.3L409.1,870.9L411.4,873.8L413.7,877.0L416.0,880.5L418.3,884.1L420.6,887.9L422.9,891.9L425.2,896.2L427.5,900.6L429.8,905.1L432.1,909.5L434.4,913.7L436.7,918.0L439.0,922.2L441.3,926.3L443.6,930.3L445.9,934.1L448.2,937.9L450.5,941.5L452.8,945.1L455.1,948.4L457.4,951.5L459.7,954.5L462.0,957.4L464.3,960.4L466.6,963.5L468.9,966.5L471.2,969.4L473.5,972.1L475.8,974.6L478.1,976.8L480.4,978.7L482.7,980.5L485.0,982.1L487.3,983.5L489.6,985.0L491.9,986.4L494.2,987.7L496.5,988.9L498.8,989.9L501.1,990.7L503.4,991.5L505.7,992.1L508.0,992.7L510.3,993.1L512.6,993.5L514.9,993.7L517.2,993.6L519.5,993.4L521.8,993.1L524.1,992.9L526.4,992.7L528.7,992.8L531.0,993.1L533.3,993.4L535.6,993.8L537.9,994.2L540.2,994.6L542.5,995.0L544.8,995.5L547.1,996.0L549.4,996.6L551.7,997.3L554.0,997.9L556.3,998.6L558.6,999.4L560.9,1000.2L563.2,1001.0L565.5,1001.9L567.8,1002.9L570.1,1004.0L572.4,1005.1L574.7,1006.3L577.0,1007.6L579.3,1008.9L581.6,1010.2L583.9,1011.5L586.2,1013.0L588.5,1014.5L590.8,1016.1L593.1,1017.8L595.4,1019.7L597.7,1021.5L600.0,1023.4L602.3,1025.2L604.6,1027.0L606.9,1028.7L609.2,1030.3L611.5,1031.9L613.8,1033.5L616.1,1035.2L618.4,1037.0L620.7,1039.0L623.0,1041.1L625.3,1043.2L627.6,1045.4L629.9,1047.5L632.2,1049.6L634.5,1051.6L636.8,1053.5L639.1,1055.4L641.4,1057.2L643.7,1059.0L646.0,1060.9L648.3,1062.7L650.6,1064.5L652.9,1066.4L655.2,1068.2L657.5,1070.0L659.8,1071.9L662.1,1073.7L664.4,1075.6L666.7,1077.4L669.0,1079.2L671.3,1081.1L673.6,1082.9L675.9,1084.8L678.2,1086.6L680.5,1088.5L682.8,1090.3L685.1,1092.2L687.4,1094.1L689.7,1095.9L692.0,1097.3L694.3,1098.2L696.6,1098.6L698.9,1098.9L701.2,1099.4L703.5,1100.3L705.8,1101.7L708.1,1103.3L710.4,1104.9L712.7,1106.4L715.0,1107.8L717.3,1109.1L719.6,1110.4L721.9,1111.6L724.2,1112.8L726.5,1114.0L728.8,1115.1L731.1,1116.3L733.4,1117.4L735.7,1118.6L738.0,1119.7L740.3,1120.7L742.6,1121.7L744.9,1122.6L747.2,1123.5L749.5,1124.4L751.8,1125.4L754.1,1126.3L756.4,1127.2L758.7,1128.1L761.0,1129.1L763.3,1130.0L765.6,1130.9L767.9,1131.8L770.2,1132.6L772.5,1133.3L774.8,1134.0L777.1,1134.7L779.4,1135.5L781.7,1136.4L784.0,1137.3L786.3,1137.9L788.6,1138.0L790.9,1137.7L793.2,1137.5L795.5,1137.7L797.8,1138.2L800.1,1138.9L802.4,1139.6L804.7,1140.2L807.0,1140.7L809.3,1141.1L811.6,1141.4L813.9,1141.7L816.2,1141.9L818.5,1142.1L820.8,1142.3L823.1,1142.4L825.4,1142.5" stroke="#9a1d86" stroke-width="3.8"/>
</g>
<line x1="135.40" y1="1096.00" x2="147.10" y2="1096.00" stroke="#000" stroke-width="4.0" stroke-linecap="butt"/>
<line x1="135.40" y1="1044.25" x2="154.90" y2="1044.25" stroke="#000" stroke-width="4.0" stroke-linecap="butt"/>
<line x1="135.40" y1="992.50" x2="147.10" y2="992.50" stroke="#000" stroke-width="4.0" stroke-linecap="butt"/>
<line x1="135.40" y1="940.75" x2="154.90" y2="940.75" stroke="#000" stroke-width="4.0" stroke-linecap="butt"/>
<line x1="135.40" y1="889.00" x2="147.10" y2="889.00" stroke="#000" stroke-width="4.0" stroke-linecap="butt"/>
<line x1="135.40" y1="837.25" x2="154.90" y2="837.25" stroke="#000" stroke-width="4.0" stroke-linecap="butt"/>
<line x1="135.40" y1="785.50" x2="147.10" y2="785.50" stroke="#000" stroke-width="4.0" stroke-linecap="butt"/>
<line x1="135.40" y1="733.75" x2="154.90" y2="733.75" stroke="#000" stroke-width="4.0" stroke-linecap="butt"/>
<line x1="135.40" y1="682.00" x2="147.10" y2="682.00" stroke="#000" stroke-width="4.0" stroke-linecap="butt"/>
<line x1="158.40" y1="1147.75" x2="158.40" y2="1136.05" stroke="#000" stroke-width="4.0" stroke-linecap="butt"/>
<line x1="181.40" y1="1147.75" x2="181.40" y2="1136.05" stroke="#000" stroke-width="4.0" stroke-linecap="butt"/>
<line x1="204.40" y1="1147.75" x2="204.40" y2="1136.05" stroke="#000" stroke-width="4.0" stroke-linecap="butt"/>
<line x1="227.40" y1="1147.75" x2="227.40" y2="1136.05" stroke="#000" stroke-width="4.0" stroke-linecap="butt"/>
<line x1="250.40" y1="1147.75" x2="250.40" y2="1128.25" stroke="#000" stroke-width="4.0" stroke-linecap="butt"/>
<line x1="273.40" y1="1147.75" x2="273.40" y2="1136.05" stroke="#000" stroke-width="4.0" stroke-linecap="butt"/>
<line x1="296.40" y1="1147.75" x2="296.40" y2="1136.05" stroke="#000" stroke-width="4.0" stroke-linecap="butt"/>
<line x1="319.40" y1="1147.75" x2="319.40" y2="1136.05" stroke="#000" stroke-width="4.0" stroke-linecap="butt"/>
<line x1="342.40" y1="1147.75" x2="342.40" y2="1136.05" stroke="#000" stroke-width="4.0" stroke-linecap="butt"/>
<line x1="365.40" y1="1147.75" x2="365.40" y2="1128.25" stroke="#000" stroke-width="4.0" stroke-linecap="butt"/>
<line x1="388.40" y1="1147.75" x2="388.40" y2="1136.05" stroke="#000" stroke-width="4.0" stroke-linecap="butt"/>
<line x1="411.40" y1="1147.75" x2="411.40" y2="1136.05" stroke="#000" stroke-width="4.0" stroke-linecap="butt"/>
<line x1="434.40" y1="1147.75" x2="434.40" y2="1136.05" stroke="#000" stroke-width="4.0" stroke-linecap="butt"/>
<line x1="457.40" y1="1147.75" x2="457.40" y2="1136.05" stroke="#000" stroke-width="4.0" stroke-linecap="butt"/>
<line x1="480.40" y1="1147.75" x2="480.40" y2="1128.25" stroke="#000" stroke-width="4.0" stroke-linecap="butt"/>
<line x1="503.40" y1="1147.75" x2="503.40" y2="1136.05" stroke="#000" stroke-width="4.0" stroke-linecap="butt"/>
<line x1="526.40" y1="1147.75" x2="526.40" y2="1136.05" stroke="#000" stroke-width="4.0" stroke-linecap="butt"/>
<line x1="549.40" y1="1147.75" x2="549.40" y2="1136.05" stroke="#000" stroke-width="4.0" stroke-linecap="butt"/>
<line x1="572.40" y1="1147.75" x2="572.40" y2="1136.05" stroke="#000" stroke-width="4.0" stroke-linecap="butt"/>
<line x1="595.40" y1="1147.75" x2="595.40" y2="1128.25" stroke="#000" stroke-width="4.0" stroke-linecap="butt"/>
<line x1="618.40" y1="1147.75" x2="618.40" y2="1136.05" stroke="#000" stroke-width="4.0" stroke-linecap="butt"/>
<line x1="641.40" y1="1147.75" x2="641.40" y2="1136.05" stroke="#000" stroke-width="4.0" stroke-linecap="butt"/>
<line x1="664.40" y1="1147.75" x2="664.40" y2="1136.05" stroke="#000" stroke-width="4.0" stroke-linecap="butt"/>
<line x1="687.40" y1="1147.75" x2="687.40" y2="1136.05" stroke="#000" stroke-width="4.0" stroke-linecap="butt"/>
<line x1="710.40" y1="1147.75" x2="710.40" y2="1128.25" stroke="#000" stroke-width="4.0" stroke-linecap="butt"/>
<line x1="733.40" y1="1147.75" x2="733.40" y2="1136.05" stroke="#000" stroke-width="4.0" stroke-linecap="butt"/>
<line x1="756.40" y1="1147.75" x2="756.40" y2="1136.05" stroke="#000" stroke-width="4.0" stroke-linecap="butt"/>
<line x1="779.40" y1="1147.75" x2="779.40" y2="1136.05" stroke="#000" stroke-width="4.0" stroke-linecap="butt"/>
<line x1="802.40" y1="1147.75" x2="802.40" y2="1136.05" stroke="#000" stroke-width="4.0" stroke-linecap="butt"/>
<rect x="135.4" y="630.1" width="690.10" height="517.65" fill="none" stroke="#000" stroke-width="4.17"/>
<text transform="translate(120.30,1159.25) scale(1,0.975)" font-size="33.33" fill="#000" text-anchor="end">0.0</text>
<text transform="translate(120.30,1054.65) scale(1,0.975)" font-size="33.33" fill="#000" text-anchor="end">0.2</text>
<text transform="translate(120.30,951.15) scale(1,0.975)" font-size="33.33" fill="#000" text-anchor="end">0.4</text>
<text transform="translate(120.30,847.65) scale(1,0.975)" font-size="33.33" fill="#000" text-anchor="end">0.6</text>
<text transform="translate(120.30,744.15) scale(1,0.975)" font-size="33.33" fill="#000" text-anchor="end">0.8</text>
<text transform="translate(120.30,644.85) scale(1,0.975)" font-size="33.33" fill="#000" text-anchor="end">1.0</text>
<text transform="translate(137.40,1193.80) scale(1,0.975)" font-size="33.33" fill="#000" text-anchor="middle">250</text>
<text transform="translate(250.40,1193.80) scale(1,0.975)" font-size="33.33" fill="#000" text-anchor="middle">300</text>
<text transform="translate(365.40,1193.80) scale(1,0.975)" font-size="33.33" fill="#000" text-anchor="middle">350</text>
<text transform="translate(480.40,1193.80) scale(1,0.975)" font-size="33.33" fill="#000" text-anchor="middle">400</text>
<text transform="translate(595.40,1193.80) scale(1,0.975)" font-size="33.33" fill="#000" text-anchor="middle">450</text>
<text transform="translate(710.40,1193.80) scale(1,0.975)" font-size="33.33" fill="#000" text-anchor="middle">500</text>
<text transform="translate(825.40,1193.80) scale(1,0.975)" font-size="33.33" fill="#000" text-anchor="middle">550</text>
<text transform="translate(452.80,1249.80) scale(1,1.06)" font-size="33.33" fill="#000" text-anchor="middle">Wavelength (nm)</text>
<text transform="translate(37.5,889) rotate(-90) scale(1,1.06)" font-size="33.33" text-anchor="middle">Absorbance (abs.)</text>
<circle cx="291.34" cy="917.72" r="5.85" fill="#fff" stroke="#3f4fa2" stroke-width="4.0"/>
<circle cx="455.10" cy="948.20" r="5.85" fill="#fff" stroke="#000" stroke-width="4.1"/>
<text transform="translate(494.00,706.70) scale(1,1.06)" font-size="33.33" fill="#000000">pH 3.1</text>
<text transform="translate(619.50,706.70) scale(1,1.06)" font-size="33.33" fill="#000000">(DNQX)</text>
<text transform="translate(494.00,758.50) scale(1,1.06)" font-size="33.33" fill="#3f4fa2">pH 8.5</text>
<text transform="translate(619.50,758.50) scale(1,1.06)" font-size="33.33" fill="#3f4fa2">(DNQX<tspan font-size="23.33" dy="-10.85">–</tspan><tspan dy="10.85">)</tspan></text>
<text transform="translate(494.00,811.50) scale(1,1.06)" font-size="33.33" fill="#9a1d86">pH 11.9</text>
<text transform="translate(617.00,811.50) scale(1,1.06)" font-size="33.33" fill="#9a1d86">(DNQX<tspan font-size="23.33" dy="-10.85">2–</tspan><tspan dy="10.85">)</tspan></text>
<clipPath id="clipC"><rect x="1058.4" y="630.1" width="690.70" height="517.90"/></clipPath>
<line x1="1096.78" y1="1148.00" x2="1096.78" y2="1135.80" stroke="#000" stroke-width="4.0" stroke-linecap="butt"/>
<line x1="1096.78" y1="630.10" x2="1096.78" y2="642.30" stroke="#000" stroke-width="4.0" stroke-linecap="butt"/>
<line x1="1135.15" y1="1148.00" x2="1135.15" y2="1127.80" stroke="#000" stroke-width="4.0" stroke-linecap="butt"/>
<line x1="1135.15" y1="630.10" x2="1135.15" y2="650.30" stroke="#000" stroke-width="4.0" stroke-linecap="butt"/>
<line x1="1173.53" y1="1148.00" x2="1173.53" y2="1135.80" stroke="#000" stroke-width="4.0" stroke-linecap="butt"/>
<line x1="1173.53" y1="630.10" x2="1173.53" y2="642.30" stroke="#000" stroke-width="4.0" stroke-linecap="butt"/>
<line x1="1211.90" y1="1148.00" x2="1211.90" y2="1127.80" stroke="#000" stroke-width="4.0" stroke-linecap="butt"/>
<line x1="1211.90" y1="630.10" x2="1211.90" y2="650.30" stroke="#000" stroke-width="4.0" stroke-linecap="butt"/>
<line x1="1250.28" y1="1148.00" x2="1250.28" y2="1135.80" stroke="#000" stroke-width="4.0" stroke-linecap="butt"/>
<line x1="1250.28" y1="630.10" x2="1250.28" y2="642.30" stroke="#000" stroke-width="4.0" stroke-linecap="butt"/>
<line x1="1288.65" y1="1148.00" x2="1288.65" y2="1127.80" stroke="#000" stroke-width="4.0" stroke-linecap="butt"/>
<line x1="1288.65" y1="630.10" x2="1288.65" y2="650.30" stroke="#000" stroke-width="4.0" stroke-linecap="butt"/>
<line x1="1327.03" y1="1148.00" x2="1327.03" y2="1135.80" stroke="#000" stroke-width="4.0" stroke-linecap="butt"/>
<line x1="1327.03" y1="630.10" x2="1327.03" y2="642.30" stroke="#000" stroke-width="4.0" stroke-linecap="butt"/>
<line x1="1365.40" y1="1148.00" x2="1365.40" y2="1127.80" stroke="#000" stroke-width="4.0" stroke-linecap="butt"/>
<line x1="1365.40" y1="630.10" x2="1365.40" y2="650.30" stroke="#000" stroke-width="4.0" stroke-linecap="butt"/>
<line x1="1403.78" y1="1148.00" x2="1403.78" y2="1135.80" stroke="#000" stroke-width="4.0" stroke-linecap="butt"/>
<line x1="1403.78" y1="630.10" x2="1403.78" y2="642.30" stroke="#000" stroke-width="4.0" stroke-linecap="butt"/>
<line x1="1442.15" y1="1148.00" x2="1442.15" y2="1127.80" stroke="#000" stroke-width="4.0" stroke-linecap="butt"/>
<line x1="1442.15" y1="630.10" x2="1442.15" y2="650.30" stroke="#000" stroke-width="4.0" stroke-linecap="butt"/>
<line x1="1480.53" y1="1148.00" x2="1480.53" y2="1135.80" stroke="#000" stroke-width="4.0" stroke-linecap="butt"/>
<line x1="1480.53" y1="630.10" x2="1480.53" y2="642.30" stroke="#000" stroke-width="4.0" stroke-linecap="butt"/>
<line x1="1518.90" y1="1148.00" x2="1518.90" y2="1127.80" stroke="#000" stroke-width="4.0" stroke-linecap="butt"/>
<line x1="1518.90" y1="630.10" x2="1518.90" y2="650.30" stroke="#000" stroke-width="4.0" stroke-linecap="butt"/>
<line x1="1557.28" y1="1148.00" x2="1557.28" y2="1135.80" stroke="#000" stroke-width="4.0" stroke-linecap="butt"/>
<line x1="1557.28" y1="630.10" x2="1557.28" y2="642.30" stroke="#000" stroke-width="4.0" stroke-linecap="butt"/>
<line x1="1595.65" y1="1148.00" x2="1595.65" y2="1127.80" stroke="#000" stroke-width="4.0" stroke-linecap="butt"/>
<line x1="1595.65" y1="630.10" x2="1595.65" y2="650.30" stroke="#000" stroke-width="4.0" stroke-linecap="butt"/>
<line x1="1634.03" y1="1148.00" x2="1634.03" y2="1135.80" stroke="#000" stroke-width="4.0" stroke-linecap="butt"/>
<line x1="1634.03" y1="630.10" x2="1634.03" y2="642.30" stroke="#000" stroke-width="4.0" stroke-linecap="butt"/>
<line x1="1672.40" y1="1148.00" x2="1672.40" y2="1127.80" stroke="#000" stroke-width="4.0" stroke-linecap="butt"/>
<line x1="1672.40" y1="630.10" x2="1672.40" y2="650.30" stroke="#000" stroke-width="4.0" stroke-linecap="butt"/>
<line x1="1710.78" y1="1148.00" x2="1710.78" y2="1135.80" stroke="#000" stroke-width="4.0" stroke-linecap="butt"/>
<line x1="1710.78" y1="630.10" x2="1710.78" y2="642.30" stroke="#000" stroke-width="4.0" stroke-linecap="butt"/>
<line x1="1058.40" y1="1104.84" x2="1078.60" y2="1104.84" stroke="#000" stroke-width="4.0" stroke-linecap="butt"/>
<line x1="1749.10" y1="1104.84" x2="1728.90" y2="1104.84" stroke="#000" stroke-width="4.0" stroke-linecap="butt"/>
<line x1="1058.40" y1="1061.68" x2="1070.60" y2="1061.68" stroke="#000" stroke-width="4.0" stroke-linecap="butt"/>
<line x1="1749.10" y1="1061.68" x2="1736.90" y2="1061.68" stroke="#000" stroke-width="4.0" stroke-linecap="butt"/>
<line x1="1058.40" y1="1018.52" x2="1078.60" y2="1018.52" stroke="#000" stroke-width="4.0" stroke-linecap="butt"/>
<line x1="1749.10" y1="1018.52" x2="1728.90" y2="1018.52" stroke="#000" stroke-width="4.0" stroke-linecap="butt"/>
<line x1="1058.40" y1="975.36" x2="1070.60" y2="975.36" stroke="#000" stroke-width="4.0" stroke-linecap="butt"/>
<line x1="1749.10" y1="975.36" x2="1736.90" y2="975.36" stroke="#000" stroke-width="4.0" stroke-linecap="butt"/>
<line x1="1058.40" y1="932.20" x2="1078.60" y2="932.20" stroke="#000" stroke-width="4.0" stroke-linecap="butt"/>
<line x1="1749.10" y1="932.20" x2="1728.90" y2="932.20" stroke="#000" stroke-width="4.0" stroke-linecap="butt"/>
<line x1="1058.40" y1="889.04" x2="1070.60" y2="889.04" stroke="#000" stroke-width="4.0" stroke-linecap="butt"/>
<line x1="1749.10" y1="889.04" x2="1736.90" y2="889.04" stroke="#000" stroke-width="4.0" stroke-linecap="butt"/>
<line x1="1058.40" y1="845.88" x2="1078.60" y2="845.88" stroke="#000" stroke-width="4.0" stroke-linecap="butt"/>
<line x1="1749.10" y1="845.88" x2="1728.90" y2="845.88" stroke="#000" stroke-width="4.0" stroke-linecap="butt"/>
<line x1="1058.40" y1="802.72" x2="1070.60" y2="802.72" stroke="#000" stroke-width="4.0" stroke-linecap="butt"/>
<line x1="1749.10" y1="802.72" x2="1736.90" y2="802.72" stroke="#000" stroke-width="4.0" stroke-linecap="butt"/>
<line x1="1058.40" y1="759.56" x2="1078.60" y2="759.56" stroke="#000" stroke-width="4.0" stroke-linecap="butt"/>
<line x1="1749.10" y1="759.56" x2="1728.90" y2="759.56" stroke="#000" stroke-width="4.0" stroke-linecap="butt"/>
<line x1="1058.40" y1="716.40" x2="1070.60" y2="716.40" stroke="#000" stroke-width="4.0" stroke-linecap="butt"/>
<line x1="1749.10" y1="716.40" x2="1736.90" y2="716.40" stroke="#000" stroke-width="4.0" stroke-linecap="butt"/>
<line x1="1058.40" y1="673.24" x2="1078.60" y2="673.24" stroke="#000" stroke-width="4.0" stroke-linecap="butt"/>
<line x1="1749.10" y1="673.24" x2="1728.90" y2="673.24" stroke="#000" stroke-width="4.0" stroke-linecap="butt"/>
<rect x="1058.4" y="630.1" width="690.70" height="517.90" fill="none" stroke="#000" stroke-width="4.17"/>
<g clip-path="url(#clipC)">
<path d="M1058.4,807.1L1060.1,807.1L1061.9,807.1L1063.6,807.1L1065.3,807.1L1067.1,807.1L1068.8,807.1L1070.5,807.1L1072.2,807.1L1074.0,807.1L1075.7,807.1L1077.4,807.1L1079.2,807.1L1080.9,807.1L1082.6,807.1L1084.4,807.1L1086.1,807.1L1087.8,807.1L1089.6,807.1L1091.3,807.1L1093.0,807.1L1094.8,807.1L1096.5,807.1L1098.2,807.1L1099.9,807.1L1101.7,807.1L1103.4,807.1L1105.1,807.1L1106.9,807.1L1108.6,807.1L1110.3,807.1L1112.1,807.1L1113.8,807.1L1115.5,807.1L1117.3,807.1L1119.0,807.1L1120.7,807.1L1122.5,807.1L1124.2,807.1L1125.9,807.1L1127.6,807.1L1129.4,807.1L1131.1,807.1L1132.8,807.1L1134.6,807.1L1136.3,807.1L1138.0,807.1L1139.8,807.1L1141.5,807.1L1143.2,807.1L1145.0,807.1L1146.7,807.1L1148.4,807.1L1150.2,807.1L1151.9,807.1L1153.6,807.1L1155.3,807.1L1157.1,807.1L1158.8,807.1L1160.5,807.1L1162.3,807.1L1164.0,807.1L1165.7,807.1L1167.5,807.1L1169.2,807.1L1170.9,807.1L1172.7,807.1L1174.4,807.1L1176.1,807.1L1177.9,807.1L1179.6,807.1L1181.3,807.1L1183.0,807.1L1184.8,807.1L1186.5,807.1L1188.2,807.1L1190.0,807.1L1191.7,807.1L1193.4,807.1L1195.2,807.1L1196.9,807.1L1198.6,807.1L1200.4,807.1L1202.1,807.1L1203.8,807.1L1205.6,807.1L1207.3,807.1L1209.0,807.1L1210.7,807.1L1212.5,807.1L1214.2,807.1L1215.9,807.1L1217.7,807.1L1219.4,807.1L1221.1,807.1L1222.9,807.1L1224.6,807.1L1226.3,807.1L1228.1,807.1L1229.8,807.1L1231.5,807.1L1233.3,807.1L1235.0,807.1L1236.7,807.1L1238.4,807.1L1240.2,807.1L1241.9,807.1L1243.6,807.1L1245.4,807.1L1247.1,807.1L1248.8,807.1L1250.6,807.1L1252.3,807.1L1254.0,807.1L1255.8,807.1L1257.5,807.1L1259.2,807.1L1261.0,807.1L1262.7,807.1L1264.4,807.1L1266.1,807.1L1267.9,807.1L1269.6,807.1L1271.3,807.1L1273.1,807.1L1274.8,807.1L1276.5,807.1L1278.3,807.1L1280.0,807.1L1281.7,807.1L1283.5,807.1L1285.2,807.1L1286.9,807.1L1288.7,807.1L1290.4,807.1L1292.1,807.1L1293.8,807.1L1295.6,807.1L1297.3,807.1L1299.0,807.1L1300.8,807.1L1302.5,807.1L1304.2,807.1L1306.0,807.1L1307.7,807.1L1309.4,807.1L1311.2,807.1L1312.9,807.1L1314.6,807.1L1316.3,807.1L1318.1,807.1L1319.8,807.1L1321.5,807.1L1323.3,807.1L1325.0,807.1L1326.7,807.1L1328.5,807.1L1330.2,807.1L1331.9,807.0L1333.7,807.0L1335.4,807.0L1337.1,807.0L1338.9,807.0L1340.6,807.0L1342.3,807.0L1344.0,807.0L1345.8,807.0L1347.5,807.0L1349.2,807.0L1351.0,807.0L1352.7,807.0L1354.4,807.0L1356.2,807.0L1357.9,807.0L1359.6,806.9L1361.4,806.9L1363.1,806.9L1364.8,806.9L1366.6,806.9L1368.3,806.9L1370.0,806.9L1371.7,806.9L1373.5,806.8L1375.2,806.8L1376.9,806.8L1378.7,806.8L1380.4,806.8L1382.1,806.8L1383.9,806.7L1385.6,806.7L1387.3,806.7L1389.1,806.7L1390.8,806.6L1392.5,806.6L1394.3,806.6L1396.0,806.6L1397.7,806.5L1399.4,806.5L1401.2,806.5L1402.9,806.4L1404.6,806.4L1406.4,806.3L1408.1,806.3L1409.8,806.3L1411.6,806.2L1413.3,806.2L1415.0,806.1L1416.8,806.0L1418.5,806.0L1420.2,805.9L1422.0,805.9L1423.7,805.8L1425.4,805.7L1427.1,805.6L1428.9,805.6L1430.6,805.5L1432.3,805.4L1434.1,805.3L1435.8,805.2L1437.5,805.1L1439.3,805.0L1441.0,804.8L1442.7,804.7L1444.5,804.6L1446.2,804.4L1447.9,804.3L1449.7,804.1L1451.4,804.0L1453.1,803.8L1454.8,803.6L1456.6,803.4L1458.3,803.2L1460.0,803.0L1461.8,802.8L1463.5,802.5L1465.2,802.3L1467.0,802.0L1468.7,801.8L1470.4,801.5L1472.2,801.2L1473.9,800.8L1475.6,800.5L1477.4,800.2L1479.1,799.8L1480.8,799.4L1482.5,799.0L1484.3,798.5L1486.0,798.1L1487.7,797.6L1489.5,797.1L1491.2,796.6L1492.9,796.0L1494.7,795.5L1496.4,794.9L1498.1,794.2L1499.9,793.6L1501.6,792.9L1503.3,792.2L1505.1,791.4L1506.8,790.6L1508.5,789.8L1510.2,788.9L1512.0,788.0L1513.7,787.1L1515.4,786.1L1517.2,785.1L1518.9,784.0L1520.6,782.9L1522.4,781.8L1524.1,780.6L1525.8,779.4L1527.6,778.1L1529.3,776.8L1531.0,775.4L1532.7,774.0L1534.5,772.6L1536.2,771.1L1537.9,769.5L1539.7,768.0L1541.4,766.3L1543.1,764.6L1544.9,762.9L1546.6,761.2L1548.3,759.4L1550.1,757.5L1551.8,755.6L1553.5,753.7L1555.3,751.8L1557.0,749.8L1558.7,747.7L1560.4,745.7L1562.2,743.6L1563.9,741.5L1565.6,739.4L1567.4,737.3L1569.1,735.1L1570.8,733.0L1572.6,730.8L1574.3,728.6L1576.0,726.5L1577.8,724.3L1579.5,722.1L1581.2,720.0L1583.0,717.8L1584.7,715.7L1586.4,713.6L1588.1,711.5L1589.9,709.4L1591.6,707.3L1593.3,705.3L1595.1,703.3L1596.8,701.3L1598.5,699.4L1600.3,697.5L1602.0,695.7L1603.7,693.9L1605.5,692.1L1607.2,690.4L1608.9,688.7L1610.7,687.0L1612.4,685.4L1614.1,683.9L1615.8,682.4L1617.6,680.9L1619.3,679.5L1621.0,678.1L1622.8,676.8L1624.5,675.5L1626.2,674.3L1628.0,673.1L1629.7,672.0L1631.4,670.9L1633.2,669.8L1634.9,668.8L1636.6,667.8L1638.4,666.9L1640.1,666.0L1641.8,665.1L1643.5,664.3L1645.3,663.5L1647.0,662.7L1648.7,662.0L1650.5,661.3L1652.2,660.6L1653.9,660.0L1655.7,659.4L1657.4,658.8L1659.1,658.2L1660.9,657.7L1662.6,657.2L1664.3,656.7L1666.1,656.3L1667.8,655.8L1669.5,655.4L1671.2,655.0L1673.0,654.6L1674.7,654.3L1676.4,653.9L1678.2,653.6L1679.9,653.3L1681.6,653.0L1683.4,652.7L1685.1,652.5L1686.8,652.2L1688.6,652.0L1690.3,651.8L1692.0,651.5L1693.8,651.3L1695.5,651.1L1697.2,651.0L1698.9,650.8L1700.7,650.6L1702.4,650.5L1704.1,650.3L1705.9,650.2L1707.6,650.0L1709.3,649.9L1711.1,649.8L1712.8,649.7L1714.5,649.6L1716.3,649.5L1718.0,649.4L1719.7,649.3L1721.5,649.2L1723.2,649.1L1724.9,649.0L1726.6,648.9L1728.4,648.9L1730.1,648.8L1731.8,648.7L1733.6,648.7L1735.3,648.6L1737.0,648.6L1738.8,648.5L1740.5,648.5L1742.2,648.4L1744.0,648.4L1745.7,648.3L1747.4,648.3L1749.2,648.3" fill="none" stroke="#3f4fa2" stroke-width="3.7"/>
<path d="M1058.4,1102.2L1060.1,1102.2L1061.9,1102.2L1063.6,1102.2L1065.3,1102.2L1067.1,1102.1L1068.8,1102.1L1070.5,1102.1L1072.2,1102.1L1074.0,1102.1L1075.7,1102.1L1077.4,1102.1L1079.2,1102.1L1080.9,1102.1L1082.6,1102.1L1084.4,1102.1L1086.1,1102.1L1087.8,1102.1L1089.6,1102.1L1091.3,1102.1L1093.0,1102.1L1094.8,1102.1L1096.5,1102.1L1098.2,1102.1L1099.9,1102.1L1101.7,1102.1L1103.4,1102.0L1105.1,1102.0L1106.9,1102.0L1108.6,1102.0L1110.3,1102.0L1112.1,1102.0L1113.8,1102.0L1115.5,1102.0L1117.3,1102.0L1119.0,1102.0L1120.7,1101.9L1122.5,1101.9L1124.2,1101.9L1125.9,1101.9L1127.6,1101.9L1129.4,1101.9L1131.1,1101.8L1132.8,1101.8L1134.6,1101.8L1136.3,1101.8L1138.0,1101.8L1139.8,1101.7L1141.5,1101.7L1143.2,1101.7L1145.0,1101.6L1146.7,1101.6L1148.4,1101.6L1150.2,1101.6L1151.9,1101.5L1153.6,1101.5L1155.3,1101.4L1157.1,1101.4L1158.8,1101.4L1160.5,1101.3L1162.3,1101.3L1164.0,1101.2L1165.7,1101.2L1167.5,1101.1L1169.2,1101.0L1170.9,1101.0L1172.7,1100.9L1174.4,1100.8L1176.1,1100.8L1177.9,1100.7L1179.6,1100.6L1181.3,1100.5L1183.0,1100.4L1184.8,1100.3L1186.5,1100.2L1188.2,1100.1L1190.0,1100.0L1191.7,1099.9L1193.4,1099.7L1195.2,1099.6L1196.9,1099.5L1198.6,1099.3L1200.4,1099.1L1202.1,1099.0L1203.8,1098.8L1205.6,1098.6L1207.3,1098.4L1209.0,1098.2L1210.7,1098.0L1212.5,1097.8L1214.2,1097.5L1215.9,1097.3L1217.7,1097.0L1219.4,1096.7L1221.1,1096.4L1222.9,1096.1L1224.6,1095.8L1226.3,1095.4L1228.1,1095.1L1229.8,1094.7L1231.5,1094.3L1233.3,1093.9L1235.0,1093.4L1236.7,1093.0L1238.4,1092.5L1240.2,1092.0L1241.9,1091.4L1243.6,1090.8L1245.4,1090.3L1247.1,1089.6L1248.8,1089.0L1250.6,1088.3L1252.3,1087.5L1254.0,1086.8L1255.8,1086.0L1257.5,1085.2L1259.2,1084.3L1261.0,1083.4L1262.7,1082.4L1264.4,1081.4L1266.1,1080.4L1267.9,1079.3L1269.6,1078.1L1271.3,1076.9L1273.1,1075.7L1274.8,1074.4L1276.5,1073.0L1278.3,1071.6L1280.0,1070.1L1281.7,1068.6L1283.5,1067.0L1285.2,1065.3L1286.9,1063.6L1288.7,1061.8L1290.4,1060.0L1292.1,1058.1L1293.8,1056.1L1295.6,1054.1L1297.3,1051.9L1299.0,1049.7L1300.8,1047.5L1302.5,1045.2L1304.2,1042.8L1306.0,1040.3L1307.7,1037.8L1309.4,1035.2L1311.2,1032.6L1312.9,1029.9L1314.6,1027.1L1316.3,1024.2L1318.1,1021.4L1319.8,1018.4L1321.5,1015.4L1323.3,1012.4L1325.0,1009.3L1326.7,1006.2L1328.5,1003.0L1330.2,999.9L1331.9,996.6L1333.7,993.4L1335.4,990.1L1337.1,986.9L1338.9,983.6L1340.6,980.3L1342.3,977.0L1344.0,973.7L1345.8,970.5L1347.5,967.2L1349.2,964.0L1351.0,960.8L1352.7,957.6L1354.4,954.4L1356.2,951.3L1357.9,948.2L1359.6,945.2L1361.4,942.2L1363.1,939.2L1364.8,936.3L1366.6,933.5L1368.3,930.7L1370.0,928.0L1371.7,925.4L1373.5,922.8L1375.2,920.3L1376.9,917.8L1378.7,915.4L1380.4,913.1L1382.1,910.8L1383.9,908.6L1385.6,906.5L1387.3,904.5L1389.1,902.5L1390.8,900.6L1392.5,898.7L1394.3,896.9L1396.0,895.2L1397.7,893.6L1399.4,892.0L1401.2,890.4L1402.9,889.0L1404.6,887.6L1406.4,886.2L1408.1,884.9L1409.8,883.6L1411.6,882.4L1413.3,881.3L1415.0,880.2L1416.8,879.2L1418.5,878.1L1420.2,877.2L1422.0,876.3L1423.7,875.4L1425.4,874.6L1427.1,873.8L1428.9,873.0L1430.6,872.3L1432.3,871.6L1434.1,870.9L1435.8,870.3L1437.5,869.7L1439.3,869.1L1441.0,868.6L1442.7,868.1L1444.5,867.6L1446.2,867.1L1447.9,866.7L1449.7,866.2L1451.4,865.8L1453.1,865.5L1454.8,865.1L1456.6,864.7L1458.3,864.4L1460.0,864.1L1461.8,863.8L1463.5,863.5L1465.2,863.3L1467.0,863.0L1468.7,862.8L1470.4,862.5L1472.2,862.3L1473.9,862.1L1475.6,861.9L1477.4,861.7L1479.1,861.6L1480.8,861.4L1482.5,861.2L1484.3,861.1L1486.0,860.9L1487.7,860.8L1489.5,860.7L1491.2,860.6L1492.9,860.4L1494.7,860.3L1496.4,860.2L1498.1,860.1L1499.9,860.0L1501.6,859.9L1503.3,859.9L1505.1,859.8L1506.8,859.7L1508.5,859.6L1510.2,859.6L1512.0,859.5L1513.7,859.4L1515.4,859.4L1517.2,859.3L1518.9,859.3L1520.6,859.2L1522.4,859.2L1524.1,859.1L1525.8,859.1L1527.6,859.1L1529.3,859.0L1531.0,859.0L1532.7,858.9L1534.5,858.9L1536.2,858.9L1537.9,858.9L1539.7,858.8L1541.4,858.8L1543.1,858.8L1544.9,858.8L1546.6,858.7L1548.3,858.7L1550.1,858.7L1551.8,858.7L1553.5,858.7L1555.3,858.6L1557.0,858.6L1558.7,858.6L1560.4,858.6L1562.2,858.6L1563.9,858.6L1565.6,858.6L1567.4,858.5L1569.1,858.5L1570.8,858.5L1572.6,858.5L1574.3,858.5L1576.0,858.5L1577.8,858.5L1579.5,858.5L1581.2,858.5L1583.0,858.5L1584.7,858.5L1586.4,858.4L1588.1,858.4L1589.9,858.4L1591.6,858.4L1593.3,858.4L1595.1,858.4L1596.8,858.4L1598.5,858.4L1600.3,858.4L1602.0,858.4L1603.7,858.4L1605.5,858.4L1607.2,858.4L1608.9,858.4L1610.7,858.4L1612.4,858.4L1614.1,858.4L1615.8,858.4L1617.6,858.4L1619.3,858.4L1621.0,858.4L1622.8,858.4L1624.5,858.4L1626.2,858.4L1628.0,858.4L1629.7,858.4L1631.4,858.4L1633.2,858.4L1634.9,858.4L1636.6,858.4L1638.4,858.4L1640.1,858.4L1641.8,858.4L1643.5,858.4L1645.3,858.4L1647.0,858.4L1648.7,858.4L1650.5,858.4L1652.2,858.3L1653.9,858.3L1655.7,858.3L1657.4,858.3L1659.1,858.3L1660.9,858.3L1662.6,858.3L1664.3,858.3L1666.1,858.3L1667.8,858.3L1669.5,858.3L1671.2,858.3L1673.0,858.3L1674.7,858.3L1676.4,858.3L1678.2,858.3L1679.9,858.3L1681.6,858.3L1683.4,858.3L1685.1,858.3L1686.8,858.3L1688.6,858.3L1690.3,858.3L1692.0,858.3L1693.8,858.3L1695.5,858.3L1697.2,858.3L1698.9,858.3L1700.7,858.3L1702.4,858.3L1704.1,858.3L1705.9,858.3L1707.6,858.3L1709.3,858.3L1711.1,858.3L1712.8,858.3L1714.5,858.3L1716.3,858.3L1718.0,858.3L1719.7,858.3L1721.5,858.3L1723.2,858.3L1724.9,858.3L1726.6,858.3L1728.4,858.3L1730.1,858.3L1731.8,858.3L1733.6,858.3L1735.3,858.3L1737.0,858.3L1738.8,858.3L1740.5,858.3L1742.2,858.3L1744.0,858.3L1745.7,858.3L1747.4,858.3L1749.2,858.3" fill="none" stroke="#000" stroke-width="4.1"/>
<circle cx="1065.0" cy="812.0" r="5.9" fill="#3f4fa2"/>
<circle cx="1095.1" cy="806.0" r="5.9" fill="#3f4fa2"/>
<circle cx="1137.8" cy="808.4" r="5.9" fill="#3f4fa2"/>
<circle cx="1176.7" cy="806.8" r="5.9" fill="#3f4fa2"/>
<circle cx="1215.9" cy="805.8" r="5.9" fill="#3f4fa2"/>
<circle cx="1226.8" cy="805.8" r="5.9" fill="#3f4fa2"/>
<circle cx="1237.4" cy="809.0" r="5.9" fill="#3f4fa2"/>
<circle cx="1247.8" cy="809.8" r="5.9" fill="#3f4fa2"/>
<circle cx="1257.8" cy="809.0" r="5.9" fill="#3f4fa2"/>
<circle cx="1267.4" cy="808.6" r="5.9" fill="#3f4fa2"/>
<circle cx="1276.5" cy="808.6" r="5.9" fill="#3f4fa2"/>
<circle cx="1286.1" cy="808.0" r="5.9" fill="#3f4fa2"/>
<circle cx="1295.5" cy="808.8" r="5.9" fill="#3f4fa2"/>
<circle cx="1304.9" cy="806.8" r="5.9" fill="#3f4fa2"/>
<circle cx="1314.4" cy="807.5" r="5.9" fill="#3f4fa2"/>
<circle cx="1324.0" cy="807.1" r="5.9" fill="#3f4fa2"/>
<circle cx="1334.1" cy="807.1" r="5.9" fill="#3f4fa2"/>
<circle cx="1344.5" cy="806.1" r="5.9" fill="#3f4fa2"/>
<circle cx="1355.1" cy="806.5" r="5.9" fill="#3f4fa2"/>
<circle cx="1367.1" cy="806.5" r="5.9" fill="#3f4fa2"/>
<circle cx="1380.6" cy="805.5" r="5.9" fill="#3f4fa2"/>
<circle cx="1397.8" cy="805.5" r="5.9" fill="#3f4fa2"/>
<circle cx="1408.4" cy="806.1" r="5.9" fill="#3f4fa2"/>
<circle cx="1422.2" cy="803.0" r="5.9" fill="#3f4fa2"/>
<circle cx="1440.3" cy="803.4" r="5.9" fill="#3f4fa2"/>
<circle cx="1461.5" cy="806.1" r="5.9" fill="#3f4fa2"/>
<circle cx="1480.4" cy="796.0" r="5.9" fill="#3f4fa2"/>
<circle cx="1488.4" cy="794.6" r="5.9" fill="#3f4fa2"/>
<circle cx="1496.0" cy="793.6" r="5.9" fill="#3f4fa2"/>
<circle cx="1506.6" cy="790.0" r="5.9" fill="#3f4fa2"/>
<circle cx="1516.4" cy="785.4" r="5.9" fill="#3f4fa2"/>
<circle cx="1524.8" cy="790.0" r="5.9" fill="#3f4fa2"/>
<circle cx="1545.9" cy="758.9" r="5.9" fill="#3f4fa2"/>
<circle cx="1564.3" cy="741.2" r="5.9" fill="#3f4fa2"/>
<circle cx="1603.0" cy="691.5" r="5.9" fill="#3f4fa2"/>
<circle cx="1650.5" cy="658.1" r="5.9" fill="#3f4fa2"/>
<circle cx="1669.9" cy="652.1" r="5.9" fill="#3f4fa2"/>
<circle cx="1700.6" cy="650.5" r="5.9" fill="#3f4fa2"/>
<circle cx="1720.6" cy="649.5" r="5.9" fill="#3f4fa2"/>
<circle cx="1743.1" cy="651.1" r="5.9" fill="#3f4fa2"/>
<circle cx="1065.0" cy="1103.4" r="5.9" fill="#000"/>
<circle cx="1095.1" cy="1101.0" r="5.9" fill="#000"/>
<circle cx="1137.8" cy="1101.6" r="5.9" fill="#000"/>
<circle cx="1176.7" cy="1100.4" r="5.9" fill="#000"/>
<circle cx="1215.9" cy="1095.8" r="5.9" fill="#000"/>
<circle cx="1226.8" cy="1093.8" r="5.9" fill="#000"/>
<circle cx="1237.4" cy="1092.8" r="5.9" fill="#000"/>
<circle cx="1247.8" cy="1091.0" r="5.9" fill="#000"/>
<circle cx="1257.8" cy="1085.8" r="5.9" fill="#000"/>
<circle cx="1267.4" cy="1079.4" r="5.9" fill="#000"/>
<circle cx="1276.5" cy="1073.3" r="5.9" fill="#000"/>
<circle cx="1286.1" cy="1065.9" r="5.9" fill="#000"/>
<circle cx="1295.5" cy="1055.9" r="5.9" fill="#000"/>
<circle cx="1304.9" cy="1040.9" r="5.9" fill="#000"/>
<circle cx="1314.0" cy="1027.5" r="5.9" fill="#000"/>
<circle cx="1324.0" cy="1011.5" r="5.9" fill="#000"/>
<circle cx="1334.5" cy="992.4" r="5.9" fill="#000"/>
<circle cx="1344.7" cy="969.4" r="5.9" fill="#000"/>
<circle cx="1355.5" cy="951.9" r="5.9" fill="#000"/>
<circle cx="1367.1" cy="932.7" r="5.9" fill="#000"/>
<circle cx="1380.6" cy="913.7" r="5.9" fill="#000"/>
<circle cx="1397.8" cy="893.8" r="5.9" fill="#000"/>
<circle cx="1408.4" cy="886.2" r="5.9" fill="#000"/>
<circle cx="1422.2" cy="876.2" r="5.9" fill="#000"/>
<circle cx="1440.3" cy="869.2" r="5.9" fill="#000"/>
<circle cx="1461.5" cy="867.8" r="5.9" fill="#000"/>
<circle cx="1480.4" cy="860.2" r="5.9" fill="#000"/>
<circle cx="1488.4" cy="859.2" r="5.9" fill="#000"/>
<circle cx="1496.0" cy="860.2" r="5.9" fill="#000"/>
<circle cx="1506.6" cy="858.8" r="5.9" fill="#000"/>
<circle cx="1516.4" cy="859.4" r="5.9" fill="#000"/>
<circle cx="1524.8" cy="859.8" r="5.9" fill="#000"/>
<circle cx="1545.9" cy="856.2" r="5.9" fill="#000"/>
<circle cx="1564.5" cy="857.8" r="5.9" fill="#000"/>
<circle cx="1603.0" cy="855.2" r="5.9" fill="#000"/>
<circle cx="1650.7" cy="857.6" r="5.9" fill="#000"/>
<circle cx="1669.9" cy="857.9" r="5.9" fill="#000"/>
<circle cx="1700.6" cy="859.5" r="5.9" fill="#000"/>
<circle cx="1720.6" cy="859.5" r="5.9" fill="#000"/>
<circle cx="1743.1" cy="861.9" r="5.9" fill="#000"/>
</g>
<text transform="translate(1049.00,1118.34) scale(1,0.975)" font-size="33.33" fill="#000" text-anchor="end">0.1</text>
<text transform="translate(1049.00,1032.02) scale(1,0.975)" font-size="33.33" fill="#000" text-anchor="end">0.2</text>
<text transform="translate(1049.00,945.70) scale(1,0.975)" font-size="33.33" fill="#000" text-anchor="end">0.3</text>
<text transform="translate(1049.00,859.38) scale(1,0.975)" font-size="33.33" fill="#000" text-anchor="end">0.4</text>
<text transform="translate(1049.00,773.06) scale(1,0.975)" font-size="33.33" fill="#000" text-anchor="end">0.5</text>
<text transform="translate(1049.00,686.74) scale(1,0.975)" font-size="33.33" fill="#000" text-anchor="end">0.6</text>
<text transform="translate(1058.40,1197.00) scale(1,0.975)" font-size="33.33" fill="#000" text-anchor="middle">3</text>
<text transform="translate(1135.15,1197.00) scale(1,0.975)" font-size="33.33" fill="#000" text-anchor="middle">4</text>
<text transform="translate(1211.90,1197.00) scale(1,0.975)" font-size="33.33" fill="#000" text-anchor="middle">5</text>
<text transform="translate(1288.65,1197.00) scale(1,0.975)" font-size="33.33" fill="#000" text-anchor="middle">6</text>
<text transform="translate(1365.40,1197.00) scale(1,0.975)" font-size="33.33" fill="#000" text-anchor="middle">7</text>
<text transform="translate(1442.15,1197.00) scale(1,0.975)" font-size="33.33" fill="#000" text-anchor="middle">8</text>
<text transform="translate(1518.90,1197.00) scale(1,0.975)" font-size="33.33" fill="#000" text-anchor="middle">9</text>
<text transform="translate(1595.65,1197.00) scale(1,0.975)" font-size="33.33" fill="#000" text-anchor="middle">10</text>
<text transform="translate(1672.40,1197.00) scale(1,0.975)" font-size="33.33" fill="#000" text-anchor="middle">11</text>
<text transform="translate(1749.15,1197.00) scale(1,0.975)" font-size="33.33" fill="#000" text-anchor="middle">12</text>
<text transform="translate(1404.00,1249.80) scale(1,1.06)" font-size="33.33" fill="#000" text-anchor="middle">pH</text>
<text transform="translate(960.5,889) rotate(-90) scale(1,1.06)" font-size="33.33" text-anchor="middle">Absorbance (abs.)</text>
<text transform="translate(1098.80,789.00) scale(1,0.975)" font-size="33.33" fill="#3f4fa2">317 nm</text>
<text transform="translate(1098.80,1082.80) scale(1,0.975)" font-size="33.33" fill="#000">389 nm</text>
</svg>
</body></html>
